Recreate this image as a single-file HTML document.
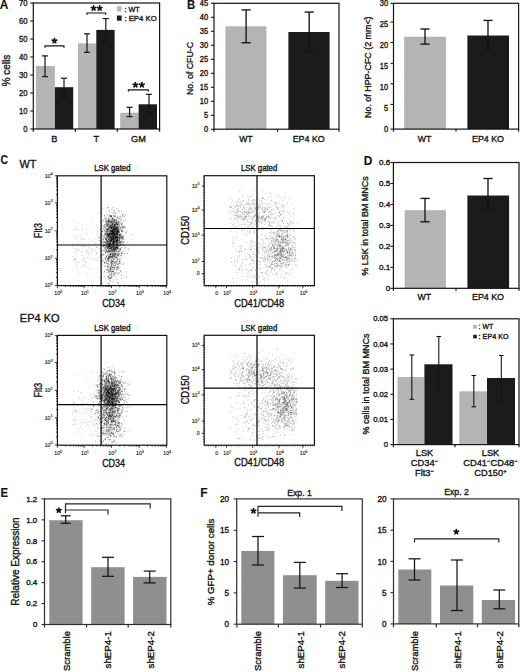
<!DOCTYPE html>
<html><head><meta charset="utf-8"><style>
html,body{margin:0;padding:0;background:#fff;overflow:hidden;}
svg{display:block;font-family:"Liberation Sans",sans-serif;}
</style></head><body>
<svg width="520" height="672" viewBox="0 0 520 672" fill="#151515">
<text transform="translate(-0.2 8.5) scale(0.953 1)" font-size="12.5" font-weight="bold" stroke="#151515" stroke-width="0.15">A</text>
<rect x="35.8" y="66" width="19.1" height="63" fill="#b4b4b4"/>
<rect x="54.9" y="87.2" width="18.3" height="41.8" fill="#1b1b1b"/>
<rect x="78" y="43.4" width="18.3" height="85.6" fill="#b4b4b4"/>
<rect x="96.3" y="29.9" width="18.3" height="99.1" fill="#1b1b1b"/>
<rect x="120.2" y="112.7" width="18.4" height="16.3" fill="#b4b4b4"/>
<rect x="138.6" y="104.3" width="18.4" height="24.7" fill="#1b1b1b"/>
<line x1="45" y1="55.9" x2="45" y2="76.6" stroke="#141414" stroke-width="1.2"/>
<line x1="42" y1="55.9" x2="48" y2="55.9" stroke="#141414" stroke-width="1.2"/>
<line x1="42" y1="76.6" x2="48" y2="76.6" stroke="#141414" stroke-width="1.2"/>
<line x1="64" y1="78.2" x2="64" y2="96" stroke="#141414" stroke-width="1.2"/>
<line x1="61" y1="78.2" x2="67" y2="78.2" stroke="#141414" stroke-width="1.2"/>
<line x1="61" y1="96" x2="67" y2="96" stroke="#141414" stroke-width="1.2"/>
<line x1="87" y1="33.8" x2="87" y2="52.4" stroke="#141414" stroke-width="1.2"/>
<line x1="84" y1="33.8" x2="90" y2="33.8" stroke="#141414" stroke-width="1.2"/>
<line x1="84" y1="52.4" x2="90" y2="52.4" stroke="#141414" stroke-width="1.2"/>
<line x1="105.8" y1="18.6" x2="105.8" y2="41.4" stroke="#141414" stroke-width="1.2"/>
<line x1="102.8" y1="18.6" x2="108.8" y2="18.6" stroke="#141414" stroke-width="1.2"/>
<line x1="102.8" y1="41.4" x2="108.8" y2="41.4" stroke="#141414" stroke-width="1.2"/>
<line x1="129.6" y1="107.3" x2="129.6" y2="116.6" stroke="#141414" stroke-width="1.2"/>
<line x1="126.6" y1="107.3" x2="132.6" y2="107.3" stroke="#141414" stroke-width="1.2"/>
<line x1="126.6" y1="116.6" x2="132.6" y2="116.6" stroke="#141414" stroke-width="1.2"/>
<line x1="149" y1="94.3" x2="149" y2="113.4" stroke="#141414" stroke-width="1.2"/>
<line x1="146" y1="94.3" x2="152" y2="94.3" stroke="#141414" stroke-width="1.2"/>
<line x1="146" y1="113.4" x2="152" y2="113.4" stroke="#141414" stroke-width="1.2"/>
<rect x="33.3" y="3" width="126.3" height="126" fill="none" stroke="#141414" stroke-width="1.2"/>
<line x1="30.3" y1="3" x2="33.3" y2="3" stroke="#141414" stroke-width="1.1"/>
<text transform="translate(27.5 6.15) scale(0.870 1)" font-size="8.9" text-anchor="end" stroke="#151515" stroke-width="0.35">70</text>
<line x1="30.3" y1="21" x2="33.3" y2="21" stroke="#141414" stroke-width="1.1"/>
<text transform="translate(27.5 24.15) scale(0.870 1)" font-size="8.9" text-anchor="end" stroke="#151515" stroke-width="0.35">60</text>
<line x1="30.3" y1="39" x2="33.3" y2="39" stroke="#141414" stroke-width="1.1"/>
<text transform="translate(27.5 42.15) scale(0.870 1)" font-size="8.9" text-anchor="end" stroke="#151515" stroke-width="0.35">50</text>
<line x1="30.3" y1="57" x2="33.3" y2="57" stroke="#141414" stroke-width="1.1"/>
<text transform="translate(27.5 60.15) scale(0.870 1)" font-size="8.9" text-anchor="end" stroke="#151515" stroke-width="0.35">40</text>
<line x1="30.3" y1="75" x2="33.3" y2="75" stroke="#141414" stroke-width="1.1"/>
<text transform="translate(27.5 78.15) scale(0.870 1)" font-size="8.9" text-anchor="end" stroke="#151515" stroke-width="0.35">30</text>
<line x1="30.3" y1="93" x2="33.3" y2="93" stroke="#141414" stroke-width="1.1"/>
<text transform="translate(27.5 96.15) scale(0.870 1)" font-size="8.9" text-anchor="end" stroke="#151515" stroke-width="0.35">20</text>
<line x1="30.3" y1="111" x2="33.3" y2="111" stroke="#141414" stroke-width="1.1"/>
<text transform="translate(27.5 114.15) scale(0.870 1)" font-size="8.9" text-anchor="end" stroke="#151515" stroke-width="0.35">10</text>
<line x1="30.3" y1="129" x2="33.3" y2="129" stroke="#141414" stroke-width="1.1"/>
<text transform="translate(27.5 132.15) scale(0.870 1)" font-size="8.9" text-anchor="end" stroke="#151515" stroke-width="0.35">0</text>
<line x1="33.3" y1="129" x2="33.3" y2="131.8" stroke="#141414" stroke-width="1.2"/>
<line x1="75.4" y1="129" x2="75.4" y2="131.8" stroke="#141414" stroke-width="1.2"/>
<line x1="117.3" y1="129" x2="117.3" y2="131.8" stroke="#141414" stroke-width="1.2"/>
<line x1="159.6" y1="129" x2="159.6" y2="131.8" stroke="#141414" stroke-width="1.2"/>
<text transform="translate(10 70.5) rotate(-90) scale(0.966 1)" font-size="10.3" text-anchor="middle" stroke="#151515" stroke-width="0.35">% cells</text>
<polyline points="45,47.8 45,45.8 64,45.8 64,47.8" fill="none" stroke="#141414" stroke-width="1.2"/>
<path d="M54.40 40.80L54.40 38.50M54.40 40.80L56.59 40.09M54.40 40.80L55.75 42.66M54.40 40.80L53.05 42.66M54.40 40.80L52.21 40.09" stroke="#111" stroke-width="1.7" stroke-linecap="round" fill="none"/>
<polyline points="87,14.8 87,13 105.6,13 105.6,14.8" fill="none" stroke="#141414" stroke-width="1.2"/>
<path d="M93.60 8.20L93.60 5.90M93.60 8.20L95.79 7.49M93.60 8.20L94.95 10.06M93.60 8.20L92.25 10.06M93.60 8.20L91.41 7.49" stroke="#111" stroke-width="1.7" stroke-linecap="round" fill="none"/>
<path d="M99.70 8.20L99.70 5.90M99.70 8.20L101.89 7.49M99.70 8.20L101.05 10.06M99.70 8.20L98.35 10.06M99.70 8.20L97.51 7.49" stroke="#111" stroke-width="1.7" stroke-linecap="round" fill="none"/>
<polyline points="128.4,91.6 128.4,89.8 148.3,89.8 148.3,91.6" fill="none" stroke="#141414" stroke-width="1.2"/>
<path d="M135.40 84.90L135.40 82.60M135.40 84.90L137.59 84.19M135.40 84.90L136.75 86.76M135.40 84.90L134.05 86.76M135.40 84.90L133.21 84.19" stroke="#111" stroke-width="1.7" stroke-linecap="round" fill="none"/>
<path d="M141.90 84.90L141.90 82.60M141.90 84.90L144.09 84.19M141.90 84.90L143.25 86.76M141.90 84.90L140.55 86.76M141.90 84.90L139.71 84.19" stroke="#111" stroke-width="1.7" stroke-linecap="round" fill="none"/>
<rect x="116.9" y="6.3" width="4.7" height="5.1" fill="#b4b4b4"/>
<rect x="116.9" y="15.5" width="4.7" height="5.2" fill="#1b1b1b"/>
<text transform="translate(124.4 11.5) scale(0.936 1)" font-size="7.8" stroke="#151515" stroke-width="0.35">: WT</text>
<text transform="translate(124.4 20.8) scale(0.993 1)" font-size="7.8" stroke="#151515" stroke-width="0.35">: EP4 KO</text>
<text transform="translate(54.4 142.3) scale(0.950 1)" font-size="9.7" text-anchor="middle" stroke="#151515" stroke-width="0.35">B</text>
<text transform="translate(96.3 142.3) scale(0.950 1)" font-size="9.7" text-anchor="middle" stroke="#151515" stroke-width="0.35">T</text>
<text transform="translate(138.4 142.3) scale(0.950 1)" font-size="9.7" text-anchor="middle" stroke="#151515" stroke-width="0.35">GM</text>
<text transform="translate(187 8.8) scale(0.946 1)" font-size="12" font-weight="bold" stroke="#151515" stroke-width="0.15">B</text>
<rect x="225.4" y="26.3" width="41" height="102.9" fill="#b4b4b4"/>
<rect x="288.4" y="32" width="41.2" height="97.2" fill="#1b1b1b"/>
<line x1="246.1" y1="9.9" x2="246.1" y2="42.7" stroke="#141414" stroke-width="1.35"/>
<line x1="241.5" y1="9.9" x2="250.7" y2="9.9" stroke="#141414" stroke-width="1.35"/>
<line x1="241.5" y1="42.7" x2="250.7" y2="42.7" stroke="#141414" stroke-width="1.35"/>
<line x1="309.2" y1="12.1" x2="309.2" y2="51.6" stroke="#141414" stroke-width="1.35"/>
<line x1="304.6" y1="12.1" x2="313.8" y2="12.1" stroke="#141414" stroke-width="1.35"/>
<line x1="304.6" y1="51.6" x2="313.8" y2="51.6" stroke="#141414" stroke-width="1.35"/>
<rect x="214" y="3.3" width="125" height="125.9" fill="none" stroke="#141414" stroke-width="1.2"/>
<line x1="211" y1="3.3" x2="214" y2="3.3" stroke="#141414" stroke-width="1.1"/>
<text transform="translate(208.2 6.25) scale(0.920 1)" font-size="8.16" text-anchor="end" stroke="#151515" stroke-width="0.35">45</text>
<line x1="211" y1="17.3" x2="214" y2="17.3" stroke="#141414" stroke-width="1.1"/>
<text transform="translate(208.2 20.25) scale(0.920 1)" font-size="8.16" text-anchor="end" stroke="#151515" stroke-width="0.35">40</text>
<line x1="211" y1="31.3" x2="214" y2="31.3" stroke="#141414" stroke-width="1.1"/>
<text transform="translate(208.2 34.25) scale(0.920 1)" font-size="8.16" text-anchor="end" stroke="#151515" stroke-width="0.35">35</text>
<line x1="211" y1="45.3" x2="214" y2="45.3" stroke="#141414" stroke-width="1.1"/>
<text transform="translate(208.2 48.25) scale(0.920 1)" font-size="8.16" text-anchor="end" stroke="#151515" stroke-width="0.35">30</text>
<line x1="211" y1="59.3" x2="214" y2="59.3" stroke="#141414" stroke-width="1.1"/>
<text transform="translate(208.2 62.25) scale(0.920 1)" font-size="8.16" text-anchor="end" stroke="#151515" stroke-width="0.35">25</text>
<line x1="211" y1="73.3" x2="214" y2="73.3" stroke="#141414" stroke-width="1.1"/>
<text transform="translate(208.2 76.25) scale(0.920 1)" font-size="8.16" text-anchor="end" stroke="#151515" stroke-width="0.35">20</text>
<line x1="211" y1="87.3" x2="214" y2="87.3" stroke="#141414" stroke-width="1.1"/>
<text transform="translate(208.2 90.25) scale(0.920 1)" font-size="8.16" text-anchor="end" stroke="#151515" stroke-width="0.35">15</text>
<line x1="211" y1="101.3" x2="214" y2="101.3" stroke="#141414" stroke-width="1.1"/>
<text transform="translate(208.2 104.25) scale(0.920 1)" font-size="8.16" text-anchor="end" stroke="#151515" stroke-width="0.35">10</text>
<line x1="211" y1="115.3" x2="214" y2="115.3" stroke="#141414" stroke-width="1.1"/>
<text transform="translate(208.2 118.25) scale(0.920 1)" font-size="8.16" text-anchor="end" stroke="#151515" stroke-width="0.35">5</text>
<line x1="211" y1="129.3" x2="214" y2="129.3" stroke="#141414" stroke-width="1.1"/>
<text transform="translate(208.2 132.25) scale(0.920 1)" font-size="8.16" text-anchor="end" stroke="#151515" stroke-width="0.35">0</text>
<line x1="213.9" y1="129.2" x2="213.9" y2="131.8" stroke="#141414" stroke-width="1.2"/>
<line x1="277.5" y1="129.2" x2="277.5" y2="131.8" stroke="#141414" stroke-width="1.2"/>
<line x1="339" y1="129.2" x2="339" y2="131.8" stroke="#141414" stroke-width="1.2"/>
<text transform="translate(192.6 68.5) rotate(-90) scale(0.893 1)" font-size="9.8" text-anchor="middle" stroke="#151515" stroke-width="0.35">No. of CFU-C</text>
<text transform="translate(245.9 141.8) scale(0.987 1)" font-size="8.8" text-anchor="middle" stroke="#151515" stroke-width="0.35">WT</text>
<text transform="translate(308.7 141.8) scale(1.010 1)" font-size="8.8" text-anchor="middle" stroke="#151515" stroke-width="0.35">EP4 KO</text>
<rect x="404.2" y="36.7" width="41.8" height="92.4" fill="#b4b4b4"/>
<rect x="467.4" y="35.5" width="41.6" height="93.6" fill="#1b1b1b"/>
<line x1="425" y1="29" x2="425" y2="44.1" stroke="#141414" stroke-width="1.35"/>
<line x1="420.4" y1="29" x2="429.6" y2="29" stroke="#141414" stroke-width="1.35"/>
<line x1="420.4" y1="44.1" x2="429.6" y2="44.1" stroke="#141414" stroke-width="1.35"/>
<line x1="488" y1="20.4" x2="488" y2="49.8" stroke="#141414" stroke-width="1.35"/>
<line x1="483.4" y1="20.4" x2="492.6" y2="20.4" stroke="#141414" stroke-width="1.35"/>
<line x1="483.4" y1="49.8" x2="492.6" y2="49.8" stroke="#141414" stroke-width="1.35"/>
<rect x="393.5" y="3.3" width="125.1" height="125.8" fill="none" stroke="#141414" stroke-width="1.2"/>
<line x1="390.5" y1="3.4" x2="393.5" y2="3.4" stroke="#141414" stroke-width="1.1"/>
<text transform="translate(388.2 6.45) scale(0.920 1)" font-size="8.16" text-anchor="end" stroke="#151515" stroke-width="0.35">30</text>
<line x1="390.5" y1="22.1" x2="393.5" y2="22.1" stroke="#141414" stroke-width="1.1"/>
<text transform="translate(388.2 27.45) scale(0.920 1)" font-size="8.16" text-anchor="end" stroke="#151515" stroke-width="0.35">25</text>
<line x1="390.5" y1="42.5" x2="393.5" y2="42.5" stroke="#141414" stroke-width="1.1"/>
<text transform="translate(388.2 47.75) scale(0.920 1)" font-size="8.16" text-anchor="end" stroke="#151515" stroke-width="0.35">20</text>
<line x1="390.5" y1="63.3" x2="393.5" y2="63.3" stroke="#141414" stroke-width="1.1"/>
<text transform="translate(388.2 68.85) scale(0.920 1)" font-size="8.16" text-anchor="end" stroke="#151515" stroke-width="0.35">15</text>
<line x1="390.5" y1="83.8" x2="393.5" y2="83.8" stroke="#141414" stroke-width="1.1"/>
<text transform="translate(388.2 90.25) scale(0.920 1)" font-size="8.16" text-anchor="end" stroke="#151515" stroke-width="0.35">10</text>
<line x1="390.5" y1="104.4" x2="393.5" y2="104.4" stroke="#141414" stroke-width="1.1"/>
<text transform="translate(388.2 110.95) scale(0.920 1)" font-size="8.16" text-anchor="end" stroke="#151515" stroke-width="0.35">5</text>
<line x1="390.5" y1="129.1" x2="393.5" y2="129.1" stroke="#141414" stroke-width="1.1"/>
<text transform="translate(388.2 131.55) scale(0.920 1)" font-size="8.16" text-anchor="end" stroke="#151515" stroke-width="0.35">0</text>
<line x1="393.5" y1="129.1" x2="393.5" y2="131.6" stroke="#141414" stroke-width="1.2"/>
<line x1="456" y1="129.1" x2="456" y2="131.6" stroke="#141414" stroke-width="1.2"/>
<line x1="518.6" y1="129.1" x2="518.6" y2="131.6" stroke="#141414" stroke-width="1.2"/>
<text transform="translate(371.2 67.2) rotate(-90) scale(0.957 1)" font-size="9.3" text-anchor="middle" stroke="#151515" stroke-width="0.35">No. of HPP-CFC (2 mm&lt;)</text>
<text transform="translate(424.5 141.8) scale(0.987 1)" font-size="8.8" text-anchor="middle" stroke="#151515" stroke-width="0.35">WT</text>
<text transform="translate(488 141.8) scale(1.010 1)" font-size="8.8" text-anchor="middle" stroke="#151515" stroke-width="0.35">EP4 KO</text>
<text transform="translate(363.8 164.9) scale(0.992 1)" font-size="12" font-weight="bold" stroke="#151515" stroke-width="0.15">D</text>
<rect x="404.7" y="210.2" width="41.2" height="78.1" fill="#b4b4b4"/>
<rect x="467.4" y="195.5" width="41.7" height="92.8" fill="#1b1b1b"/>
<line x1="425" y1="198.4" x2="425" y2="221.8" stroke="#141414" stroke-width="1.35"/>
<line x1="420.4" y1="198.4" x2="429.6" y2="198.4" stroke="#141414" stroke-width="1.35"/>
<line x1="420.4" y1="221.8" x2="429.6" y2="221.8" stroke="#141414" stroke-width="1.35"/>
<line x1="488" y1="178.5" x2="488" y2="210.9" stroke="#141414" stroke-width="1.35"/>
<line x1="483.4" y1="178.5" x2="492.6" y2="178.5" stroke="#141414" stroke-width="1.35"/>
<line x1="483.4" y1="210.9" x2="492.6" y2="210.9" stroke="#141414" stroke-width="1.35"/>
<rect x="393.4" y="162.5" width="125.6" height="125.8" fill="none" stroke="#141414" stroke-width="1.2"/>
<line x1="390.4" y1="162.5" x2="393.4" y2="162.5" stroke="#141414" stroke-width="1.1"/>
<text transform="translate(390.2 165.25)" font-size="8.06" text-anchor="end" stroke="#151515" stroke-width="0.35">0.6</text>
<line x1="390.4" y1="183.47" x2="393.4" y2="183.47" stroke="#141414" stroke-width="1.1"/>
<text transform="translate(390.2 186.22)" font-size="8.06" text-anchor="end" stroke="#151515" stroke-width="0.35">0.5</text>
<line x1="390.4" y1="204.43" x2="393.4" y2="204.43" stroke="#141414" stroke-width="1.1"/>
<text transform="translate(390.2 207.18)" font-size="8.06" text-anchor="end" stroke="#151515" stroke-width="0.35">0.4</text>
<line x1="390.4" y1="225.4" x2="393.4" y2="225.4" stroke="#141414" stroke-width="1.1"/>
<text transform="translate(390.2 228.15)" font-size="8.06" text-anchor="end" stroke="#151515" stroke-width="0.35">0.3</text>
<line x1="390.4" y1="246.37" x2="393.4" y2="246.37" stroke="#141414" stroke-width="1.1"/>
<text transform="translate(390.2 249.12)" font-size="8.06" text-anchor="end" stroke="#151515" stroke-width="0.35">0.2</text>
<line x1="390.4" y1="267.33" x2="393.4" y2="267.33" stroke="#141414" stroke-width="1.1"/>
<text transform="translate(390.2 270.08)" font-size="8.06" text-anchor="end" stroke="#151515" stroke-width="0.35">0.1</text>
<line x1="390.4" y1="288.3" x2="393.4" y2="288.3" stroke="#141414" stroke-width="1.1"/>
<text transform="translate(390.2 291.05)" font-size="8.06" text-anchor="end" stroke="#151515" stroke-width="0.35">0</text>
<line x1="393.4" y1="288.3" x2="393.4" y2="290.8" stroke="#141414" stroke-width="1.2"/>
<line x1="456" y1="288.3" x2="456" y2="290.8" stroke="#141414" stroke-width="1.2"/>
<line x1="519" y1="288.3" x2="519" y2="290.8" stroke="#141414" stroke-width="1.2"/>
<text transform="translate(368.2 226) rotate(-90) scale(0.963 1)" font-size="9.3" text-anchor="middle" stroke="#151515" stroke-width="0.35">% LSK in total BM MNCs</text>
<text transform="translate(424.3 299.9) scale(0.987 1)" font-size="8.8" text-anchor="middle" stroke="#151515" stroke-width="0.35">WT</text>
<text transform="translate(488 299.9) scale(1.010 1)" font-size="8.8" text-anchor="middle" stroke="#151515" stroke-width="0.35">EP4 KO</text>
<rect x="397.5" y="377" width="26.9" height="67.6" fill="#b4b4b4"/>
<rect x="424.4" y="364.3" width="28.1" height="80.3" fill="#1b1b1b"/>
<rect x="459.3" y="391.3" width="27.7" height="53.3" fill="#b4b4b4"/>
<rect x="487" y="378" width="28" height="66.6" fill="#1b1b1b"/>
<line x1="411.8" y1="355" x2="411.8" y2="399.3" stroke="#141414" stroke-width="1.1"/>
<line x1="409.5" y1="355" x2="414.1" y2="355" stroke="#141414" stroke-width="1.1"/>
<line x1="409.5" y1="399.3" x2="414.1" y2="399.3" stroke="#141414" stroke-width="1.1"/>
<line x1="438.8" y1="336.5" x2="438.8" y2="392" stroke="#141414" stroke-width="1.1"/>
<line x1="436.5" y1="336.5" x2="441.1" y2="336.5" stroke="#141414" stroke-width="1.1"/>
<line x1="436.5" y1="392" x2="441.1" y2="392" stroke="#141414" stroke-width="1.1"/>
<line x1="473.8" y1="375.5" x2="473.8" y2="406.8" stroke="#141414" stroke-width="1.1"/>
<line x1="471.5" y1="375.5" x2="476.1" y2="375.5" stroke="#141414" stroke-width="1.1"/>
<line x1="471.5" y1="406.8" x2="476.1" y2="406.8" stroke="#141414" stroke-width="1.1"/>
<line x1="501.3" y1="355.5" x2="501.3" y2="400" stroke="#141414" stroke-width="1.1"/>
<line x1="499" y1="355.5" x2="503.6" y2="355.5" stroke="#141414" stroke-width="1.1"/>
<line x1="499" y1="400" x2="503.6" y2="400" stroke="#141414" stroke-width="1.1"/>
<rect x="393.4" y="318.8" width="125.6" height="125.8" fill="none" stroke="#141414" stroke-width="1.2"/>
<line x1="390.4" y1="318.8" x2="393.4" y2="318.8" stroke="#141414" stroke-width="1.1"/>
<text transform="translate(388 321.45)" font-size="7.63" text-anchor="end" stroke="#151515" stroke-width="0.35">0.05</text>
<line x1="390.4" y1="343.96" x2="393.4" y2="343.96" stroke="#141414" stroke-width="1.1"/>
<text transform="translate(388 346.61)" font-size="7.63" text-anchor="end" stroke="#151515" stroke-width="0.35">0.04</text>
<line x1="390.4" y1="369.12" x2="393.4" y2="369.12" stroke="#141414" stroke-width="1.1"/>
<text transform="translate(388 371.77)" font-size="7.63" text-anchor="end" stroke="#151515" stroke-width="0.35">0.03</text>
<line x1="390.4" y1="394.28" x2="393.4" y2="394.28" stroke="#141414" stroke-width="1.1"/>
<text transform="translate(388 396.93)" font-size="7.63" text-anchor="end" stroke="#151515" stroke-width="0.35">0.02</text>
<line x1="390.4" y1="419.44" x2="393.4" y2="419.44" stroke="#141414" stroke-width="1.1"/>
<text transform="translate(388 422.09)" font-size="7.63" text-anchor="end" stroke="#151515" stroke-width="0.35">0.01</text>
<line x1="390.4" y1="444.6" x2="393.4" y2="444.6" stroke="#141414" stroke-width="1.1"/>
<text transform="translate(388 447.25)" font-size="7.63" text-anchor="end" stroke="#151515" stroke-width="0.35">0</text>
<line x1="393.4" y1="444.6" x2="393.4" y2="447.2" stroke="#141414" stroke-width="1.2"/>
<line x1="455" y1="444.6" x2="455" y2="447.2" stroke="#141414" stroke-width="1.2"/>
<line x1="519" y1="444.6" x2="519" y2="447.2" stroke="#141414" stroke-width="1.2"/>
<rect x="473.2" y="325" width="3.6" height="3.6" fill="#b4b4b4"/>
<rect x="473.2" y="334.8" width="3.6" height="3.6" fill="#1b1b1b"/>
<text transform="translate(478.6 329.3) scale(0.941 1)" font-size="7.3" stroke="#151515" stroke-width="0.35">: WT</text>
<text transform="translate(478.6 339.1) scale(0.986 1)" font-size="7.3" stroke="#151515" stroke-width="0.35">: EP4 KO</text>
<text transform="translate(368.5 384) rotate(-90) scale(0.970 1)" font-size="9.3" text-anchor="middle" stroke="#151515" stroke-width="0.35">% cells in total BM MNCs</text>
<text transform="translate(424.5 455.6)" font-size="9.3" text-anchor="middle" stroke="#151515" stroke-width="0.35">LSK</text>
<text transform="translate(424.5 466.3)" font-size="9.3" text-anchor="middle" stroke="#151515" stroke-width="0.35">CD34<tspan font-size="6" dy="-3.2">−</tspan></text>
<text transform="translate(424.5 476.3)" font-size="9.3" text-anchor="middle" stroke="#151515" stroke-width="0.35">Flt3<tspan font-size="6" dy="-3.2">−</tspan></text>
<text transform="translate(490.5 455.6)" font-size="9.3" text-anchor="middle" stroke="#151515" stroke-width="0.35">LSK</text>
<text transform="translate(490.5 466.3)" font-size="9.3" text-anchor="middle" stroke="#151515" stroke-width="0.35">CD41<tspan font-size="6" dy="-3.2">−</tspan><tspan dy="3.2">CD48</tspan><tspan font-size="6" dy="-3.2">−</tspan></text>
<text transform="translate(490.5 476.3)" font-size="9.3" text-anchor="middle" stroke="#151515" stroke-width="0.35">CD150<tspan font-size="6" dy="-3.2">+</tspan></text>
<text transform="translate(0.5 497.2) scale(0.949 1)" font-size="12" font-weight="bold" stroke="#151515" stroke-width="0.15">E</text>
<rect x="49.3" y="520.2" width="33.3" height="104.3" fill="#8f8f8f"/>
<rect x="91.2" y="567.2" width="33.4" height="57.3" fill="#8f8f8f"/>
<rect x="133.1" y="576.9" width="33.4" height="47.6" fill="#8f8f8f"/>
<line x1="65.7" y1="515.8" x2="65.7" y2="523.3" stroke="#141414" stroke-width="1.25"/>
<line x1="60.7" y1="515.8" x2="70.7" y2="515.8" stroke="#141414" stroke-width="1.25"/>
<line x1="60.7" y1="523.3" x2="70.7" y2="523.3" stroke="#141414" stroke-width="1.25"/>
<line x1="108" y1="557.3" x2="108" y2="576.3" stroke="#141414" stroke-width="1.25"/>
<line x1="102" y1="557.3" x2="114" y2="557.3" stroke="#141414" stroke-width="1.25"/>
<line x1="102" y1="576.3" x2="114" y2="576.3" stroke="#141414" stroke-width="1.25"/>
<line x1="149.7" y1="571.1" x2="149.7" y2="582.9" stroke="#141414" stroke-width="1.25"/>
<line x1="143.7" y1="571.1" x2="155.7" y2="571.1" stroke="#141414" stroke-width="1.25"/>
<line x1="143.7" y1="582.9" x2="155.7" y2="582.9" stroke="#141414" stroke-width="1.25"/>
<rect x="44.5" y="498.9" width="126.3" height="125.6" fill="none" stroke="#2e2e2e" stroke-width="1.2"/>
<line x1="41.5" y1="498.9" x2="44.5" y2="498.9" stroke="#2e2e2e" stroke-width="1.1"/>
<text transform="translate(37.3 501.65)" font-size="7.95" text-anchor="end" stroke="#151515" stroke-width="0.35">1.2</text>
<line x1="41.5" y1="519.83" x2="44.5" y2="519.83" stroke="#2e2e2e" stroke-width="1.1"/>
<text transform="translate(37.3 522.58)" font-size="7.95" text-anchor="end" stroke="#151515" stroke-width="0.35">1.0</text>
<line x1="41.5" y1="540.77" x2="44.5" y2="540.77" stroke="#2e2e2e" stroke-width="1.1"/>
<text transform="translate(37.3 543.52)" font-size="7.95" text-anchor="end" stroke="#151515" stroke-width="0.35">0.8</text>
<line x1="41.5" y1="561.7" x2="44.5" y2="561.7" stroke="#2e2e2e" stroke-width="1.1"/>
<text transform="translate(37.3 564.45)" font-size="7.95" text-anchor="end" stroke="#151515" stroke-width="0.35">0.6</text>
<line x1="41.5" y1="582.63" x2="44.5" y2="582.63" stroke="#2e2e2e" stroke-width="1.1"/>
<text transform="translate(37.3 585.38)" font-size="7.95" text-anchor="end" stroke="#151515" stroke-width="0.35">0.4</text>
<line x1="41.5" y1="603.57" x2="44.5" y2="603.57" stroke="#2e2e2e" stroke-width="1.1"/>
<text transform="translate(37.3 606.32)" font-size="7.95" text-anchor="end" stroke="#151515" stroke-width="0.35">0.2</text>
<line x1="41.5" y1="624.5" x2="44.5" y2="624.5" stroke="#2e2e2e" stroke-width="1.1"/>
<text transform="translate(37.3 627.25)" font-size="7.95" text-anchor="end" stroke="#151515" stroke-width="0.35">0</text>
<line x1="44.4" y1="624.5" x2="44.4" y2="627.5" stroke="#2e2e2e" stroke-width="1.2"/>
<line x1="86.5" y1="624.5" x2="86.5" y2="627.5" stroke="#2e2e2e" stroke-width="1.2"/>
<line x1="128.2" y1="624.5" x2="128.2" y2="627.5" stroke="#2e2e2e" stroke-width="1.2"/>
<line x1="170.8" y1="624.5" x2="170.8" y2="627.5" stroke="#2e2e2e" stroke-width="1.2"/>
<polyline points="65.5,513.2 65.5,503.9 150.2,503.9 150.2,508.4" fill="none" stroke="#252525" stroke-width="1.2"/>
<polyline points="65.5,510 108,510 108,514.4" fill="none" stroke="#252525" stroke-width="1.2"/>
<path d="M58.80 510.30L58.80 508.00M58.80 510.30L60.99 509.59M58.80 510.30L60.15 512.16M58.80 510.30L57.45 512.16M58.80 510.30L56.61 509.59" stroke="#111" stroke-width="1.7" stroke-linecap="round" fill="none"/>
<text transform="translate(18.8 561.5) rotate(-90)" font-size="10" text-anchor="middle" stroke="#151515" stroke-width="0.35">Relative Expression</text>
<text transform="translate(70.2 631.1) rotate(-90) scale(0.986 1)" font-size="9.6" text-anchor="end" stroke="#151515" stroke-width="0.35">Scramble</text>
<text transform="translate(110.6 631.1) rotate(-90) scale(1.016 1)" font-size="9.6" text-anchor="end" stroke="#151515" stroke-width="0.35">shEP4-1</text>
<text transform="translate(153.9 631.1) rotate(-90) scale(1.016 1)" font-size="9.6" text-anchor="end" stroke="#151515" stroke-width="0.35">shEP4-2</text>
<text transform="translate(200.3 497.4)" font-size="12" font-weight="bold" stroke="#151515" stroke-width="0.15">F</text>
<text transform="translate(299.5 496.2) scale(0.967 1)" font-size="8.9" text-anchor="middle" stroke="#151515" stroke-width="0.35">Exp. 1</text>
<rect x="241.3" y="550.9" width="33.1" height="73.3" fill="#8f8f8f"/>
<rect x="282.9" y="575.2" width="33.8" height="49" fill="#8f8f8f"/>
<rect x="325.2" y="580.8" width="33.3" height="43.4" fill="#8f8f8f"/>
<line x1="258" y1="536.5" x2="258" y2="565" stroke="#141414" stroke-width="1.25"/>
<line x1="252" y1="536.5" x2="264" y2="536.5" stroke="#141414" stroke-width="1.25"/>
<line x1="252" y1="565" x2="264" y2="565" stroke="#141414" stroke-width="1.25"/>
<line x1="299.8" y1="562.4" x2="299.8" y2="588.1" stroke="#141414" stroke-width="1.25"/>
<line x1="293.8" y1="562.4" x2="305.8" y2="562.4" stroke="#141414" stroke-width="1.25"/>
<line x1="293.8" y1="588.1" x2="305.8" y2="588.1" stroke="#141414" stroke-width="1.25"/>
<line x1="342.1" y1="573.7" x2="342.1" y2="587.5" stroke="#141414" stroke-width="1.25"/>
<line x1="336.1" y1="573.7" x2="348.1" y2="573.7" stroke="#141414" stroke-width="1.25"/>
<line x1="336.1" y1="587.5" x2="348.1" y2="587.5" stroke="#141414" stroke-width="1.25"/>
<rect x="236.7" y="498.9" width="125.6" height="125.3" fill="none" stroke="#2e2e2e" stroke-width="1.2"/>
<line x1="233.7" y1="498.9" x2="236.7" y2="498.9" stroke="#2e2e2e" stroke-width="1.1"/>
<text transform="translate(229.1 502.05)" font-size="8.16" text-anchor="end" stroke="#151515" stroke-width="0.35">20</text>
<line x1="233.7" y1="530.23" x2="236.7" y2="530.23" stroke="#2e2e2e" stroke-width="1.1"/>
<text transform="translate(229.1 533.38)" font-size="8.16" text-anchor="end" stroke="#151515" stroke-width="0.35">15</text>
<line x1="233.7" y1="561.55" x2="236.7" y2="561.55" stroke="#2e2e2e" stroke-width="1.1"/>
<text transform="translate(229.1 564.7)" font-size="8.16" text-anchor="end" stroke="#151515" stroke-width="0.35">10</text>
<line x1="233.7" y1="592.88" x2="236.7" y2="592.88" stroke="#2e2e2e" stroke-width="1.1"/>
<text transform="translate(229.1 596.02)" font-size="8.16" text-anchor="end" stroke="#151515" stroke-width="0.35">5</text>
<line x1="233.7" y1="624.2" x2="236.7" y2="624.2" stroke="#2e2e2e" stroke-width="1.1"/>
<text transform="translate(229.1 627.35)" font-size="8.16" text-anchor="end" stroke="#151515" stroke-width="0.35">0</text>
<line x1="236.9" y1="624.2" x2="236.9" y2="627.5" stroke="#2e2e2e" stroke-width="1.2"/>
<line x1="278.4" y1="624.2" x2="278.4" y2="627.5" stroke="#2e2e2e" stroke-width="1.2"/>
<line x1="320.5" y1="624.2" x2="320.5" y2="627.5" stroke="#2e2e2e" stroke-width="1.2"/>
<line x1="362.3" y1="624.2" x2="362.3" y2="627.5" stroke="#2e2e2e" stroke-width="1.2"/>
<polyline points="258,516.8 258,506.4 341.9,506.4 341.9,510.9" fill="none" stroke="#252525" stroke-width="1.2"/>
<polyline points="258,512.8 299.7,512.8 299.7,517" fill="none" stroke="#252525" stroke-width="1.2"/>
<path d="M253.50 510.90L253.50 508.60M253.50 510.90L255.69 510.19M253.50 510.90L254.85 512.76M253.50 510.90L252.15 512.76M253.50 510.90L251.31 510.19" stroke="#111" stroke-width="1.7" stroke-linecap="round" fill="none"/>
<text transform="translate(214.3 562) rotate(-90) scale(1.012 1)" font-size="9.6" text-anchor="middle" stroke="#151515" stroke-width="0.35">% GFP+ donor cells</text>
<text transform="translate(261.3 631.1) rotate(-90) scale(0.986 1)" font-size="9.6" text-anchor="end" stroke="#151515" stroke-width="0.35">Scramble</text>
<text transform="translate(303.5 631.1) rotate(-90) scale(1.016 1)" font-size="9.6" text-anchor="end" stroke="#151515" stroke-width="0.35">shEP4-1</text>
<text transform="translate(345.4 631.1) rotate(-90) scale(1.016 1)" font-size="9.6" text-anchor="end" stroke="#151515" stroke-width="0.35">shEP4-2</text>
<text transform="translate(456.5 494.6) scale(0.967 1)" font-size="8.9" text-anchor="middle" stroke="#151515" stroke-width="0.35">Exp. 2</text>
<rect x="398.3" y="569.5" width="33" height="54.4" fill="#8f8f8f"/>
<rect x="440" y="585.5" width="33.3" height="38.4" fill="#8f8f8f"/>
<rect x="481.8" y="600" width="33.2" height="23.9" fill="#8f8f8f"/>
<line x1="414.5" y1="558.8" x2="414.5" y2="580" stroke="#141414" stroke-width="1.25"/>
<line x1="408.5" y1="558.8" x2="420.5" y2="558.8" stroke="#141414" stroke-width="1.25"/>
<line x1="408.5" y1="580" x2="420.5" y2="580" stroke="#141414" stroke-width="1.25"/>
<line x1="457" y1="560" x2="457" y2="610.5" stroke="#141414" stroke-width="1.25"/>
<line x1="451" y1="560" x2="463" y2="560" stroke="#141414" stroke-width="1.25"/>
<line x1="451" y1="610.5" x2="463" y2="610.5" stroke="#141414" stroke-width="1.25"/>
<line x1="499.3" y1="590" x2="499.3" y2="608.8" stroke="#141414" stroke-width="1.25"/>
<line x1="493.3" y1="590" x2="505.3" y2="590" stroke="#141414" stroke-width="1.25"/>
<line x1="493.3" y1="608.8" x2="505.3" y2="608.8" stroke="#141414" stroke-width="1.25"/>
<rect x="393.5" y="498.9" width="125.3" height="125" fill="none" stroke="#2e2e2e" stroke-width="1.2"/>
<line x1="390.5" y1="498.9" x2="393.5" y2="498.9" stroke="#2e2e2e" stroke-width="1.1"/>
<text transform="translate(386.5 502.05)" font-size="8.16" text-anchor="end" stroke="#151515" stroke-width="0.35">20</text>
<line x1="390.5" y1="530.15" x2="393.5" y2="530.15" stroke="#2e2e2e" stroke-width="1.1"/>
<text transform="translate(386.5 533.3)" font-size="8.16" text-anchor="end" stroke="#151515" stroke-width="0.35">15</text>
<line x1="390.5" y1="561.4" x2="393.5" y2="561.4" stroke="#2e2e2e" stroke-width="1.1"/>
<text transform="translate(386.5 564.55)" font-size="8.16" text-anchor="end" stroke="#151515" stroke-width="0.35">10</text>
<line x1="390.5" y1="592.65" x2="393.5" y2="592.65" stroke="#2e2e2e" stroke-width="1.1"/>
<text transform="translate(386.5 595.8)" font-size="8.16" text-anchor="end" stroke="#151515" stroke-width="0.35">5</text>
<line x1="390.5" y1="623.9" x2="393.5" y2="623.9" stroke="#2e2e2e" stroke-width="1.1"/>
<text transform="translate(386.5 627.05)" font-size="8.16" text-anchor="end" stroke="#151515" stroke-width="0.35">0</text>
<line x1="393.5" y1="623.9" x2="393.5" y2="627.2" stroke="#2e2e2e" stroke-width="1.2"/>
<line x1="436.3" y1="623.9" x2="436.3" y2="627.2" stroke="#2e2e2e" stroke-width="1.2"/>
<line x1="477.5" y1="623.9" x2="477.5" y2="627.2" stroke="#2e2e2e" stroke-width="1.2"/>
<line x1="518.8" y1="623.9" x2="518.8" y2="627.2" stroke="#2e2e2e" stroke-width="1.2"/>
<polyline points="414.5,542.6 414.5,538.8 498.8,538.8 498.8,542.6" fill="none" stroke="#252525" stroke-width="1.2"/>
<path d="M456.30 531.80L456.30 529.50M456.30 531.80L458.49 531.09M456.30 531.80L457.65 533.66M456.30 531.80L454.95 533.66M456.30 531.80L454.11 531.09" stroke="#111" stroke-width="1.7" stroke-linecap="round" fill="none"/>
<text transform="translate(418 631.1) rotate(-90) scale(0.986 1)" font-size="9.6" text-anchor="end" stroke="#151515" stroke-width="0.35">Scramble</text>
<text transform="translate(461 631.1) rotate(-90) scale(1.016 1)" font-size="9.6" text-anchor="end" stroke="#151515" stroke-width="0.35">shEP4-1</text>
<text transform="translate(503.3 631.1) rotate(-90) scale(1.016 1)" font-size="9.6" text-anchor="end" stroke="#151515" stroke-width="0.35">shEP4-2</text>
<text transform="translate(0.5 164.1) scale(0.824 1)" font-size="12.6" font-weight="bold" stroke="#151515" stroke-width="0.15">C</text>
<text transform="translate(19.6 167.6) scale(0.962 1)" font-size="11.3" stroke="#151515" stroke-width="0.35">WT</text>
<text transform="translate(19.8 321.9) scale(1.049 1)" font-size="10.5" stroke="#151515" stroke-width="0.35">EP4 KO</text>
<path d="M114.7 238.9h0.85M116.9 247.7h0.85M114.6 256.7h0.85M106.7 263.5h0.85M117.3 248.5h0.85M115.1 223.4h0.85M110.4 231.0h0.85M115.8 237.5h0.85M114.7 255.7h0.85M114.4 241.8h0.85M113.1 247.0h0.85M115.6 233.3h0.85M109.5 240.9h0.85M112.2 242.2h0.85M110.7 230.4h0.85M115.9 242.8h0.85M113.2 245.7h0.85M111.6 233.4h0.85M109.2 245.2h0.85M111.8 251.5h0.85M113.0 235.7h0.85M111.7 235.0h0.85M119.2 231.9h0.85M117.8 228.8h0.85M100.0 236.6h0.85M103.9 230.9h0.85M112.2 231.9h0.85M111.0 227.3h0.85M114.0 219.6h0.85M114.0 225.6h0.85M123.2 238.3h0.85M107.7 223.2h0.85M111.2 228.5h0.85M122.8 251.4h0.85M116.1 246.3h0.85M116.2 228.1h0.85M110.5 241.0h0.85M105.1 228.5h0.85M113.8 251.3h0.85M113.5 229.1h0.85M107.1 235.8h0.85M109.7 248.8h0.85M112.7 226.7h0.85M108.5 248.0h0.85M112.5 226.8h0.85M113.5 237.4h0.85M113.2 232.0h0.85M110.6 234.1h0.85M115.8 236.6h0.85M117.3 234.3h0.85M114.5 224.8h0.85M109.1 243.7h0.85M116.5 242.2h0.85M110.6 247.9h0.85M117.2 248.8h0.85M107.9 221.6h0.85M117.4 247.9h0.85M112.9 248.0h0.85M107.0 229.7h0.85M111.5 245.4h0.85M113.3 249.7h0.85M114.3 229.6h0.85M108.3 221.2h0.85M107.7 231.4h0.85M114.0 262.9h0.85M110.8 237.4h0.85M114.1 222.9h0.85M116.6 232.5h0.85M105.1 225.1h0.85M114.2 231.0h0.85M118.9 236.0h0.85M111.6 209.4h0.85M109.1 238.6h0.85M116.6 249.1h0.85M114.2 233.0h0.85M117.3 231.2h0.85M111.3 245.9h0.85M105.9 222.3h0.85M112.5 222.5h0.85M110.9 221.1h0.85M116.7 233.4h0.85M113.9 238.9h0.85M105.2 234.1h0.85M107.3 240.5h0.85M117.2 243.3h0.85M116.3 240.0h0.85M109.9 226.9h0.85M113.0 232.3h0.85M115.1 247.5h0.85M115.2 224.5h0.85M117.2 232.5h0.85M114.2 230.8h0.85M112.5 233.2h0.85M111.8 224.2h0.85M118.1 221.5h0.85M102.2 260.6h0.85M112.3 244.5h0.85M113.2 227.9h0.85M106.2 234.4h0.85M114.6 241.8h0.85M109.9 231.6h0.85M117.1 241.2h0.85M112.4 228.8h0.85M116.2 231.4h0.85M118.9 234.2h0.85M114.8 230.4h0.85M108.8 210.5h0.85M105.7 235.2h0.85M121.4 237.6h0.85M112.5 239.8h0.85M109.7 225.1h0.85M113.7 238.4h0.85M112.1 237.2h0.85M117.1 217.3h0.85M113.2 213.0h0.85M113.1 239.8h0.85M109.6 225.5h0.85M115.3 245.0h0.85M108.0 256.4h0.85M116.2 229.2h0.85M120.3 228.1h0.85M105.7 234.9h0.85M101.2 241.7h0.85M116.0 223.6h0.85M125.2 247.5h0.85M108.2 244.9h0.85M107.0 241.6h0.85M115.8 229.6h0.85M109.0 244.2h0.85M110.6 243.6h0.85M111.3 223.0h0.85M115.6 255.9h0.85M111.1 232.0h0.85M114.3 238.7h0.85M112.2 229.8h0.85M108.9 238.8h0.85M111.5 246.6h0.85M108.4 226.9h0.85M113.0 218.4h0.85M107.6 230.5h0.85M107.8 221.9h0.85M120.0 227.4h0.85M112.7 233.7h0.85M112.7 234.4h0.85M115.5 247.9h0.85M111.0 224.9h0.85M111.9 238.5h0.85M115.0 229.9h0.85M114.4 248.7h0.85M107.4 260.3h0.85M117.0 238.0h0.85M110.2 251.7h0.85M107.9 229.7h0.85M108.7 219.0h0.85M111.1 222.3h0.85M120.8 219.2h0.85M107.4 225.5h0.85M113.8 232.6h0.85M102.7 246.5h0.85M113.0 242.0h0.85M117.3 239.6h0.85M111.9 230.8h0.85M110.0 227.8h0.85M114.1 235.3h0.85M116.4 236.4h0.85M116.2 237.6h0.85M122.5 238.7h0.85M114.0 233.8h0.85M110.2 215.8h0.85M112.4 223.8h0.85M112.7 226.7h0.85M113.5 252.0h0.85M112.9 230.7h0.85M113.8 241.8h0.85M105.0 249.6h0.85M117.0 238.3h0.85M110.2 231.1h0.85M107.4 232.1h0.85M116.1 224.8h0.85M119.3 238.1h0.85M115.4 246.3h0.85M113.8 240.7h0.85M108.5 242.7h0.85M126.8 242.2h0.85M117.2 255.0h0.85M107.5 228.7h0.85M109.3 236.6h0.85M113.4 242.1h0.85M105.5 247.5h0.85M113.8 210.7h0.85M110.8 229.8h0.85M118.9 232.9h0.85M117.6 224.7h0.85M100.0 243.5h0.85M113.2 237.2h0.85M105.2 231.0h0.85M118.3 218.7h0.85M113.8 221.8h0.85M115.6 225.1h0.85M107.9 239.5h0.85M121.8 222.8h0.85M122.7 214.3h0.85M107.9 220.5h0.85M114.8 229.1h0.85M109.8 251.7h0.85M112.9 260.0h0.85M106.9 230.2h0.85M122.0 244.4h0.85M108.3 249.0h0.85M111.6 247.8h0.85M115.4 233.8h0.85M109.9 222.0h0.85M111.9 230.1h0.85M110.3 216.4h0.85M112.4 237.4h0.85M107.4 242.8h0.85M110.9 216.1h0.85M112.0 234.5h0.85M111.4 237.9h0.85M113.3 247.5h0.85M111.6 248.8h0.85M116.6 243.0h0.85M111.4 228.1h0.85M112.3 231.3h0.85M109.8 247.0h0.85M110.5 228.9h0.85M106.9 234.6h0.85M115.5 250.6h0.85M107.5 236.3h0.85M109.4 221.3h0.85M114.7 232.0h0.85M114.9 241.4h0.85M111.1 233.1h0.85M103.3 246.6h0.85M115.0 247.8h0.85M114.2 228.5h0.85M106.2 230.0h0.85M116.7 234.0h0.85M109.6 223.0h0.85M107.6 238.8h0.85M113.5 233.2h0.85M112.1 242.9h0.85M114.0 229.0h0.85M105.3 226.2h0.85M121.7 253.4h0.85M110.1 226.2h0.85M105.6 229.1h0.85M116.0 227.7h0.85M111.3 232.0h0.85M114.6 225.8h0.85M111.4 234.6h0.85M112.7 228.0h0.85M114.2 230.8h0.85M109.4 238.6h0.85M116.3 242.0h0.85M110.7 239.7h0.85M108.8 227.6h0.85M113.4 239.0h0.85M115.1 233.8h0.85M111.9 233.9h0.85M108.9 217.8h0.85M116.0 241.7h0.85M104.6 233.6h0.85M108.1 252.1h0.85M113.2 241.4h0.85M106.5 223.8h0.85M113.1 221.3h0.85M112.7 246.5h0.85M117.3 226.3h0.85M108.6 241.8h0.85M110.0 232.0h0.85M114.6 256.0h0.85M101.2 235.8h0.85M127.9 250.2h0.85M109.6 248.3h0.85M109.5 230.4h0.85M117.1 231.7h0.85M112.8 249.9h0.85M104.5 235.1h0.85M116.0 226.4h0.85M117.1 247.1h0.85M110.8 260.8h0.85M111.6 234.8h0.85M115.3 249.2h0.85M108.6 233.6h0.85M115.1 248.8h0.85M114.0 232.9h0.85M109.8 248.6h0.85M106.3 240.8h0.85M111.9 233.5h0.85M108.8 237.8h0.85M117.8 230.0h0.85M113.7 224.2h0.85M116.8 224.9h0.85M113.6 234.9h0.85M114.3 224.9h0.85M109.2 239.9h0.85M116.2 240.9h0.85M121.6 240.3h0.85M111.5 230.6h0.85M110.2 236.2h0.85M112.2 235.4h0.85M110.7 248.9h0.85M109.6 227.6h0.85M113.7 231.8h0.85M111.6 233.3h0.85M119.9 234.2h0.85M113.0 228.2h0.85M114.6 229.4h0.85M117.6 245.9h0.85M111.6 229.3h0.85M119.9 244.9h0.85M110.0 256.1h0.85M109.1 248.5h0.85M111.2 217.6h0.85M112.4 243.4h0.85M106.3 240.5h0.85M112.8 241.2h0.85M105.0 219.4h0.85M119.7 243.3h0.85M112.6 224.8h0.85M109.9 248.6h0.85M108.6 246.4h0.85M111.2 261.2h0.85M111.9 231.8h0.85M108.0 220.4h0.85M108.6 246.1h0.85M112.1 244.4h0.85M110.5 231.8h0.85M117.5 249.2h0.85M118.5 242.5h0.85M113.1 222.7h0.85M115.3 232.1h0.85M106.6 231.2h0.85M116.1 234.5h0.85M112.9 237.5h0.85M115.3 228.7h0.85M120.7 233.6h0.85M102.1 241.5h0.85M114.3 234.9h0.85M107.7 232.9h0.85M115.8 232.6h0.85M106.7 234.6h0.85M110.6 216.4h0.85M114.0 237.2h0.85M115.9 225.3h0.85M113.4 236.7h0.85M109.2 220.9h0.85M110.3 244.8h0.85M117.2 238.0h0.85M113.0 222.1h0.85M104.9 238.0h0.85M117.0 228.0h0.85M115.0 253.6h0.85M117.2 240.5h0.85M111.4 227.6h0.85M117.0 237.9h0.85M107.9 235.3h0.85M115.7 247.6h0.85M110.6 239.2h0.85M116.2 240.8h0.85M117.8 224.5h0.85M109.5 243.6h0.85M112.8 256.6h0.85M113.2 242.0h0.85M118.7 235.3h0.85M116.4 237.3h0.85M107.1 226.1h0.85M115.2 237.5h0.85M116.6 224.7h0.85M123.2 236.1h0.85M104.9 231.8h0.85M110.4 227.4h0.85M119.4 241.5h0.85M106.5 220.8h0.85M107.2 235.3h0.85M115.5 222.4h0.85M117.9 254.0h0.85M109.8 255.4h0.85M115.6 244.2h0.85M113.6 254.7h0.85M120.3 241.6h0.85M113.0 241.1h0.85M117.8 231.4h0.85M108.7 226.7h0.85M112.1 237.0h0.85M112.5 230.3h0.85M118.5 231.3h0.85M115.8 243.0h0.85M109.4 234.4h0.85M116.3 220.1h0.85M116.7 233.5h0.85M112.5 228.0h0.85M111.8 232.7h0.85M112.1 224.7h0.85M104.9 247.7h0.85M113.9 254.7h0.85M114.1 224.5h0.85M108.8 242.1h0.85M116.6 241.6h0.85M106.4 224.9h0.85M110.4 236.7h0.85M110.7 249.8h0.85M122.5 244.1h0.85M105.3 251.8h0.85M115.7 223.9h0.85M117.5 228.2h0.85M114.8 238.5h0.85M118.7 239.1h0.85M108.2 235.8h0.85M102.1 231.7h0.85M116.7 231.5h0.85M107.3 229.5h0.85M111.4 240.1h0.85M107.3 207.9h0.85M118.1 251.5h0.85M117.2 230.2h0.85M109.5 221.2h0.85M117.3 241.0h0.85M113.6 221.4h0.85M112.3 239.4h0.85M113.3 231.5h0.85M112.0 241.4h0.85M116.0 243.4h0.85M114.5 248.4h0.85M111.3 230.5h0.85M117.8 232.5h0.85M110.1 235.3h0.85M114.4 221.3h0.85M115.0 241.3h0.85M120.1 236.7h0.85M110.6 222.0h0.85M121.4 247.5h0.85M113.8 249.0h0.85M112.1 222.2h0.85M109.8 241.1h0.85M115.8 247.9h0.85M113.2 243.8h0.85M107.7 225.6h0.85M107.6 221.4h0.85M110.3 234.2h0.85M109.8 230.4h0.85M118.2 235.3h0.85M119.6 234.3h0.85M117.2 240.6h0.85M114.7 229.7h0.85M110.9 233.7h0.85M113.3 265.0h0.85M117.2 234.0h0.85M123.2 242.7h0.85M117.4 238.2h0.85M111.7 237.5h0.85M113.2 226.2h0.85M110.7 240.5h0.85M109.2 234.8h0.85M112.1 243.4h0.85M113.9 255.8h0.85M121.8 237.1h0.85M113.2 242.9h0.85M119.5 225.0h0.85M121.5 236.4h0.85M113.4 250.8h0.85M120.7 234.6h0.85M116.4 228.9h0.85M111.0 237.3h0.85M114.3 233.4h0.85M113.1 232.8h0.85M111.9 231.5h0.85M112.0 255.1h0.85M113.7 226.5h0.85M115.1 231.1h0.85M108.8 229.5h0.85M113.0 247.6h0.85M105.7 232.4h0.85M114.3 248.3h0.85M116.0 236.9h0.85M113.8 235.0h0.85M114.4 220.6h0.85M115.8 247.3h0.85M109.8 240.6h0.85M111.9 239.3h0.85M115.5 234.0h0.85M117.8 231.0h0.85M114.9 222.5h0.85M125.3 244.7h0.85M112.6 237.9h0.85M117.8 231.6h0.85M119.1 228.9h0.85M112.4 236.4h0.85M109.1 234.3h0.85M107.3 251.6h0.85M113.8 243.0h0.85M118.3 229.3h0.85M114.3 224.2h0.85M113.8 232.9h0.85M111.2 226.1h0.85M115.7 236.0h0.85M102.7 239.3h0.85M114.1 241.6h0.85M113.1 239.4h0.85M106.4 233.3h0.85M123.4 241.2h0.85M106.3 226.4h0.85M107.8 234.5h0.85M107.2 243.4h0.85M118.3 238.1h0.85M108.7 222.6h0.85M116.2 223.7h0.85M115.8 219.1h0.85M114.2 253.3h0.85M106.7 219.8h0.85M110.1 233.9h0.85M121.0 253.7h0.85M106.8 246.1h0.85M109.0 248.5h0.85M112.2 230.3h0.85M116.9 242.7h0.85M114.2 265.8h0.85M116.6 235.0h0.85M107.9 239.5h0.85M117.5 232.2h0.85M115.7 235.2h0.85M105.3 239.1h0.85M120.4 249.2h0.85M124.0 226.3h0.85M109.3 221.1h0.85M113.3 235.6h0.85M119.7 237.4h0.85M105.9 249.5h0.85M103.4 242.5h0.85M106.8 229.1h0.85M110.3 241.0h0.85M110.2 246.5h0.85M115.9 238.2h0.85M114.3 232.0h0.85M107.0 242.1h0.85M115.7 231.8h0.85M122.0 216.7h0.85M118.7 248.7h0.85M117.8 222.5h0.85M113.1 232.0h0.85M117.7 232.2h0.85M108.4 232.0h0.85M116.6 232.5h0.85M112.6 220.9h0.85M118.4 240.6h0.85M115.2 235.6h0.85M107.8 235.7h0.85M113.6 246.0h0.85M118.8 246.3h0.85M107.6 248.7h0.85M110.3 253.8h0.85M109.3 239.8h0.85M105.8 219.9h0.85M117.6 237.4h0.85M119.3 235.4h0.85M116.8 236.0h0.85M114.2 229.3h0.85M112.8 226.4h0.85M114.1 243.2h0.85M109.5 245.0h0.85M117.3 224.1h0.85M118.0 240.7h0.85M117.5 233.6h0.85M110.5 231.4h0.85M113.4 242.1h0.85M112.2 234.8h0.85M121.6 229.7h0.85M113.9 235.8h0.85M104.0 215.3h0.85M114.9 229.3h0.85M122.0 230.8h0.85M116.3 221.3h0.85M117.2 237.0h0.85M113.2 237.9h0.85M103.5 229.2h0.85M104.3 233.5h0.85M107.0 241.9h0.85M112.4 245.8h0.85M114.5 227.6h0.85M116.3 238.5h0.85M111.4 245.5h0.85M117.6 234.8h0.85M111.7 227.4h0.85M109.6 227.4h0.85M117.1 231.9h0.85M108.6 224.8h0.85M99.9 255.2h0.85M107.9 229.4h0.85M113.5 238.8h0.85M98.2 236.9h0.85M111.3 241.4h0.85M111.4 231.2h0.85M106.2 222.0h0.85M105.9 251.4h0.85M110.8 234.2h0.85M110.4 236.2h0.85M119.0 237.0h0.85M114.8 247.6h0.85M105.4 242.7h0.85M108.9 246.7h0.85M116.4 243.2h0.85M122.1 236.5h0.85M114.9 237.6h0.85M114.5 227.6h0.85M121.9 215.6h0.85M112.9 232.6h0.85M111.5 224.3h0.85M106.2 260.9h0.85M110.5 250.6h0.85M123.5 246.7h0.85M106.2 229.5h0.85M113.1 255.6h0.85M106.2 218.0h0.85M113.6 222.9h0.85M117.3 227.2h0.85M111.8 225.4h0.85M116.5 236.3h0.85M116.5 237.0h0.85M115.1 254.1h0.85M121.2 245.0h0.85M116.7 247.2h0.85M111.5 239.2h0.85M109.7 233.5h0.85M108.9 228.2h0.85M115.3 219.9h0.85M111.4 226.3h0.85M126.1 231.2h0.85M121.8 242.6h0.85M112.0 218.2h0.85M111.4 221.4h0.85M121.1 237.2h0.85M104.0 224.5h0.85M110.8 238.4h0.85M117.6 230.9h0.85M108.6 227.5h0.85M110.7 221.7h0.85M111.3 234.1h0.85M116.2 227.7h0.85M113.7 228.9h0.85M114.9 228.6h0.85M115.9 236.9h0.85M113.1 236.5h0.85M118.3 217.9h0.85M109.5 233.4h0.85M106.1 239.0h0.85M104.5 245.4h0.85M105.2 242.8h0.85M110.4 237.1h0.85M117.9 223.6h0.85M113.8 227.3h0.85M110.1 244.1h0.85M107.9 228.0h0.85M110.5 245.3h0.85M111.1 247.7h0.85M110.3 224.4h0.85M106.1 239.4h0.85M110.7 233.9h0.85M117.9 255.3h0.85M102.6 243.4h0.85M111.8 229.9h0.85M102.8 239.1h0.85M113.9 225.8h0.85M109.4 233.5h0.85M103.0 237.0h0.85M113.5 236.5h0.85M121.7 238.1h0.85M113.5 225.9h0.85M118.6 216.5h0.85M112.7 231.4h0.85M102.6 226.1h0.85M115.4 228.0h0.85M111.0 256.4h0.85M106.0 246.6h0.85M116.8 233.3h0.85M114.4 220.7h0.85M110.5 222.0h0.85M117.2 238.6h0.85M108.8 245.7h0.85M116.1 232.1h0.85M108.5 236.4h0.85M115.6 237.5h0.85M107.7 245.7h0.85M120.1 216.2h0.85M114.2 236.6h0.85M119.9 239.1h0.85M109.1 244.5h0.85M110.7 239.0h0.85M117.0 224.0h0.85M99.8 229.2h0.85M107.9 219.8h0.85M118.0 236.9h0.85M115.2 236.9h0.85M117.7 240.1h0.85M111.5 225.3h0.85M115.7 223.6h0.85M109.5 250.3h0.85M106.4 236.8h0.85M104.9 252.5h0.85M110.4 239.4h0.85M110.4 220.4h0.85M110.0 243.1h0.85M96.0 247.4h0.85M103.4 230.5h0.85M110.4 215.8h0.85M114.4 241.7h0.85M110.2 233.6h0.85M108.8 237.8h0.85M101.9 208.1h0.85M122.7 239.6h0.85M107.7 207.5h0.85M121.1 226.3h0.85M120.5 243.9h0.85M114.3 216.8h0.85M110.3 216.4h0.85M113.6 230.5h0.85M107.5 251.5h0.85M114.3 251.2h0.85M113.0 228.9h0.85M115.6 245.0h0.85M117.6 240.8h0.85M121.3 237.6h0.85M111.1 238.5h0.85M118.0 227.7h0.85M109.2 243.0h0.85M108.7 245.6h0.85M110.0 262.0h0.85M108.3 244.2h0.85M117.7 210.5h0.85M117.4 222.9h0.85M119.1 238.3h0.85M112.9 235.7h0.85M114.3 216.4h0.85M110.2 233.6h0.85M107.5 231.4h0.85M115.1 234.5h0.85M114.3 233.7h0.85M107.7 244.2h0.85M115.8 249.6h0.85M104.6 241.8h0.85M112.1 223.8h0.85M110.0 226.3h0.85M110.5 228.3h0.85M107.8 234.4h0.85M117.6 230.7h0.85M115.7 231.5h0.85M118.7 225.7h0.85M113.6 244.4h0.85M106.8 243.5h0.85M111.2 244.5h0.85M107.3 234.2h0.85M115.1 239.5h0.85M118.8 225.8h0.85M114.5 224.8h0.85M110.1 229.5h0.85M111.2 240.8h0.85M113.9 233.5h0.85M106.0 223.5h0.85M113.6 235.9h0.85M113.9 239.2h0.85M110.3 236.6h0.85M110.9 228.3h0.85M113.7 235.6h0.85M109.0 230.8h0.85M109.0 231.7h0.85M116.6 234.1h0.85M114.0 242.5h0.85M121.0 253.2h0.85M108.2 250.6h0.85M104.4 241.3h0.85M117.4 231.0h0.85M117.5 231.9h0.85M109.3 232.3h0.85M105.8 246.5h0.85M112.7 207.3h0.85M104.5 237.6h0.85M111.2 215.1h0.85M102.4 235.0h0.85M111.7 248.2h0.85M102.7 225.9h0.85M111.7 212.2h0.85M120.1 248.0h0.85M111.6 250.1h0.85M116.5 240.0h0.85M109.8 247.6h0.85M108.5 227.0h0.85M105.6 246.7h0.85M117.8 252.0h0.85M112.5 241.4h0.85M120.6 237.8h0.85M107.1 247.8h0.85M111.7 246.3h0.85M113.2 227.5h0.85M119.6 248.6h0.85M121.5 242.4h0.85M109.7 236.6h0.85M107.3 248.0h0.85M104.4 244.3h0.85M119.2 242.5h0.85M112.3 229.9h0.85M109.7 243.3h0.85M112.5 223.9h0.85M100.5 233.7h0.85M104.5 218.1h0.85M117.2 218.0h0.85M114.7 239.4h0.85M113.5 234.2h0.85M107.9 235.8h0.85M115.6 240.9h0.85M121.3 238.5h0.85M106.9 226.1h0.85M112.8 235.7h0.85M110.7 234.3h0.85M114.5 229.8h0.85M112.8 233.8h0.85M112.0 231.3h0.85M108.5 228.5h0.85M112.7 231.7h0.85M109.8 237.3h0.85M112.0 255.6h0.85M112.4 226.8h0.85M115.9 240.2h0.85M109.9 220.4h0.85M111.2 250.9h0.85M117.9 231.7h0.85M111.7 236.4h0.85M111.5 247.8h0.85M116.9 244.9h0.85M114.0 220.1h0.85M113.2 240.6h0.85M113.8 232.7h0.85M106.8 241.2h0.85M115.0 236.5h0.85M119.1 242.4h0.85M115.5 237.9h0.85M105.3 233.6h0.85M114.1 246.8h0.85M108.4 219.6h0.85M111.7 230.7h0.85M113.4 225.4h0.85M107.1 233.6h0.85M119.2 230.7h0.85M112.5 233.5h0.85M116.6 230.1h0.85M115.8 230.3h0.85M119.3 218.6h0.85M118.5 234.6h0.85M105.7 238.1h0.85M113.0 229.0h0.85M102.6 228.4h0.85M110.7 228.6h0.85M116.3 251.8h0.85M117.2 236.9h0.85M119.0 238.9h0.85M111.0 232.0h0.85M114.4 230.0h0.85M113.3 226.2h0.85M118.9 250.4h0.85M120.5 218.0h0.85M111.1 238.0h0.85M131.0 234.8h0.85M112.8 232.4h0.85M111.1 219.3h0.85M115.7 222.6h0.85M116.5 244.8h0.85M115.5 228.1h0.85M109.7 243.8h0.85M119.9 241.7h0.85M113.1 240.8h0.85M120.3 242.6h0.85M119.6 222.9h0.85M106.8 230.3h0.85M108.2 241.8h0.85M108.1 222.4h0.85M114.1 251.6h0.85M113.2 229.4h0.85M114.2 234.4h0.85M109.0 224.7h0.85M115.0 238.7h0.85M119.6 227.7h0.85M106.5 232.6h0.85M112.0 223.6h0.85M114.1 246.9h0.85M112.3 218.7h0.85M112.0 239.5h0.85M121.4 237.4h0.85M119.1 239.4h0.85M117.0 224.8h0.85M109.3 245.3h0.85M123.7 244.6h0.85M114.7 236.6h0.85M110.2 238.1h0.85M111.3 233.4h0.85M110.6 241.4h0.85M123.1 226.8h0.85M113.9 240.5h0.85M113.2 239.1h0.85M102.6 220.9h0.85M116.5 208.8h0.85M107.9 233.8h0.85M107.5 233.4h0.85M115.9 247.2h0.85M108.8 235.6h0.85M116.9 230.0h0.85M118.3 221.4h0.85M104.3 234.1h0.85M112.3 229.2h0.85M105.4 224.0h0.85M112.6 233.8h0.85M117.3 245.6h0.85M106.4 235.9h0.85M121.6 224.5h0.85M111.4 238.3h0.85M107.3 224.0h0.85M112.3 219.2h0.85M116.7 239.9h0.85M106.3 229.5h0.85M112.9 246.1h0.85M106.3 238.1h0.85M118.7 226.9h0.85M113.7 237.2h0.85M110.9 248.0h0.85M117.9 233.1h0.85M106.7 224.4h0.85M111.0 228.4h0.85M121.8 226.9h0.85M112.3 223.2h0.85M119.4 222.1h0.85M113.8 239.2h0.85M109.5 246.1h0.85M111.7 231.4h0.85M113.3 242.9h0.85M110.9 244.1h0.85M108.9 251.8h0.85M109.1 233.1h0.85M105.8 231.5h0.85M113.4 239.2h0.85M114.8 236.0h0.85M116.5 238.0h0.85M104.2 248.0h0.85M116.8 230.7h0.85M112.8 237.2h0.85M106.0 225.2h0.85M113.4 233.4h0.85M116.8 228.3h0.85M115.4 227.4h0.85M116.4 232.8h0.85M117.4 230.5h0.85M117.2 238.7h0.85M112.7 243.0h0.85M102.9 220.1h0.85M109.3 245.0h0.85M114.6 212.7h0.85M110.6 237.5h0.85" stroke="#000" stroke-opacity="0.5" stroke-width="0.85" fill="none"/>
<path d="M116.2 242.1h0.85M116.7 228.5h0.85M113.1 232.7h0.85M121.9 227.2h0.85M108.2 243.9h0.85M110.6 225.3h0.85M109.2 215.6h0.85M115.7 236.9h0.85M109.9 248.0h0.85M117.0 246.9h0.85M107.3 241.7h0.85M113.1 237.5h0.85M108.9 227.3h0.85M111.8 247.2h0.85M111.1 241.2h0.85M107.5 226.6h0.85M116.1 222.2h0.85M106.9 228.7h0.85M108.2 245.8h0.85M117.2 247.5h0.85M117.6 251.2h0.85M116.1 227.2h0.85M114.5 231.4h0.85M123.8 248.8h0.85M107.1 237.2h0.85M109.3 242.6h0.85M108.1 221.8h0.85M117.2 231.3h0.85M114.3 234.8h0.85M118.3 231.5h0.85M117.6 230.9h0.85M111.8 218.7h0.85M109.0 251.3h0.85M108.2 236.5h0.85M123.5 220.5h0.85M117.6 245.8h0.85M115.8 235.7h0.85M111.3 242.2h0.85M112.0 233.2h0.85M111.3 227.3h0.85M111.4 227.5h0.85M101.4 238.6h0.85M112.6 242.9h0.85M111.1 240.0h0.85M114.3 241.6h0.85M113.9 247.2h0.85M117.0 238.1h0.85M112.9 245.2h0.85M116.8 246.3h0.85M100.6 238.2h0.85M107.6 234.5h0.85M121.2 230.9h0.85M107.1 223.3h0.85M111.6 219.7h0.85M116.3 248.5h0.85M108.7 235.2h0.85M116.4 229.9h0.85M106.1 251.1h0.85M103.7 245.1h0.85M106.6 236.0h0.85M105.0 245.5h0.85M112.8 233.5h0.85M111.4 239.0h0.85M114.5 253.7h0.85M108.0 246.1h0.85M125.1 232.8h0.85M112.5 242.4h0.85M112.7 247.3h0.85M115.1 234.4h0.85M111.8 231.4h0.85M109.9 254.3h0.85M113.3 232.7h0.85M117.3 222.5h0.85M116.1 237.1h0.85M117.5 258.6h0.85M110.2 242.1h0.85M109.2 245.4h0.85M122.6 214.2h0.85M111.8 230.5h0.85M115.2 248.1h0.85M116.5 232.1h0.85M119.8 249.3h0.85M106.5 241.0h0.85M110.6 240.2h0.85M110.9 253.1h0.85M111.5 231.2h0.85M101.4 231.6h0.85M112.5 237.4h0.85M99.1 238.5h0.85M114.4 219.4h0.85M115.5 248.6h0.85M115.8 238.6h0.85M107.2 234.7h0.85M117.5 242.6h0.85M108.8 232.4h0.85M107.1 248.4h0.85M108.2 237.0h0.85M108.9 243.6h0.85M113.8 227.5h0.85M116.9 233.6h0.85M102.9 240.1h0.85M110.4 226.9h0.85M117.3 229.7h0.85M113.9 235.8h0.85M115.4 247.4h0.85M105.8 243.9h0.85M117.6 245.3h0.85M105.5 239.3h0.85M113.9 245.3h0.85M119.5 251.7h0.85M122.0 238.0h0.85M115.5 240.6h0.85M117.2 242.1h0.85M110.1 216.2h0.85M110.7 235.3h0.85M118.6 240.4h0.85M113.0 243.8h0.85M112.4 233.0h0.85M106.2 246.0h0.85M113.7 229.8h0.85M116.1 234.4h0.85M109.2 253.0h0.85M110.6 222.7h0.85M120.6 235.4h0.85M113.9 234.6h0.85M111.6 235.2h0.85M107.5 230.7h0.85M110.0 242.6h0.85M111.8 225.3h0.85M119.6 222.8h0.85M110.1 240.8h0.85M121.6 224.1h0.85M108.5 239.7h0.85M111.3 236.1h0.85M117.0 229.1h0.85M111.8 232.4h0.85M109.0 234.9h0.85M112.4 240.3h0.85M115.2 229.5h0.85M104.8 233.7h0.85M111.8 221.5h0.85M112.5 233.0h0.85M111.1 216.6h0.85M116.5 235.3h0.85M110.3 231.1h0.85M111.3 256.6h0.85M113.2 248.5h0.85M116.5 234.1h0.85M111.9 245.1h0.85M120.3 238.4h0.85M108.6 224.1h0.85M119.2 211.3h0.85M108.9 246.6h0.85M112.2 239.4h0.85M114.7 215.9h0.85M122.9 241.8h0.85M117.3 244.5h0.85M111.1 228.6h0.85M119.2 243.3h0.85M112.0 218.2h0.85M109.2 233.2h0.85M115.2 235.7h0.85M113.5 243.2h0.85M117.6 239.3h0.85M110.4 237.6h0.85M114.8 240.9h0.85M116.0 228.8h0.85M114.3 250.1h0.85M112.9 231.9h0.85M109.7 243.2h0.85M117.3 235.3h0.85M113.7 232.8h0.85M115.4 241.1h0.85M111.3 239.7h0.85M113.1 248.7h0.85M108.0 246.0h0.85M113.4 229.6h0.85M116.7 240.3h0.85M113.4 236.3h0.85M117.1 227.3h0.85M114.5 224.3h0.85M119.5 237.8h0.85M112.1 229.9h0.85M105.1 221.4h0.85M115.1 234.3h0.85M112.2 237.5h0.85M108.3 236.2h0.85M116.1 223.2h0.85M114.3 229.4h0.85M115.1 248.9h0.85M111.4 227.5h0.85M113.9 232.0h0.85M114.2 258.3h0.85M121.5 238.7h0.85M109.7 230.2h0.85M112.9 215.8h0.85M114.7 238.3h0.85M104.7 221.3h0.85M105.3 234.9h0.85M123.4 226.5h0.85M104.5 218.4h0.85M115.8 251.7h0.85M108.9 234.1h0.85M109.3 244.3h0.85M103.5 242.5h0.85M108.7 227.8h0.85M116.8 236.0h0.85M106.3 231.5h0.85M115.9 244.7h0.85M114.5 239.4h0.85M122.7 231.5h0.85M110.7 251.6h0.85M119.1 240.2h0.85M117.3 239.7h0.85M111.6 227.2h0.85M105.0 239.1h0.85M120.2 220.4h0.85M106.5 239.7h0.85M110.7 225.7h0.85M117.2 236.9h0.85M118.4 232.3h0.85M108.9 237.3h0.85M112.8 238.6h0.85M111.8 234.4h0.85M118.7 234.5h0.85M125.0 220.1h0.85M104.2 216.0h0.85M117.4 247.6h0.85M99.3 240.7h0.85M113.1 220.2h0.85M107.7 254.1h0.85M122.6 227.9h0.85M113.8 240.1h0.85M109.5 239.3h0.85M110.6 236.1h0.85M110.2 241.1h0.85M113.9 221.3h0.85M112.2 234.6h0.85M116.1 232.5h0.85M120.4 235.9h0.85M116.4 232.3h0.85M107.1 228.6h0.85M105.2 227.7h0.85M109.4 243.8h0.85M118.1 226.5h0.85M111.4 238.6h0.85M109.8 238.5h0.85M113.7 234.0h0.85M106.2 239.2h0.85M107.5 240.4h0.85M115.4 229.7h0.85M111.5 238.4h0.85M110.8 254.1h0.85M114.5 224.3h0.85M110.2 232.0h0.85M109.7 227.3h0.85M110.8 254.9h0.85M115.9 221.0h0.85M113.3 235.1h0.85M107.3 244.3h0.85M111.5 226.3h0.85M116.1 233.6h0.85M122.0 227.9h0.85M107.5 221.6h0.85M114.6 234.3h0.85M111.8 239.9h0.85M117.0 231.0h0.85M115.2 236.6h0.85M120.1 241.8h0.85M115.5 246.9h0.85M110.4 222.7h0.85M110.4 241.1h0.85M114.9 228.8h0.85M114.9 216.2h0.85M124.5 227.2h0.85M121.0 241.4h0.85M107.4 238.1h0.85M114.7 224.0h0.85M106.6 251.0h0.85M105.1 239.0h0.85M116.6 234.3h0.85M115.6 229.6h0.85M108.0 239.2h0.85M120.9 231.1h0.85M108.3 246.3h0.85M107.4 238.1h0.85M116.1 241.1h0.85M114.1 231.9h0.85M112.2 220.3h0.85M112.7 240.3h0.85M114.1 224.9h0.85M112.3 233.9h0.85M112.2 234.9h0.85M103.9 227.2h0.85M106.6 243.9h0.85M115.9 220.8h0.85M109.6 249.9h0.85M115.6 229.1h0.85M118.9 244.6h0.85M111.3 247.9h0.85M114.4 226.4h0.85M123.0 227.7h0.85M116.3 244.4h0.85M121.8 236.9h0.85M120.4 235.8h0.85M116.6 216.8h0.85M112.5 218.6h0.85M109.0 240.3h0.85M107.7 249.3h0.85M115.3 227.9h0.85M115.2 226.4h0.85M112.2 237.1h0.85M117.1 239.6h0.85M110.1 240.6h0.85M118.3 230.6h0.85M113.2 215.7h0.85M112.8 249.5h0.85M113.0 230.1h0.85M112.5 247.5h0.85M124.9 215.2h0.85M105.3 238.7h0.85M113.9 230.0h0.85M119.0 224.2h0.85M116.4 244.6h0.85M111.6 247.8h0.85M121.4 229.2h0.85M107.9 241.4h0.85M106.7 224.3h0.85M115.7 228.9h0.85M106.0 232.6h0.85M101.6 231.5h0.85M117.2 241.3h0.85M116.7 223.0h0.85M116.5 244.6h0.85M110.7 244.6h0.85M113.9 232.8h0.85M108.4 223.2h0.85M121.3 211.4h0.85M116.8 234.4h0.85M116.6 227.9h0.85M103.6 236.0h0.85M116.9 224.5h0.85M120.2 235.0h0.85M118.8 234.4h0.85M116.8 235.1h0.85M113.0 237.8h0.85M111.4 237.9h0.85M115.9 244.6h0.85M114.8 227.2h0.85M114.1 242.1h0.85M111.5 236.6h0.85M121.1 230.9h0.85M107.4 225.1h0.85M112.9 249.5h0.85M110.2 237.4h0.85M118.0 229.9h0.85M119.9 235.7h0.85M119.0 235.1h0.85M116.6 229.8h0.85M106.3 221.4h0.85M123.0 236.5h0.85M115.5 233.4h0.85M112.5 232.2h0.85M113.1 244.8h0.85M111.4 222.0h0.85M115.0 225.6h0.85M114.5 236.6h0.85M111.3 243.3h0.85M100.7 241.1h0.85M112.8 242.2h0.85M115.3 213.3h0.85M115.5 239.9h0.85M112.3 239.2h0.85M115.2 241.8h0.85M117.9 228.2h0.85M110.7 240.1h0.85M120.0 245.0h0.85M103.6 250.9h0.85M106.9 237.6h0.85M108.7 221.9h0.85M101.3 235.6h0.85M108.2 241.4h0.85M119.0 240.1h0.85M119.0 254.0h0.85M113.5 233.1h0.85M121.3 225.0h0.85M114.1 228.8h0.85M110.6 241.6h0.85M114.2 227.2h0.85M112.3 224.8h0.85M116.5 226.8h0.85M105.8 247.0h0.85M117.8 237.4h0.85M110.8 231.8h0.85M117.1 243.5h0.85M105.6 241.9h0.85M111.0 225.5h0.85M113.4 243.3h0.85M117.3 237.5h0.85M107.2 214.7h0.85M121.0 223.4h0.85M115.3 237.7h0.85M110.5 239.9h0.85M118.8 232.3h0.85M113.5 225.3h0.85M118.6 237.6h0.85M124.2 217.0h0.85M116.7 240.6h0.85M110.5 233.6h0.85M111.0 234.9h0.85M115.8 228.7h0.85M114.4 243.3h0.85M109.0 212.1h0.85M109.8 226.6h0.85M116.2 240.9h0.85M124.3 228.2h0.85M100.4 249.6h0.85M116.5 239.4h0.85M112.0 227.7h0.85M116.7 246.2h0.85M117.2 234.3h0.85M113.3 241.0h0.85M108.1 229.2h0.85M106.3 229.4h0.85M104.0 242.3h0.85M118.9 236.3h0.85M112.0 227.9h0.85M110.4 226.7h0.85M111.7 241.8h0.85M106.6 252.8h0.85M114.5 227.1h0.85M119.3 242.1h0.85M105.5 221.7h0.85M119.5 242.1h0.85M109.3 251.1h0.85M103.8 236.1h0.85M107.1 240.8h0.85M108.4 238.0h0.85M113.0 245.4h0.85M108.0 224.8h0.85M105.8 241.8h0.85M111.7 231.2h0.85M122.2 232.1h0.85M109.6 235.4h0.85M115.2 233.5h0.85M113.4 227.9h0.85M125.8 233.0h0.85M103.9 226.2h0.85M118.3 250.1h0.85M106.8 242.4h0.85M110.2 231.4h0.85M112.5 251.2h0.85M128.3 248.2h0.85M109.3 240.3h0.85M103.9 230.2h0.85M119.2 238.1h0.85M109.0 241.2h0.85M111.8 249.2h0.85M112.9 233.7h0.85M113.5 229.9h0.85M112.2 258.2h0.85M114.3 249.2h0.85M114.9 238.6h0.85M117.1 226.4h0.85M110.9 240.3h0.85M109.4 246.6h0.85M107.9 243.0h0.85M115.8 243.7h0.85M112.8 236.0h0.85M115.7 246.8h0.85M115.6 229.6h0.85M121.1 231.2h0.85M114.0 230.6h0.85M116.6 229.1h0.85M107.2 254.8h0.85M107.8 218.8h0.85M111.5 237.8h0.85M107.2 225.7h0.85M116.3 223.2h0.85M106.6 236.5h0.85M113.3 220.0h0.85M101.2 234.6h0.85M107.7 258.2h0.85M111.4 234.3h0.85M111.8 240.0h0.85M104.4 227.0h0.85M113.5 240.2h0.85M117.7 220.7h0.85M116.1 237.3h0.85M109.8 234.1h0.85M110.2 256.9h0.85M107.3 234.5h0.85M116.0 231.7h0.85M119.9 229.7h0.85M110.5 223.4h0.85M104.9 242.9h0.85M114.0 249.6h0.85M116.4 231.5h0.85M99.9 242.3h0.85M113.7 231.7h0.85M123.4 239.2h0.85M116.9 239.7h0.85M115.6 220.9h0.85M114.9 227.5h0.85M118.1 244.5h0.85M108.5 216.2h0.85M108.9 235.2h0.85M115.0 231.7h0.85M109.7 225.9h0.85M114.2 235.6h0.85M103.8 238.2h0.85M116.6 240.5h0.85M113.2 251.8h0.85M113.8 230.4h0.85M120.8 245.5h0.85M107.8 233.9h0.85M108.6 229.3h0.85M107.7 234.5h0.85M111.0 266.7h0.85M108.1 250.7h0.85M113.2 231.6h0.85M109.9 237.3h0.85M106.0 246.3h0.85M105.6 240.9h0.85M118.8 235.9h0.85M112.7 233.2h0.85M111.9 224.3h0.85M113.1 242.6h0.85M112.6 246.1h0.85M116.6 257.3h0.85M115.7 229.6h0.85M110.2 241.6h0.85M109.0 234.7h0.85M107.8 247.6h0.85M107.0 234.1h0.85M119.7 228.6h0.85M108.6 218.2h0.85M103.3 242.2h0.85M109.0 236.6h0.85M109.2 246.3h0.85M114.6 229.5h0.85M108.7 261.0h0.85M115.6 228.0h0.85M110.9 256.8h0.85M114.0 259.4h0.85M115.0 276.7h0.85M107.7 267.0h0.85M119.2 260.9h0.85M113.5 252.1h0.85M116.9 282.5h0.85M120.1 270.5h0.85M109.0 244.5h0.85M112.9 279.9h0.85M117.3 259.8h0.85M117.5 251.6h0.85M102.5 262.4h0.85M118.9 262.3h0.85M109.9 257.5h0.85M114.4 245.0h0.85M105.6 257.1h0.85M107.8 246.8h0.85M113.8 261.9h0.85M103.4 246.0h0.85M115.9 263.4h0.85M109.4 256.4h0.85M113.3 271.5h0.85M112.7 252.3h0.85M109.3 246.0h0.85M118.3 245.4h0.85M123.2 263.8h0.85M103.8 245.7h0.85M112.6 254.0h0.85M110.9 277.8h0.85M116.4 268.0h0.85M112.3 274.8h0.85M122.3 264.2h0.85M115.3 266.1h0.85M114.9 261.3h0.85M110.4 248.5h0.85M107.7 263.0h0.85M111.6 249.9h0.85M113.0 267.5h0.85M114.3 230.6h0.85M113.0 237.7h0.85M110.7 258.8h0.85M112.2 261.4h0.85M109.8 280.6h0.85M107.2 251.2h0.85M107.8 267.1h0.85M114.4 240.3h0.85M111.0 231.4h0.85M111.3 276.6h0.85M114.6 255.9h0.85M111.3 239.8h0.85M127.1 253.5h0.85M112.6 269.4h0.85M109.5 258.0h0.85M103.3 250.3h0.85M113.0 261.5h0.85M116.9 259.4h0.85M111.7 269.5h0.85M118.0 267.0h0.85M109.2 254.2h0.85M111.5 250.9h0.85M111.1 259.9h0.85M108.4 257.6h0.85M104.9 262.3h0.85M107.4 248.0h0.85M102.9 260.7h0.85M115.6 250.3h0.85M111.2 265.5h0.85M111.5 262.3h0.85M109.2 256.6h0.85M116.6 242.0h0.85M107.9 271.7h0.85M120.1 250.0h0.85M117.2 254.1h0.85M108.6 258.4h0.85M111.0 263.9h0.85M115.0 253.4h0.85M118.0 253.6h0.85M108.2 243.7h0.85M109.6 270.9h0.85M124.0 254.0h0.85M116.4 254.2h0.85M116.3 236.5h0.85M121.3 252.9h0.85M114.1 269.1h0.85M109.8 271.1h0.85M103.7 248.0h0.85M116.1 260.1h0.85M106.6 266.4h0.85M115.2 243.8h0.85M102.5 255.3h0.85M109.7 267.3h0.85M111.9 271.6h0.85M106.0 243.6h0.85M109.4 247.4h0.85M108.0 272.3h0.85M112.6 255.1h0.85M106.0 263.5h0.85M110.7 246.7h0.85M118.6 272.4h0.85M118.7 263.8h0.85M121.1 275.1h0.85M114.0 249.1h0.85M110.0 253.5h0.85M113.6 246.1h0.85M115.4 245.9h0.85M113.3 244.7h0.85M119.0 261.1h0.85M108.8 249.0h0.85M111.0 258.7h0.85M104.7 251.2h0.85M110.0 262.7h0.85M118.0 267.9h0.85M112.3 267.6h0.85M115.6 268.3h0.85M114.1 257.2h0.85M116.6 266.5h0.85M108.0 255.9h0.85M114.6 249.8h0.85M115.3 245.1h0.85M117.6 258.3h0.85M118.7 261.8h0.85M109.6 277.0h0.85M105.1 253.7h0.85M108.9 275.2h0.85M118.4 241.9h0.85M107.2 258.1h0.85M105.7 255.5h0.85M105.8 249.3h0.85M115.5 248.0h0.85M108.3 283.9h0.85M109.0 273.1h0.85M117.5 253.3h0.85M116.5 254.4h0.85M116.2 232.0h0.85M108.3 257.4h0.85M103.8 276.6h0.85M113.7 238.2h0.85M120.4 271.4h0.85M110.3 266.4h0.85M110.7 277.0h0.85M96.4 253.7h0.85M120.3 262.7h0.85M111.0 274.7h0.85M103.6 265.2h0.85M111.7 267.7h0.85M109.1 256.4h0.85M115.0 257.9h0.85M122.3 253.5h0.85M108.1 261.3h0.85M112.7 260.4h0.85M110.2 257.2h0.85M108.8 236.4h0.85M114.2 244.4h0.85M119.4 259.2h0.85M114.1 272.9h0.85M110.0 250.2h0.85M114.5 254.2h0.85M113.1 259.5h0.85M115.9 270.7h0.85M109.4 278.4h0.85M112.7 263.1h0.85M119.9 260.1h0.85M112.1 251.2h0.85M116.7 264.3h0.85M112.0 256.8h0.85M112.3 261.7h0.85M108.4 250.2h0.85M125.7 272.0h0.85M117.8 255.5h0.85M117.7 243.0h0.85M117.6 259.6h0.85M107.1 247.8h0.85M108.4 265.9h0.85M111.1 274.7h0.85M103.9 266.1h0.85M107.7 258.4h0.85M116.0 250.9h0.85M101.8 254.7h0.85M107.7 283.6h0.85M111.5 271.9h0.85M111.5 249.0h0.85M111.8 249.8h0.85M108.3 264.4h0.85M116.4 261.4h0.85M100.6 261.6h0.85M114.0 267.2h0.85M104.7 248.5h0.85M108.5 251.6h0.85M111.6 271.6h0.85M119.7 264.1h0.85M107.6 257.8h0.85M105.0 259.6h0.85M116.7 267.7h0.85M111.6 264.0h0.85M112.0 253.3h0.85M114.7 247.9h0.85M116.8 269.4h0.85M112.8 247.3h0.85M101.8 283.2h0.85M111.0 248.0h0.85M112.1 253.9h0.85M106.4 272.7h0.85M107.1 276.7h0.85M115.1 261.5h0.85M113.2 231.4h0.85M107.6 259.4h0.85M114.7 237.7h0.85M112.6 255.2h0.85M105.8 270.1h0.85M110.7 269.5h0.85M105.7 262.1h0.85M107.8 263.5h0.85M113.4 267.6h0.85M106.1 256.4h0.85M106.0 256.7h0.85M113.8 274.1h0.85M107.1 266.1h0.85M110.7 274.1h0.85M110.8 265.3h0.85M111.2 265.1h0.85M113.8 269.9h0.85M109.9 268.7h0.85M108.3 279.7h0.85M109.8 267.4h0.85M117.6 255.7h0.85M116.5 256.5h0.85M111.7 250.4h0.85M117.9 263.4h0.85M115.4 253.1h0.85M106.8 246.5h0.85M119.3 267.9h0.85M125.5 277.1h0.85M113.7 243.3h0.85M104.2 271.5h0.85M119.2 263.2h0.85M114.9 249.6h0.85M111.5 253.2h0.85M102.2 258.7h0.85M110.6 263.4h0.85M110.5 278.2h0.85M110.0 254.2h0.85M116.6 272.5h0.85M110.0 269.7h0.85M114.1 253.4h0.85M102.8 254.5h0.85M107.2 266.2h0.85M112.0 243.5h0.85M107.7 260.6h0.85M112.2 246.6h0.85M111.8 260.9h0.85M112.9 265.5h0.85M110.4 268.5h0.85M115.1 265.2h0.85M105.5 258.8h0.85M110.1 255.0h0.85M119.4 251.5h0.85M110.0 254.2h0.85M119.4 256.2h0.85M113.7 255.2h0.85M110.9 262.8h0.85M112.5 253.4h0.85M119.7 243.4h0.85M110.5 268.2h0.85M106.7 252.5h0.85M114.4 242.5h0.85M115.5 250.7h0.85M116.1 257.0h0.85M104.7 258.4h0.85M113.9 263.1h0.85M112.3 281.9h0.85M110.8 246.3h0.85M109.7 278.5h0.85M114.3 262.6h0.85M111.7 257.3h0.85M111.8 236.1h0.85M121.6 257.6h0.85M112.3 268.0h0.85M106.4 249.2h0.85M107.6 244.0h0.85M108.3 246.4h0.85M104.2 262.6h0.85M117.2 261.1h0.85M120.9 278.3h0.85M109.0 255.4h0.85M116.4 269.6h0.85M108.4 247.3h0.85M108.7 258.2h0.85M103.6 272.8h0.85M111.7 257.5h0.85M117.9 266.4h0.85M118.1 246.7h0.85M114.5 250.3h0.85M110.7 254.7h0.85M117.8 248.2h0.85M120.3 255.5h0.85M108.3 276.8h0.85M113.3 258.1h0.85M111.7 263.5h0.85M108.9 278.0h0.85M106.3 261.0h0.85M108.0 259.1h0.85M112.5 255.4h0.85M113.2 273.1h0.85M112.7 270.8h0.85M118.2 283.4h0.85M108.7 283.6h0.85M105.9 244.4h0.85M106.3 269.4h0.85M109.4 264.5h0.85M104.1 262.9h0.85M116.4 248.4h0.85M118.7 273.7h0.85M112.9 250.0h0.85M115.1 263.0h0.85M105.3 257.4h0.85M105.2 266.2h0.85M112.8 256.4h0.85M113.0 256.5h0.85M111.1 272.6h0.85M110.6 260.7h0.85M109.0 271.2h0.85M118.9 253.8h0.85M107.9 277.5h0.85M111.4 267.0h0.85M117.0 274.7h0.85M107.1 269.7h0.85M112.7 243.8h0.85M111.5 232.8h0.85M115.0 272.9h0.85M100.3 255.8h0.85M110.6 256.7h0.85M108.2 251.9h0.85M117.2 255.0h0.85M111.7 264.4h0.85M109.3 270.8h0.85M116.3 257.8h0.85M115.1 237.0h0.85M116.9 267.6h0.85M117.2 264.3h0.85M115.7 254.2h0.85M109.3 246.7h0.85M113.4 246.3h0.85M113.4 274.8h0.85M113.7 254.2h0.85M113.6 274.3h0.85M112.4 258.3h0.85M110.0 270.7h0.85M111.7 250.8h0.85M107.3 247.1h0.85M107.7 258.8h0.85M115.5 241.8h0.85M110.5 246.2h0.85M112.4 266.1h0.85M109.4 278.2h0.85M104.2 263.0h0.85M110.1 242.8h0.85M119.8 249.7h0.85M111.5 262.9h0.85M108.7 259.4h0.85M109.7 281.8h0.85M109.1 257.7h0.85M103.8 250.5h0.85M114.0 250.5h0.85M112.7 276.8h0.85M112.2 249.5h0.85M115.3 254.8h0.85M109.8 278.7h0.85M112.1 256.5h0.85M107.8 276.1h0.85M107.9 268.9h0.85M108.4 256.4h0.85M116.6 268.2h0.85M115.4 273.6h0.85M107.2 270.3h0.85M110.5 251.8h0.85M112.6 271.6h0.85M108.1 235.2h0.85M115.2 257.6h0.85M108.2 261.5h0.85M110.4 271.4h0.85M110.4 276.2h0.85M103.1 246.0h0.85M103.6 254.7h0.85M107.8 259.5h0.85M117.7 255.6h0.85M114.8 265.0h0.85M114.1 268.0h0.85M109.0 268.4h0.85M109.7 257.1h0.85M113.3 248.0h0.85M104.7 258.7h0.85M108.6 278.2h0.85M108.3 270.1h0.85M118.3 269.8h0.85M109.4 275.1h0.85M108.0 259.1h0.85M115.9 262.4h0.85M109.8 273.8h0.85M116.4 279.3h0.85M107.3 247.2h0.85M121.0 255.6h0.85M111.6 261.5h0.85M112.6 271.5h0.85M110.8 247.8h0.85M111.7 272.0h0.85M112.1 254.0h0.85M110.4 269.9h0.85M117.9 264.4h0.85M101.1 278.0h0.85M106.1 250.2h0.85" stroke="#000" stroke-opacity="0.5" stroke-width="0.85" fill="none"/>
<path d="M92.0 241.5h0.85M90.5 259.4h0.85M73.2 244.3h0.85M78.2 223.1h0.85M75.5 257.6h0.85M88.3 253.1h0.85M93.6 268.7h0.85M86.0 251.4h0.85M95.4 250.1h0.85M74.2 248.4h0.85M76.3 238.8h0.85M73.8 253.8h0.85M83.8 242.7h0.85M77.8 235.4h0.85M98.8 248.5h0.85M76.5 251.3h0.85M95.3 255.0h0.85M74.0 259.3h0.85M78.9 280.6h0.85M81.9 246.1h0.85M98.4 268.8h0.85M99.9 250.0h0.85M91.0 251.7h0.85M83.2 261.3h0.85M97.2 238.0h0.85M87.9 248.8h0.85M74.5 259.6h0.85M82.3 229.7h0.85M75.9 236.7h0.85M95.4 243.6h0.85M78.5 249.5h0.85M82.0 260.7h0.85M90.7 231.9h0.85M88.2 269.4h0.85M94.4 259.7h0.85M93.8 258.4h0.85M98.9 222.3h0.85M87.4 254.4h0.85M83.0 238.9h0.85M73.6 260.1h0.85M75.9 248.5h0.85M77.9 243.8h0.85M75.0 236.9h0.85M72.1 246.5h0.85M84.5 259.2h0.85M75.4 226.9h0.85M81.3 239.3h0.85M80.9 246.2h0.85M84.0 247.0h0.85M87.6 243.2h0.85M81.4 252.5h0.85M78.7 250.9h0.85M91.2 220.4h0.85M75.2 264.1h0.85M82.0 229.9h0.85M76.5 266.1h0.85M72.7 260.6h0.85M95.9 225.1h0.85M93.8 251.3h0.85M96.9 268.9h0.85M90.7 269.3h0.85M96.1 252.4h0.85M84.5 239.0h0.85M86.1 266.8h0.85M86.1 228.8h0.85M74.1 228.9h0.85M96.7 260.7h0.85M96.7 232.9h0.85M100.6 257.6h0.85M96.8 234.9h0.85M99.0 241.0h0.85M100.3 266.2h0.85M83.5 248.8h0.85M74.1 258.9h0.85M88.2 247.3h0.85M94.5 243.5h0.85M99.8 240.2h0.85M79.8 237.0h0.85M81.8 255.5h0.85M99.8 256.2h0.85M95.4 273.3h0.85M77.0 254.0h0.85M100.1 246.3h0.85M72.9 257.0h0.85M72.2 270.2h0.85M77.4 229.8h0.85M77.6 273.3h0.85M80.5 238.6h0.85M89.5 238.7h0.85M84.3 265.3h0.85M78.1 242.4h0.85M85.1 262.0h0.85M76.3 269.0h0.85M97.4 259.6h0.85M81.6 265.4h0.85M88.7 255.1h0.85M98.6 257.3h0.85M86.5 234.0h0.85M85.6 235.6h0.85M89.9 252.7h0.85M97.2 231.2h0.85M74.9 259.4h0.85M91.8 248.8h0.85M81.8 266.6h0.85M76.4 262.5h0.85M98.0 244.3h0.85M98.8 212.3h0.85M76.0 229.7h0.85M85.9 250.0h0.85M100.9 278.7h0.85M92.5 250.2h0.85M83.8 258.2h0.85M77.0 249.7h0.85M100.6 212.7h0.85M89.7 258.5h0.85M83.3 246.5h0.85M79.3 229.0h0.85M99.3 259.7h0.85M90.9 249.3h0.85M90.5 218.9h0.85M94.4 238.8h0.85M86.6 250.7h0.85M75.7 244.6h0.85M82.8 259.1h0.85M85.9 262.5h0.85M87.7 256.7h0.85M74.9 250.9h0.85M81.9 240.3h0.85M85.9 252.6h0.85M78.8 262.5h0.85M73.5 251.7h0.85M74.4 220.6h0.85M86.8 273.6h0.85M72.5 243.1h0.85M75.8 262.4h0.85M80.6 243.1h0.85M83.1 265.2h0.85M84.7 245.5h0.85" stroke="#000" stroke-opacity="0.25" stroke-width="0.85" fill="none"/>
<rect x="57.4" y="175.8" width="109.4" height="109.8" fill="none" stroke="#141414" stroke-width="1.2"/>
<line x1="101.1" y1="175.8" x2="101.1" y2="285.6" stroke="#000" stroke-width="1.2"/>
<line x1="57.4" y1="245" x2="166.8" y2="245" stroke="#000" stroke-width="1.2"/>
<line x1="54.8" y1="285.4" x2="57.4" y2="285.4" stroke="#141414" stroke-width="0.8"/>
<line x1="56" y1="277.21" x2="57.4" y2="277.21" stroke="#141414" stroke-width="0.8"/>
<line x1="56" y1="272.42" x2="57.4" y2="272.42" stroke="#141414" stroke-width="0.8"/>
<line x1="56" y1="269.02" x2="57.4" y2="269.02" stroke="#141414" stroke-width="0.8"/>
<line x1="56" y1="266.39" x2="57.4" y2="266.39" stroke="#141414" stroke-width="0.8"/>
<line x1="56" y1="264.23" x2="57.4" y2="264.23" stroke="#141414" stroke-width="0.8"/>
<line x1="56" y1="262.41" x2="57.4" y2="262.41" stroke="#141414" stroke-width="0.8"/>
<line x1="56" y1="260.84" x2="57.4" y2="260.84" stroke="#141414" stroke-width="0.8"/>
<line x1="56" y1="259.44" x2="57.4" y2="259.44" stroke="#141414" stroke-width="0.8"/>
<line x1="54.8" y1="258.2" x2="57.4" y2="258.2" stroke="#141414" stroke-width="0.8"/>
<line x1="56" y1="249.95" x2="57.4" y2="249.95" stroke="#141414" stroke-width="0.8"/>
<line x1="56" y1="245.13" x2="57.4" y2="245.13" stroke="#141414" stroke-width="0.8"/>
<line x1="56" y1="241.7" x2="57.4" y2="241.7" stroke="#141414" stroke-width="0.8"/>
<line x1="56" y1="239.05" x2="57.4" y2="239.05" stroke="#141414" stroke-width="0.8"/>
<line x1="56" y1="236.88" x2="57.4" y2="236.88" stroke="#141414" stroke-width="0.8"/>
<line x1="56" y1="235.04" x2="57.4" y2="235.04" stroke="#141414" stroke-width="0.8"/>
<line x1="56" y1="233.46" x2="57.4" y2="233.46" stroke="#141414" stroke-width="0.8"/>
<line x1="56" y1="232.05" x2="57.4" y2="232.05" stroke="#141414" stroke-width="0.8"/>
<line x1="54.8" y1="230.8" x2="57.4" y2="230.8" stroke="#141414" stroke-width="0.8"/>
<line x1="56" y1="222.37" x2="57.4" y2="222.37" stroke="#141414" stroke-width="0.8"/>
<line x1="56" y1="217.44" x2="57.4" y2="217.44" stroke="#141414" stroke-width="0.8"/>
<line x1="56" y1="213.94" x2="57.4" y2="213.94" stroke="#141414" stroke-width="0.8"/>
<line x1="56" y1="211.23" x2="57.4" y2="211.23" stroke="#141414" stroke-width="0.8"/>
<line x1="56" y1="209.01" x2="57.4" y2="209.01" stroke="#141414" stroke-width="0.8"/>
<line x1="56" y1="207.14" x2="57.4" y2="207.14" stroke="#141414" stroke-width="0.8"/>
<line x1="56" y1="205.51" x2="57.4" y2="205.51" stroke="#141414" stroke-width="0.8"/>
<line x1="56" y1="204.08" x2="57.4" y2="204.08" stroke="#141414" stroke-width="0.8"/>
<line x1="54.8" y1="202.8" x2="57.4" y2="202.8" stroke="#141414" stroke-width="0.8"/>
<line x1="56" y1="194.67" x2="57.4" y2="194.67" stroke="#141414" stroke-width="0.8"/>
<line x1="56" y1="189.92" x2="57.4" y2="189.92" stroke="#141414" stroke-width="0.8"/>
<line x1="56" y1="186.54" x2="57.4" y2="186.54" stroke="#141414" stroke-width="0.8"/>
<line x1="56" y1="183.93" x2="57.4" y2="183.93" stroke="#141414" stroke-width="0.8"/>
<line x1="56" y1="181.79" x2="57.4" y2="181.79" stroke="#141414" stroke-width="0.8"/>
<line x1="56" y1="179.98" x2="57.4" y2="179.98" stroke="#141414" stroke-width="0.8"/>
<line x1="56" y1="178.42" x2="57.4" y2="178.42" stroke="#141414" stroke-width="0.8"/>
<line x1="56" y1="177.04" x2="57.4" y2="177.04" stroke="#141414" stroke-width="0.8"/>
<line x1="54.8" y1="175.8" x2="57.4" y2="175.8" stroke="#141414" stroke-width="0.8"/>
<line x1="57.4" y1="285.6" x2="57.4" y2="288.2" stroke="#141414" stroke-width="0.8"/>
<line x1="65.47" y1="285.6" x2="65.47" y2="287" stroke="#141414" stroke-width="0.8"/>
<line x1="70.19" y1="285.6" x2="70.19" y2="287" stroke="#141414" stroke-width="0.8"/>
<line x1="73.54" y1="285.6" x2="73.54" y2="287" stroke="#141414" stroke-width="0.8"/>
<line x1="76.13" y1="285.6" x2="76.13" y2="287" stroke="#141414" stroke-width="0.8"/>
<line x1="78.25" y1="285.6" x2="78.25" y2="287" stroke="#141414" stroke-width="0.8"/>
<line x1="80.05" y1="285.6" x2="80.05" y2="287" stroke="#141414" stroke-width="0.8"/>
<line x1="81.6" y1="285.6" x2="81.6" y2="287" stroke="#141414" stroke-width="0.8"/>
<line x1="82.97" y1="285.6" x2="82.97" y2="287" stroke="#141414" stroke-width="0.8"/>
<line x1="84.2" y1="285.6" x2="84.2" y2="288.2" stroke="#141414" stroke-width="0.8"/>
<line x1="92.42" y1="285.6" x2="92.42" y2="287" stroke="#141414" stroke-width="0.8"/>
<line x1="97.23" y1="285.6" x2="97.23" y2="287" stroke="#141414" stroke-width="0.8"/>
<line x1="100.64" y1="285.6" x2="100.64" y2="287" stroke="#141414" stroke-width="0.8"/>
<line x1="103.28" y1="285.6" x2="103.28" y2="287" stroke="#141414" stroke-width="0.8"/>
<line x1="105.44" y1="285.6" x2="105.44" y2="287" stroke="#141414" stroke-width="0.8"/>
<line x1="107.27" y1="285.6" x2="107.27" y2="287" stroke="#141414" stroke-width="0.8"/>
<line x1="108.85" y1="285.6" x2="108.85" y2="287" stroke="#141414" stroke-width="0.8"/>
<line x1="110.25" y1="285.6" x2="110.25" y2="287" stroke="#141414" stroke-width="0.8"/>
<line x1="111.5" y1="285.6" x2="111.5" y2="288.2" stroke="#141414" stroke-width="0.8"/>
<line x1="119.84" y1="285.6" x2="119.84" y2="287" stroke="#141414" stroke-width="0.8"/>
<line x1="124.72" y1="285.6" x2="124.72" y2="287" stroke="#141414" stroke-width="0.8"/>
<line x1="128.18" y1="285.6" x2="128.18" y2="287" stroke="#141414" stroke-width="0.8"/>
<line x1="130.86" y1="285.6" x2="130.86" y2="287" stroke="#141414" stroke-width="0.8"/>
<line x1="133.05" y1="285.6" x2="133.05" y2="287" stroke="#141414" stroke-width="0.8"/>
<line x1="134.91" y1="285.6" x2="134.91" y2="287" stroke="#141414" stroke-width="0.8"/>
<line x1="136.52" y1="285.6" x2="136.52" y2="287" stroke="#141414" stroke-width="0.8"/>
<line x1="137.93" y1="285.6" x2="137.93" y2="287" stroke="#141414" stroke-width="0.8"/>
<line x1="139.2" y1="285.6" x2="139.2" y2="288.2" stroke="#141414" stroke-width="0.8"/>
<line x1="147.39" y1="285.6" x2="147.39" y2="287" stroke="#141414" stroke-width="0.8"/>
<line x1="152.18" y1="285.6" x2="152.18" y2="287" stroke="#141414" stroke-width="0.8"/>
<line x1="155.58" y1="285.6" x2="155.58" y2="287" stroke="#141414" stroke-width="0.8"/>
<line x1="158.21" y1="285.6" x2="158.21" y2="287" stroke="#141414" stroke-width="0.8"/>
<line x1="160.37" y1="285.6" x2="160.37" y2="287" stroke="#141414" stroke-width="0.8"/>
<line x1="162.19" y1="285.6" x2="162.19" y2="287" stroke="#141414" stroke-width="0.8"/>
<line x1="163.76" y1="285.6" x2="163.76" y2="287" stroke="#141414" stroke-width="0.8"/>
<line x1="165.16" y1="285.6" x2="165.16" y2="287" stroke="#141414" stroke-width="0.8"/>
<line x1="166.4" y1="285.6" x2="166.4" y2="288.2" stroke="#141414" stroke-width="0.8"/>
<text transform="translate(52.6 287.1)" font-size="5.2" text-anchor="end" stroke="#151515" stroke-width="0.12">10<tspan font-size="3.8" dy="-2.3">0</tspan></text>
<text transform="translate(52.6 259.9)" font-size="5.2" text-anchor="end" stroke="#151515" stroke-width="0.12">10<tspan font-size="3.8" dy="-2.3">1</tspan></text>
<text transform="translate(52.6 232.5)" font-size="5.2" text-anchor="end" stroke="#151515" stroke-width="0.12">10<tspan font-size="3.8" dy="-2.3">2</tspan></text>
<text transform="translate(52.6 204.5)" font-size="5.2" text-anchor="end" stroke="#151515" stroke-width="0.12">10<tspan font-size="3.8" dy="-2.3">3</tspan></text>
<text transform="translate(52.6 177.5)" font-size="5.2" text-anchor="end" stroke="#151515" stroke-width="0.12">10<tspan font-size="3.8" dy="-2.3">4</tspan></text>
<text transform="translate(58.2 295.2)" font-size="5.2" text-anchor="middle" stroke="#151515" stroke-width="0.12">10<tspan font-size="3.8" dy="-2.3">0</tspan></text>
<text transform="translate(85 295.2)" font-size="5.2" text-anchor="middle" stroke="#151515" stroke-width="0.12">10<tspan font-size="3.8" dy="-2.3">1</tspan></text>
<text transform="translate(112.3 295.2)" font-size="5.2" text-anchor="middle" stroke="#151515" stroke-width="0.12">10<tspan font-size="3.8" dy="-2.3">2</tspan></text>
<text transform="translate(140 295.2)" font-size="5.2" text-anchor="middle" stroke="#151515" stroke-width="0.12">10<tspan font-size="3.8" dy="-2.3">3</tspan></text>
<text transform="translate(167.2 295.2)" font-size="5.2" text-anchor="middle" stroke="#151515" stroke-width="0.12">10<tspan font-size="3.8" dy="-2.3">4</tspan></text>
<text transform="translate(112.3 170.9) scale(0.950 1)" font-size="8.2" text-anchor="middle" stroke="#151515" stroke-width="0.35">LSK gated</text>
<text transform="translate(41.5 230.5) rotate(-90) scale(0.862 1)" font-size="10.3" text-anchor="middle" stroke="#151515" stroke-width="0.35">Flt3</text>
<text transform="translate(113.6 306.9) scale(0.878 1)" font-size="10.2" text-anchor="middle" stroke="#151515" stroke-width="0.35">CD34</text>
<path d="M111.6 401.5h0.85M107.4 396.2h0.85M108.0 380.8h0.85M95.9 396.0h0.85M121.3 376.6h0.85M117.4 385.0h0.85M108.5 409.8h0.85M115.1 392.9h0.85M112.2 408.6h0.85M107.2 391.0h0.85M116.4 393.0h0.85M108.6 381.6h0.85M108.5 402.5h0.85M105.7 390.9h0.85M113.2 399.3h0.85M109.9 397.4h0.85M113.8 398.4h0.85M106.9 396.3h0.85M111.3 392.7h0.85M105.1 393.1h0.85M115.5 386.1h0.85M111.6 371.6h0.85M112.5 398.1h0.85M113.0 414.2h0.85M104.4 404.1h0.85M115.2 416.9h0.85M122.8 398.2h0.85M100.7 383.6h0.85M100.1 383.3h0.85M101.5 400.9h0.85M115.5 396.8h0.85M111.3 391.7h0.85M117.0 400.9h0.85M114.8 384.6h0.85M111.8 398.8h0.85M112.2 390.6h0.85M109.5 395.1h0.85M115.7 405.5h0.85M103.7 392.1h0.85M108.0 407.5h0.85M112.0 407.0h0.85M121.3 385.9h0.85M105.9 417.1h0.85M104.0 381.1h0.85M107.1 392.6h0.85M116.3 401.1h0.85M109.1 370.6h0.85M118.4 404.1h0.85M99.3 405.2h0.85M117.3 392.5h0.85M116.7 396.4h0.85M102.0 395.9h0.85M111.4 391.6h0.85M117.8 404.6h0.85M111.0 389.9h0.85M116.5 393.3h0.85M124.7 397.4h0.85M112.1 402.3h0.85M108.8 404.9h0.85M105.9 378.7h0.85M114.4 373.1h0.85M109.3 392.3h0.85M109.4 393.2h0.85M109.9 382.7h0.85M114.4 396.8h0.85M104.1 400.1h0.85M101.3 397.6h0.85M95.9 410.4h0.85M117.7 383.2h0.85M110.9 393.9h0.85M119.6 413.2h0.85M110.4 400.6h0.85M106.0 382.4h0.85M113.4 395.7h0.85M110.0 405.6h0.85M103.0 414.8h0.85M105.2 400.4h0.85M121.1 405.5h0.85M112.6 382.4h0.85M113.0 391.1h0.85M108.8 405.8h0.85M106.4 383.9h0.85M115.8 393.0h0.85M109.9 374.7h0.85M105.9 408.6h0.85M109.7 392.3h0.85M105.1 399.4h0.85M111.6 378.4h0.85M117.3 380.3h0.85M105.5 412.0h0.85M119.1 390.1h0.85M106.5 388.1h0.85M111.4 398.8h0.85M105.5 399.2h0.85M109.2 373.7h0.85M110.8 383.7h0.85M107.9 394.1h0.85M106.3 393.7h0.85M106.4 397.2h0.85M105.6 389.2h0.85M101.1 390.8h0.85M108.9 395.8h0.85M112.9 386.6h0.85M116.0 385.1h0.85M114.4 388.0h0.85M125.2 393.7h0.85M112.4 392.1h0.85M107.8 388.7h0.85M121.7 391.0h0.85M104.2 393.1h0.85M116.3 396.8h0.85M104.8 397.2h0.85M112.6 380.5h0.85M98.7 403.4h0.85M115.9 377.3h0.85M109.6 399.1h0.85M104.7 386.4h0.85M120.6 399.4h0.85M115.1 404.3h0.85M110.8 374.5h0.85M106.0 399.6h0.85M110.2 396.3h0.85M109.5 388.8h0.85M114.8 397.4h0.85M115.3 388.5h0.85M106.5 394.7h0.85M107.2 382.9h0.85M107.3 401.4h0.85M102.4 399.4h0.85M107.0 401.0h0.85M109.9 386.9h0.85M114.6 412.0h0.85M118.4 413.4h0.85M105.6 392.6h0.85M113.8 389.2h0.85M107.8 389.3h0.85M123.0 400.4h0.85M110.2 403.8h0.85M113.5 385.9h0.85M104.9 373.0h0.85M105.6 398.0h0.85M111.7 393.0h0.85M108.2 395.2h0.85M112.6 398.7h0.85M101.1 382.2h0.85M114.5 394.1h0.85M105.1 390.4h0.85M120.8 397.2h0.85M108.8 405.7h0.85M117.1 393.4h0.85M102.1 384.7h0.85M113.1 405.9h0.85M105.2 400.5h0.85M107.6 391.3h0.85M110.6 375.1h0.85M108.6 384.5h0.85M112.1 394.7h0.85M115.0 398.8h0.85M114.4 387.9h0.85M110.0 397.6h0.85M102.3 386.8h0.85M105.7 388.9h0.85M109.3 398.6h0.85M97.8 390.5h0.85M115.0 394.6h0.85M109.1 402.0h0.85M109.0 404.5h0.85M116.2 387.2h0.85M114.5 390.6h0.85M111.8 379.8h0.85M104.5 380.0h0.85M112.4 396.1h0.85M112.6 387.9h0.85M105.2 374.4h0.85M116.8 398.4h0.85M113.5 384.6h0.85M98.7 389.9h0.85M111.2 397.3h0.85M102.9 397.1h0.85M117.3 392.5h0.85M115.3 373.0h0.85M103.9 398.7h0.85M105.2 387.1h0.85M111.1 378.8h0.85M109.1 370.9h0.85M119.7 406.3h0.85M114.9 394.5h0.85M108.8 394.2h0.85M114.0 399.2h0.85M98.3 392.3h0.85M112.4 378.2h0.85M115.7 399.9h0.85M109.4 403.1h0.85M106.2 398.3h0.85M113.9 408.5h0.85M122.3 412.2h0.85M111.7 385.1h0.85M103.8 388.6h0.85M119.2 402.0h0.85M99.2 394.9h0.85M113.5 395.2h0.85M107.0 402.5h0.85M116.1 400.5h0.85M105.4 388.7h0.85M118.4 394.4h0.85M112.3 386.0h0.85M100.1 391.2h0.85M98.7 382.0h0.85M108.6 373.5h0.85M118.3 388.2h0.85M111.3 387.2h0.85M110.9 402.1h0.85M109.1 408.9h0.85M114.9 393.4h0.85M112.8 397.9h0.85M112.2 386.8h0.85M104.6 383.9h0.85M117.6 390.4h0.85M118.7 390.4h0.85M102.7 396.2h0.85M124.3 394.4h0.85M114.8 409.8h0.85M107.6 391.1h0.85M99.1 376.7h0.85M114.4 394.5h0.85M113.8 386.7h0.85M106.9 395.3h0.85M99.8 404.5h0.85M117.2 386.9h0.85M107.0 392.5h0.85M107.7 398.5h0.85M127.6 383.8h0.85M123.3 395.5h0.85M116.2 398.8h0.85M107.8 401.4h0.85M114.4 404.3h0.85M96.8 398.9h0.85M111.1 397.3h0.85M105.9 379.4h0.85M101.0 383.7h0.85M113.7 407.6h0.85M111.0 394.5h0.85M111.5 370.9h0.85M115.6 389.2h0.85M105.4 397.0h0.85M103.1 374.9h0.85M99.8 399.1h0.85M108.5 382.0h0.85M115.1 403.8h0.85M109.6 393.7h0.85M114.3 424.4h0.85M103.4 380.1h0.85M107.7 396.3h0.85M105.9 378.7h0.85M103.0 405.0h0.85M121.7 394.7h0.85M115.6 402.7h0.85M105.9 394.5h0.85M105.9 381.8h0.85M110.2 387.0h0.85M101.8 381.2h0.85M113.1 383.1h0.85M102.7 395.0h0.85M108.3 404.2h0.85M104.4 402.1h0.85M107.6 398.7h0.85M102.5 387.9h0.85M101.1 398.6h0.85M104.7 385.0h0.85M106.4 395.6h0.85M108.7 401.9h0.85M110.9 391.7h0.85M119.7 388.9h0.85M115.4 389.2h0.85M109.0 399.7h0.85M114.9 390.5h0.85M106.4 379.4h0.85M119.2 389.4h0.85M113.8 382.9h0.85M102.4 408.5h0.85M115.0 393.7h0.85M115.4 378.9h0.85M94.4 396.2h0.85M106.0 400.7h0.85M107.7 397.3h0.85M98.9 390.0h0.85M104.1 395.0h0.85M104.8 396.3h0.85M113.5 403.5h0.85M112.3 397.2h0.85M126.3 416.2h0.85M108.1 391.4h0.85M117.4 408.8h0.85M111.0 393.7h0.85M112.1 376.6h0.85M103.5 381.9h0.85M99.0 375.4h0.85M105.9 376.4h0.85M115.1 405.5h0.85M120.0 387.0h0.85M114.1 399.6h0.85M113.5 384.7h0.85M105.5 393.4h0.85M119.7 383.1h0.85M118.6 402.2h0.85M107.3 391.0h0.85M110.2 389.1h0.85M104.5 391.9h0.85M119.3 415.2h0.85M112.9 398.0h0.85M109.9 401.9h0.85M112.9 381.2h0.85M113.1 387.1h0.85M108.0 396.5h0.85M103.1 375.1h0.85M102.8 406.9h0.85M100.1 396.3h0.85M113.3 393.4h0.85M123.8 391.6h0.85M100.3 391.2h0.85M111.3 388.5h0.85M113.0 407.4h0.85M104.6 400.4h0.85M111.7 405.9h0.85M103.9 390.5h0.85M117.7 384.8h0.85M106.9 407.1h0.85M111.1 381.4h0.85M114.6 387.5h0.85M107.9 400.6h0.85M99.8 404.4h0.85M107.3 380.5h0.85M115.1 390.8h0.85M110.0 393.8h0.85M111.9 392.2h0.85M104.0 385.0h0.85M111.4 400.3h0.85M114.9 388.3h0.85M110.7 391.2h0.85M121.9 371.2h0.85M109.3 392.5h0.85M104.3 374.2h0.85M100.8 400.6h0.85M117.4 398.5h0.85M110.1 388.5h0.85M116.6 395.2h0.85M113.2 394.6h0.85M120.3 392.1h0.85M118.1 397.1h0.85M108.2 392.3h0.85M112.1 388.8h0.85M117.0 385.6h0.85M103.1 410.2h0.85M119.2 395.5h0.85M117.8 393.3h0.85M116.4 400.7h0.85M109.3 389.7h0.85M112.3 389.7h0.85M103.8 400.2h0.85M110.8 403.8h0.85M107.0 400.2h0.85M111.0 378.8h0.85M107.5 394.1h0.85M112.2 393.3h0.85M117.6 398.1h0.85M102.6 384.7h0.85M116.1 383.1h0.85M98.5 392.4h0.85M97.5 384.7h0.85M109.8 383.0h0.85M110.5 392.8h0.85M113.2 402.7h0.85M100.6 394.9h0.85M110.1 404.6h0.85M111.3 383.6h0.85M118.0 400.5h0.85M109.9 393.4h0.85M113.7 384.8h0.85M104.6 389.4h0.85M109.4 385.0h0.85M107.8 391.4h0.85M114.7 386.1h0.85M104.6 406.0h0.85M105.5 390.0h0.85M114.0 379.4h0.85M121.2 391.6h0.85M112.8 397.3h0.85M112.3 390.4h0.85M108.4 402.0h0.85M117.0 384.5h0.85M113.7 385.1h0.85M120.9 409.6h0.85M112.5 393.5h0.85M104.8 398.9h0.85M107.1 398.4h0.85M104.6 399.2h0.85M103.0 393.9h0.85M118.1 391.6h0.85M115.3 404.2h0.85M103.1 388.7h0.85M121.2 394.7h0.85M112.0 400.3h0.85M104.8 389.6h0.85M112.8 378.4h0.85M110.1 398.0h0.85M105.9 404.2h0.85M98.8 396.0h0.85M110.7 377.0h0.85M112.3 399.8h0.85M95.0 412.9h0.85M113.8 378.3h0.85M107.7 391.1h0.85M111.2 394.3h0.85M108.8 401.2h0.85M105.5 401.6h0.85M108.3 394.5h0.85M118.6 398.9h0.85M101.8 396.9h0.85M111.9 394.8h0.85M111.6 393.0h0.85M106.3 392.1h0.85M107.9 400.5h0.85M102.1 397.6h0.85M105.4 389.4h0.85M110.6 404.3h0.85M112.5 386.5h0.85M105.1 391.3h0.85M128.8 394.9h0.85M107.1 375.0h0.85M111.3 389.9h0.85M109.1 402.0h0.85M108.1 401.6h0.85M118.3 381.9h0.85M107.6 385.5h0.85M118.5 383.1h0.85M117.4 391.3h0.85M104.2 393.0h0.85M116.7 378.0h0.85M106.6 396.7h0.85M126.9 394.3h0.85M108.2 392.9h0.85M104.9 387.0h0.85M99.0 391.8h0.85M102.7 376.2h0.85M107.0 395.9h0.85M104.5 395.7h0.85M103.1 392.6h0.85M106.3 382.1h0.85M109.3 406.0h0.85M119.2 404.6h0.85M100.3 375.3h0.85M107.2 397.6h0.85M104.8 395.1h0.85M102.9 398.7h0.85M105.1 399.9h0.85M114.8 400.6h0.85M109.3 395.2h0.85M107.3 387.3h0.85M114.2 388.6h0.85M112.2 398.6h0.85M109.2 405.0h0.85M112.8 388.9h0.85M105.5 390.9h0.85M114.3 400.4h0.85M113.3 372.7h0.85M108.0 398.0h0.85M103.2 391.4h0.85M119.6 372.3h0.85M111.1 401.1h0.85M128.8 384.7h0.85M106.6 401.3h0.85M115.6 407.0h0.85M107.9 381.5h0.85M112.0 382.0h0.85M115.5 393.5h0.85M105.7 376.6h0.85M109.9 400.8h0.85M111.5 395.5h0.85M111.2 403.2h0.85M114.1 375.8h0.85M116.7 395.7h0.85M115.5 398.2h0.85M112.1 376.2h0.85M108.4 402.4h0.85M103.7 380.3h0.85M106.1 395.5h0.85M107.3 380.9h0.85M114.6 401.4h0.85M108.3 410.4h0.85M103.0 394.4h0.85M114.3 394.1h0.85M105.7 406.5h0.85M105.9 389.5h0.85M109.1 394.3h0.85M113.3 401.9h0.85M96.0 398.0h0.85M103.8 409.3h0.85M111.6 405.6h0.85M108.3 412.8h0.85M105.3 393.9h0.85M107.3 405.1h0.85M118.8 386.2h0.85M107.8 403.1h0.85M114.8 411.4h0.85M115.3 417.3h0.85M107.8 382.2h0.85M113.2 392.7h0.85M107.8 401.4h0.85M106.8 385.9h0.85M103.7 399.8h0.85M115.7 399.8h0.85M108.1 389.8h0.85M107.2 389.3h0.85M103.7 385.5h0.85M121.4 397.5h0.85M115.0 406.9h0.85M109.7 397.4h0.85M106.3 421.6h0.85M101.3 380.1h0.85M112.3 388.9h0.85M112.2 401.1h0.85M102.0 383.4h0.85M117.5 397.9h0.85M115.2 402.5h0.85M104.7 396.3h0.85M107.2 392.3h0.85M107.9 403.7h0.85M111.5 398.6h0.85M109.6 401.6h0.85M100.7 399.9h0.85M119.3 388.0h0.85M112.4 383.8h0.85M118.1 390.8h0.85M118.0 396.3h0.85M109.3 392.7h0.85M112.6 403.8h0.85M114.9 397.0h0.85M115.1 404.0h0.85M109.5 395.7h0.85M106.8 387.4h0.85M110.7 402.8h0.85M105.7 399.4h0.85M107.2 386.2h0.85M98.3 390.4h0.85M111.0 421.8h0.85M107.2 405.5h0.85M110.2 394.9h0.85M112.4 393.7h0.85M121.8 391.4h0.85M111.7 389.3h0.85M102.0 417.5h0.85M111.3 389.9h0.85M106.9 391.2h0.85M112.9 402.1h0.85M106.4 398.0h0.85M106.2 392.4h0.85M107.4 391.3h0.85M106.7 381.0h0.85M99.6 404.8h0.85M106.5 383.7h0.85M110.4 370.2h0.85M117.7 404.4h0.85M108.7 401.4h0.85M108.3 397.4h0.85M114.0 388.9h0.85M113.7 405.7h0.85M120.1 383.3h0.85M114.0 372.3h0.85M110.4 395.5h0.85M118.5 401.9h0.85M119.7 400.1h0.85M107.6 414.5h0.85M111.4 402.1h0.85M100.4 391.6h0.85M108.3 392.0h0.85M105.2 402.7h0.85M109.2 393.3h0.85M107.6 392.5h0.85M109.5 376.4h0.85M109.9 390.8h0.85M113.5 381.0h0.85M111.9 396.2h0.85M107.1 395.2h0.85M102.8 400.9h0.85M117.9 411.6h0.85M119.0 392.0h0.85M107.8 408.2h0.85M113.9 382.6h0.85M101.3 395.4h0.85M101.1 403.3h0.85M108.9 413.3h0.85M119.3 382.9h0.85M104.2 391.3h0.85M105.5 395.2h0.85M120.1 392.8h0.85M99.1 384.3h0.85M114.4 377.5h0.85M113.4 381.6h0.85M109.3 393.0h0.85M111.6 380.4h0.85M126.2 411.5h0.85M103.7 406.0h0.85M108.6 374.8h0.85M109.1 388.9h0.85M106.4 407.0h0.85M102.4 408.2h0.85M120.1 404.9h0.85M111.8 379.5h0.85M100.0 390.1h0.85M106.3 406.5h0.85M112.9 394.8h0.85M112.9 389.2h0.85M101.9 398.8h0.85M110.0 403.6h0.85M112.1 395.2h0.85M112.9 396.2h0.85M112.9 404.5h0.85M99.6 388.1h0.85M121.6 384.6h0.85M111.8 401.4h0.85M121.3 381.8h0.85M127.7 398.7h0.85M109.5 386.5h0.85M103.1 402.1h0.85M115.7 381.9h0.85M109.4 405.1h0.85M107.8 396.6h0.85M104.3 390.7h0.85M120.6 385.1h0.85M107.8 392.2h0.85M102.1 384.5h0.85M107.8 381.8h0.85M103.6 404.5h0.85M111.4 399.7h0.85M108.0 406.0h0.85M104.2 380.2h0.85M114.1 374.2h0.85M106.6 377.9h0.85M114.8 400.2h0.85M118.1 401.7h0.85M108.3 375.2h0.85M106.6 403.9h0.85M111.7 389.3h0.85M115.8 381.7h0.85M110.5 392.9h0.85M111.3 399.3h0.85M110.3 391.5h0.85M112.4 391.9h0.85M114.3 385.2h0.85M106.3 379.4h0.85M107.6 389.9h0.85M110.8 377.4h0.85M106.5 399.6h0.85M111.3 385.1h0.85M113.7 406.7h0.85M110.4 377.7h0.85M106.9 407.7h0.85M105.8 384.8h0.85M121.0 384.7h0.85M115.8 396.5h0.85M103.8 402.6h0.85M105.5 393.2h0.85M121.7 390.0h0.85M119.6 413.5h0.85M111.3 398.7h0.85M117.4 381.5h0.85M101.6 390.9h0.85M110.5 410.5h0.85M114.9 396.9h0.85M99.3 401.8h0.85M105.8 413.9h0.85M115.2 387.6h0.85M117.3 397.3h0.85M106.9 386.9h0.85M112.2 393.5h0.85M120.1 399.0h0.85M108.2 380.2h0.85M102.5 395.0h0.85M110.1 395.0h0.85M108.1 404.1h0.85M118.3 387.6h0.85M111.5 380.8h0.85M105.7 397.5h0.85M124.9 382.3h0.85M107.5 395.4h0.85M113.3 399.3h0.85M114.6 384.8h0.85M115.2 392.3h0.85M111.5 383.1h0.85M110.1 378.9h0.85M102.0 372.6h0.85M109.2 393.7h0.85M109.3 382.8h0.85M109.4 392.0h0.85M111.3 393.0h0.85M106.8 404.1h0.85M118.4 390.0h0.85M119.9 389.4h0.85M97.3 398.5h0.85M110.6 409.6h0.85M106.2 392.7h0.85M94.9 396.9h0.85M113.0 391.5h0.85M106.8 386.4h0.85M108.2 378.0h0.85M106.6 392.7h0.85M117.0 390.8h0.85M117.9 391.0h0.85M112.2 413.4h0.85M114.7 390.1h0.85M109.8 396.8h0.85M111.3 390.0h0.85M106.0 405.3h0.85M110.7 390.6h0.85M106.2 412.1h0.85M112.7 390.9h0.85M115.5 401.3h0.85M112.4 403.7h0.85M117.6 391.1h0.85M126.6 402.1h0.85M97.9 394.2h0.85M110.6 385.9h0.85M107.1 386.8h0.85M107.8 396.9h0.85M102.4 411.4h0.85M110.8 388.6h0.85M109.0 399.0h0.85M106.7 385.4h0.85M109.0 396.1h0.85M106.9 380.4h0.85M96.4 385.6h0.85M117.0 393.4h0.85M108.7 386.0h0.85M104.8 390.8h0.85M112.3 403.6h0.85M106.5 392.3h0.85M97.5 386.3h0.85M115.8 381.2h0.85M100.4 388.2h0.85M109.2 405.1h0.85M111.2 392.7h0.85M118.6 392.1h0.85M117.6 400.8h0.85M111.5 401.9h0.85M105.9 403.6h0.85M108.0 389.9h0.85M117.0 384.4h0.85M121.2 376.8h0.85M113.8 386.7h0.85M106.6 389.8h0.85M116.7 400.8h0.85M108.2 396.7h0.85M108.1 387.9h0.85M108.8 402.4h0.85M114.0 380.9h0.85M112.2 383.0h0.85M116.5 381.7h0.85M118.3 382.6h0.85M113.6 391.0h0.85M96.5 385.0h0.85M100.3 385.9h0.85M111.5 406.9h0.85M110.1 378.8h0.85M123.5 383.2h0.85M110.3 391.1h0.85M109.6 397.9h0.85M116.2 398.4h0.85M116.9 390.8h0.85M109.1 389.8h0.85M113.3 390.8h0.85M103.7 400.9h0.85M104.8 384.3h0.85M117.9 370.0h0.85M102.1 395.3h0.85M116.0 381.8h0.85M114.6 392.9h0.85M115.1 407.4h0.85M116.0 394.5h0.85M113.9 411.9h0.85M97.7 377.6h0.85M104.5 395.9h0.85M106.9 397.4h0.85M116.0 401.8h0.85M103.7 386.2h0.85M106.3 395.1h0.85M108.3 394.7h0.85M118.4 394.4h0.85M101.9 379.8h0.85M102.4 376.3h0.85M114.3 398.9h0.85M97.7 397.0h0.85M112.5 393.9h0.85M107.8 399.9h0.85M101.0 404.4h0.85M108.0 382.0h0.85M104.5 401.4h0.85M111.5 408.5h0.85M112.7 403.9h0.85M119.4 399.6h0.85M110.4 400.7h0.85M111.1 379.3h0.85M107.0 388.8h0.85M110.4 404.0h0.85M116.8 408.6h0.85M98.9 398.4h0.85M114.5 389.2h0.85M107.3 392.4h0.85M110.9 402.4h0.85M112.5 414.1h0.85M115.6 401.8h0.85M111.9 388.7h0.85M108.1 400.2h0.85M112.4 398.3h0.85M110.6 418.0h0.85M109.3 399.9h0.85M111.7 394.4h0.85M115.7 393.3h0.85M111.3 381.7h0.85M111.4 383.5h0.85M102.8 389.2h0.85M109.7 385.9h0.85M99.4 395.9h0.85M114.8 395.0h0.85M104.9 403.5h0.85M118.3 409.2h0.85M128.5 395.6h0.85M108.1 392.1h0.85M118.5 375.5h0.85M112.9 397.9h0.85M107.2 400.7h0.85M105.5 386.4h0.85M113.9 390.1h0.85M118.9 387.1h0.85M112.6 404.7h0.85M101.4 400.3h0.85M104.2 406.2h0.85M109.1 382.0h0.85M118.6 420.7h0.85M112.2 385.5h0.85M112.5 383.8h0.85M117.8 395.9h0.85M109.3 388.5h0.85M110.0 412.2h0.85M109.4 389.9h0.85M99.8 387.1h0.85M113.3 403.7h0.85M113.0 406.2h0.85M116.4 385.6h0.85M103.4 389.2h0.85M105.6 390.3h0.85M116.1 392.3h0.85M112.4 411.0h0.85M118.8 406.5h0.85M105.3 404.6h0.85M111.7 406.6h0.85M106.4 394.1h0.85M112.4 402.6h0.85M107.6 393.1h0.85M113.7 386.3h0.85M117.0 410.5h0.85M114.6 376.3h0.85M99.7 393.8h0.85M116.1 388.0h0.85M113.2 377.1h0.85M104.2 390.0h0.85M105.2 394.4h0.85M110.5 398.3h0.85M113.9 385.5h0.85M107.8 401.2h0.85M100.8 396.8h0.85M112.2 401.8h0.85M111.5 374.4h0.85M125.1 389.1h0.85M102.8 387.5h0.85M125.6 399.4h0.85M121.0 386.2h0.85M112.3 388.5h0.85M120.5 382.2h0.85M111.1 381.6h0.85M116.4 384.2h0.85M106.1 403.2h0.85M111.0 382.9h0.85M104.4 369.2h0.85M101.0 396.4h0.85M108.9 389.0h0.85M106.5 399.0h0.85M113.9 398.8h0.85M118.1 390.3h0.85M109.5 389.3h0.85M110.9 387.9h0.85M111.6 393.4h0.85M100.4 385.7h0.85M112.1 395.4h0.85M110.6 407.3h0.85M110.2 386.8h0.85M103.9 387.2h0.85M98.6 387.1h0.85M109.0 399.6h0.85M112.4 400.0h0.85M118.5 407.8h0.85M117.3 400.6h0.85M119.2 394.8h0.85M112.7 398.0h0.85M117.4 380.4h0.85M109.3 399.1h0.85M114.3 395.3h0.85M116.1 414.3h0.85M126.6 407.3h0.85M112.0 385.3h0.85M102.9 387.9h0.85M118.8 402.3h0.85M105.8 372.9h0.85M110.1 384.4h0.85M108.7 397.3h0.85M105.1 400.0h0.85M118.5 395.4h0.85M114.1 405.2h0.85M106.8 390.9h0.85M110.9 394.5h0.85M107.9 391.6h0.85M114.2 382.7h0.85M108.2 394.0h0.85M105.9 388.1h0.85M106.6 394.4h0.85M107.9 367.5h0.85M112.2 394.7h0.85M105.0 388.2h0.85M110.0 387.5h0.85M113.2 394.0h0.85M124.5 388.9h0.85M115.6 402.9h0.85M92.6 406.1h0.85M107.4 402.4h0.85M108.1 403.2h0.85M112.4 397.2h0.85M119.9 393.9h0.85M115.0 380.8h0.85M96.7 389.9h0.85M112.3 405.7h0.85M111.1 401.3h0.85M113.0 388.7h0.85M118.7 394.7h0.85M104.0 404.2h0.85M117.1 392.0h0.85M100.6 409.8h0.85M110.8 386.1h0.85M112.8 401.5h0.85M124.2 400.6h0.85M106.3 395.4h0.85M100.3 396.6h0.85M114.6 399.0h0.85M106.5 371.0h0.85M119.9 398.3h0.85M106.3 405.1h0.85M105.2 397.6h0.85M118.0 405.0h0.85M111.0 381.9h0.85M116.5 393.0h0.85M101.9 397.0h0.85M120.4 391.0h0.85M107.0 405.5h0.85M115.4 398.5h0.85M104.5 388.6h0.85M101.2 401.8h0.85M109.0 401.8h0.85M111.5 389.3h0.85M120.0 399.9h0.85M112.6 397.4h0.85M114.8 397.2h0.85M114.5 381.2h0.85M129.2 406.4h0.85M105.6 400.1h0.85M118.0 393.4h0.85M109.6 397.1h0.85M112.1 397.0h0.85M107.2 390.6h0.85M117.5 387.8h0.85M103.0 394.6h0.85M102.6 387.7h0.85M109.3 388.8h0.85M103.6 382.0h0.85M114.7 390.9h0.85M116.0 403.7h0.85M106.0 395.8h0.85M115.2 394.1h0.85M106.5 390.5h0.85M110.2 389.4h0.85M110.5 378.7h0.85M121.8 410.1h0.85M110.5 386.4h0.85M105.0 378.6h0.85M105.0 397.6h0.85M117.7 396.1h0.85M100.5 388.4h0.85M107.7 378.9h0.85M108.2 379.8h0.85M95.8 409.3h0.85M107.7 392.4h0.85M116.5 387.1h0.85M111.9 412.2h0.85M105.1 388.2h0.85M114.6 384.4h0.85M113.6 399.0h0.85M122.6 397.3h0.85M106.0 409.2h0.85M108.2 378.0h0.85M110.7 396.5h0.85M109.7 376.6h0.85M111.0 398.2h0.85M109.9 387.1h0.85M106.3 389.0h0.85M100.9 386.2h0.85M107.1 402.0h0.85M102.1 409.8h0.85M104.2 392.7h0.85M107.2 391.0h0.85M113.5 388.6h0.85M115.6 398.8h0.85M104.2 383.3h0.85M112.3 429.0h0.85M115.3 391.3h0.85M110.2 410.7h0.85" stroke="#000" stroke-opacity="0.5" stroke-width="0.85" fill="none"/>
<path d="M100.6 395.1h0.85M97.5 379.9h0.85M115.2 377.9h0.85M115.9 389.3h0.85M112.0 386.4h0.85M104.1 391.1h0.85M119.1 382.0h0.85M117.7 417.0h0.85M110.1 414.8h0.85M109.0 375.4h0.85M98.6 398.3h0.85M114.9 405.5h0.85M100.7 390.1h0.85M114.4 391.2h0.85M114.7 404.4h0.85M110.9 398.9h0.85M119.8 381.3h0.85M108.4 405.7h0.85M113.9 388.5h0.85M115.1 412.0h0.85M111.8 383.8h0.85M107.8 370.4h0.85M117.7 394.4h0.85M112.9 405.6h0.85M109.2 398.6h0.85M109.4 394.9h0.85M111.1 384.1h0.85M124.0 402.5h0.85M111.0 374.7h0.85M108.9 401.3h0.85M104.0 381.1h0.85M103.0 387.2h0.85M99.0 380.0h0.85M111.8 384.0h0.85M110.5 408.1h0.85M104.2 381.3h0.85M101.4 395.1h0.85M108.4 385.1h0.85M107.2 403.5h0.85M102.3 379.4h0.85M112.1 393.1h0.85M111.2 402.2h0.85M110.0 415.9h0.85M115.0 381.1h0.85M106.4 384.2h0.85M118.5 392.5h0.85M104.2 407.9h0.85M113.4 382.7h0.85M114.1 401.3h0.85M108.8 386.6h0.85M112.4 382.5h0.85M102.6 376.9h0.85M101.3 394.3h0.85M109.1 402.8h0.85M105.9 391.9h0.85M113.9 371.4h0.85M110.5 387.2h0.85M114.0 402.7h0.85M112.2 401.7h0.85M111.5 395.6h0.85M110.9 407.8h0.85M108.1 380.0h0.85M107.5 380.4h0.85M122.5 417.0h0.85M99.7 399.6h0.85M109.2 390.8h0.85M116.3 387.9h0.85M112.8 366.7h0.85M118.8 401.3h0.85M113.6 371.8h0.85M102.7 372.9h0.85M108.3 392.3h0.85M101.9 408.1h0.85M116.2 388.8h0.85M119.0 396.6h0.85M107.6 388.4h0.85M113.5 396.8h0.85M107.8 375.9h0.85M101.6 414.2h0.85M107.6 383.0h0.85M100.8 398.5h0.85M106.8 372.0h0.85M111.5 410.9h0.85M114.6 397.3h0.85M118.0 413.2h0.85M108.2 386.2h0.85M111.7 403.4h0.85M112.8 391.1h0.85M113.6 392.4h0.85M93.1 406.1h0.85M105.6 383.7h0.85M115.0 400.5h0.85M103.5 412.8h0.85M111.7 410.8h0.85M115.2 403.8h0.85M98.8 396.4h0.85M109.1 383.2h0.85M111.6 407.7h0.85M110.3 386.1h0.85M101.0 405.3h0.85M112.3 389.7h0.85M106.8 393.2h0.85M115.1 393.1h0.85M112.7 399.3h0.85M106.9 388.7h0.85M111.2 395.0h0.85M106.0 387.8h0.85M105.9 398.5h0.85M100.6 396.0h0.85M108.7 397.5h0.85M114.9 384.5h0.85M110.8 396.5h0.85M109.9 393.6h0.85M106.3 399.1h0.85M106.9 393.7h0.85M114.5 383.3h0.85M101.0 400.5h0.85M122.4 386.3h0.85M109.6 396.0h0.85M123.0 372.0h0.85M117.0 398.2h0.85M107.4 399.8h0.85M114.3 383.7h0.85M111.5 399.0h0.85M112.7 389.3h0.85M114.7 407.2h0.85M106.6 399.9h0.85M106.2 380.4h0.85M107.4 391.0h0.85M101.7 375.1h0.85M108.3 389.8h0.85M111.2 398.6h0.85M111.3 401.5h0.85M111.0 392.0h0.85M107.4 390.7h0.85M114.5 394.8h0.85M97.5 387.0h0.85M107.4 396.5h0.85M107.8 404.5h0.85M115.1 395.1h0.85M113.7 401.9h0.85M114.5 385.3h0.85M109.8 388.2h0.85M115.4 396.7h0.85M103.7 413.8h0.85M110.1 403.6h0.85M97.0 410.7h0.85M119.9 393.8h0.85M119.2 406.0h0.85M106.0 376.3h0.85M104.5 398.7h0.85M97.0 372.2h0.85M100.4 405.9h0.85M110.3 398.4h0.85M108.7 405.3h0.85M100.7 397.6h0.85M106.6 388.5h0.85M105.6 386.0h0.85M112.4 395.5h0.85M113.9 408.8h0.85M108.3 400.0h0.85M110.3 388.1h0.85M109.6 387.9h0.85M97.1 386.5h0.85M110.7 391.5h0.85M109.2 392.7h0.85M114.1 388.7h0.85M98.6 393.7h0.85M114.2 377.7h0.85M105.8 409.5h0.85M111.2 396.2h0.85M116.9 409.1h0.85M100.8 396.6h0.85M101.8 391.7h0.85M115.6 394.6h0.85M102.8 395.9h0.85M103.9 387.0h0.85M113.3 389.9h0.85M108.4 413.1h0.85M114.3 403.2h0.85M111.5 388.5h0.85M109.5 399.1h0.85M115.6 385.3h0.85M122.8 408.0h0.85M109.1 383.6h0.85M118.5 402.9h0.85M116.5 394.1h0.85M110.3 394.2h0.85M112.4 385.6h0.85M104.0 391.2h0.85M106.0 386.1h0.85M111.3 385.1h0.85M109.4 398.5h0.85M117.5 419.2h0.85M101.9 390.4h0.85M107.9 403.9h0.85M105.9 393.7h0.85M108.8 386.6h0.85M116.7 407.4h0.85M102.4 400.3h0.85M114.8 405.4h0.85M106.2 395.0h0.85M107.7 395.3h0.85M115.7 385.6h0.85M108.0 391.2h0.85M113.7 410.8h0.85M110.4 370.9h0.85M108.7 397.8h0.85M107.5 408.7h0.85M99.3 402.0h0.85M105.2 402.8h0.85M110.7 391.2h0.85M110.9 405.3h0.85M100.8 405.6h0.85M115.8 393.6h0.85M113.2 410.8h0.85M101.9 389.1h0.85M103.5 369.0h0.85M112.8 393.8h0.85M99.2 392.8h0.85M105.3 385.4h0.85M109.5 389.3h0.85M109.0 388.5h0.85M109.4 375.5h0.85M112.1 406.4h0.85M105.0 394.0h0.85M106.9 421.0h0.85M122.1 393.8h0.85M101.4 397.9h0.85M107.1 378.7h0.85M110.5 404.2h0.85M105.9 383.0h0.85M117.2 399.4h0.85M110.3 403.2h0.85M114.4 401.6h0.85M94.1 385.5h0.85M117.0 385.8h0.85M116.8 401.5h0.85M105.3 405.8h0.85M117.7 408.5h0.85M111.5 393.6h0.85M115.5 392.8h0.85M120.8 411.9h0.85M110.5 387.9h0.85M103.8 401.5h0.85M109.8 390.7h0.85M102.3 379.6h0.85M105.1 382.6h0.85M105.3 398.4h0.85M105.7 396.1h0.85M116.9 398.8h0.85M115.0 390.3h0.85M104.6 388.8h0.85M116.8 396.7h0.85M99.9 392.0h0.85M106.0 377.7h0.85M109.2 389.5h0.85M117.1 410.9h0.85M114.4 386.1h0.85M112.7 399.3h0.85M117.9 393.0h0.85M114.3 401.1h0.85M118.3 385.0h0.85M105.3 380.9h0.85M99.9 398.3h0.85M107.6 386.7h0.85M115.1 393.4h0.85M111.6 390.6h0.85M115.4 403.4h0.85M114.4 396.3h0.85M113.2 395.1h0.85M115.0 383.9h0.85M105.8 378.0h0.85M116.7 385.3h0.85M104.1 402.1h0.85M109.4 400.6h0.85M101.6 399.5h0.85M113.1 389.7h0.85M100.8 383.4h0.85M118.6 405.2h0.85M102.0 395.5h0.85M111.7 399.0h0.85M109.3 384.2h0.85M104.8 386.8h0.85M117.6 400.1h0.85M107.5 401.0h0.85M118.9 383.7h0.85M104.0 396.5h0.85M105.3 381.9h0.85M98.1 405.8h0.85M113.4 400.3h0.85M115.6 416.4h0.85M111.5 408.7h0.85M109.2 387.0h0.85M104.6 395.6h0.85M124.2 388.9h0.85M114.6 395.0h0.85M99.0 401.4h0.85M108.3 393.6h0.85M94.5 394.2h0.85M119.6 380.2h0.85M122.0 399.4h0.85M118.9 393.5h0.85M109.8 399.9h0.85M106.6 404.0h0.85M101.7 393.9h0.85M113.3 400.6h0.85M105.7 387.6h0.85M107.9 403.0h0.85M106.3 393.4h0.85M108.3 387.7h0.85M115.5 391.3h0.85M120.3 379.4h0.85M111.1 387.1h0.85M110.3 389.3h0.85M103.5 393.8h0.85M102.8 392.7h0.85M103.8 387.2h0.85M115.5 391.7h0.85M111.7 372.3h0.85M116.0 394.5h0.85M112.7 399.1h0.85M107.8 401.4h0.85M102.7 404.3h0.85M108.0 391.5h0.85M101.6 392.7h0.85M122.2 388.8h0.85M111.8 388.7h0.85M108.0 394.7h0.85M122.2 406.9h0.85M107.9 376.7h0.85M113.6 388.6h0.85M109.2 396.2h0.85M112.4 383.5h0.85M108.0 397.6h0.85M113.2 379.8h0.85M118.8 390.0h0.85M102.6 377.0h0.85M96.8 396.1h0.85M118.4 385.6h0.85M111.2 399.8h0.85M115.5 390.5h0.85M108.5 383.8h0.85M119.6 389.2h0.85M121.2 394.6h0.85M103.1 393.2h0.85M114.3 390.8h0.85M106.5 389.8h0.85M100.5 393.4h0.85M108.4 401.7h0.85M113.6 387.6h0.85M101.9 397.6h0.85M102.4 380.1h0.85M117.6 402.4h0.85M110.3 396.9h0.85M112.6 389.8h0.85M103.2 390.0h0.85M106.1 376.5h0.85M110.8 394.2h0.85M111.2 390.8h0.85M110.9 379.4h0.85M119.7 388.9h0.85M111.0 399.0h0.85M100.7 395.0h0.85M104.7 396.0h0.85M109.6 387.8h0.85M117.7 401.7h0.85M105.8 393.1h0.85M107.5 401.7h0.85M109.7 415.3h0.85M105.6 373.5h0.85M104.9 388.4h0.85M108.4 393.4h0.85M115.8 386.1h0.85M112.7 403.6h0.85M108.0 389.9h0.85M112.2 409.9h0.85M102.0 400.9h0.85M115.8 397.6h0.85M114.2 393.2h0.85M111.6 401.8h0.85M99.9 398.3h0.85M122.1 408.0h0.85M92.0 397.7h0.85M103.7 403.7h0.85M104.2 397.6h0.85M114.0 396.9h0.85M100.6 378.2h0.85M111.2 393.7h0.85M108.8 397.5h0.85M108.0 382.1h0.85M114.9 379.9h0.85M118.4 390.6h0.85M112.1 396.5h0.85M108.1 376.8h0.85M95.9 396.7h0.85M118.7 403.1h0.85M107.9 391.1h0.85M98.5 396.0h0.85M110.7 398.2h0.85M118.6 387.1h0.85M108.9 399.8h0.85M102.7 398.1h0.85M123.5 381.4h0.85M113.5 398.7h0.85M111.9 402.3h0.85M116.0 382.9h0.85M96.6 402.2h0.85M109.4 391.0h0.85M108.8 380.3h0.85M123.6 383.3h0.85M106.4 384.8h0.85M106.5 399.0h0.85M101.4 388.8h0.85M104.9 389.7h0.85M108.6 381.1h0.85M111.5 393.8h0.85M108.7 381.3h0.85M122.1 386.9h0.85M112.9 399.7h0.85M113.8 400.2h0.85M118.2 388.3h0.85M113.8 393.1h0.85M106.7 398.9h0.85M100.5 393.5h0.85M112.1 405.5h0.85M104.9 406.9h0.85M117.9 392.7h0.85M105.3 381.4h0.85M96.4 392.1h0.85M110.2 407.0h0.85M116.4 404.8h0.85M108.7 405.4h0.85M111.0 404.7h0.85M110.9 388.5h0.85M120.4 396.4h0.85M111.8 404.4h0.85M109.7 396.3h0.85M106.2 402.4h0.85M99.9 383.7h0.85M118.5 381.6h0.85M116.9 413.7h0.85M104.1 401.3h0.85M113.6 399.8h0.85M111.9 408.3h0.85M107.6 415.8h0.85M108.0 422.4h0.85M114.5 369.8h0.85M102.6 397.6h0.85M106.7 404.0h0.85M109.4 374.7h0.85M109.8 376.0h0.85M108.6 392.0h0.85M111.2 412.6h0.85M113.1 403.2h0.85M104.4 415.3h0.85M110.4 396.6h0.85M106.7 404.5h0.85M119.1 409.0h0.85M101.3 398.4h0.85M108.5 393.6h0.85M114.2 395.0h0.85M107.9 397.0h0.85M106.6 375.1h0.85M111.8 385.5h0.85M102.8 400.8h0.85M109.4 397.7h0.85M109.3 373.7h0.85M101.0 398.9h0.85M111.6 401.2h0.85M107.1 395.6h0.85M111.8 400.5h0.85M114.1 411.9h0.85M104.8 433.4h0.85M112.4 433.4h0.85M105.0 418.9h0.85M111.5 422.9h0.85M106.6 426.9h0.85M112.1 423.0h0.85M98.1 416.4h0.85M120.2 428.2h0.85M99.8 422.2h0.85M97.4 412.6h0.85M110.9 421.4h0.85M103.0 425.4h0.85M112.9 434.1h0.85M100.8 427.4h0.85M118.1 427.1h0.85M116.9 415.3h0.85M102.9 432.2h0.85M121.1 413.7h0.85M106.6 413.3h0.85M109.3 416.0h0.85M105.3 412.3h0.85M110.9 422.1h0.85M111.6 428.3h0.85M108.5 421.7h0.85M111.1 416.8h0.85M110.0 423.6h0.85M112.1 415.5h0.85M101.4 431.6h0.85M106.7 436.9h0.85M102.3 418.4h0.85M108.9 417.8h0.85M108.9 431.9h0.85M105.1 418.9h0.85M120.2 435.9h0.85M103.5 427.1h0.85M112.4 411.9h0.85M106.6 421.4h0.85M118.1 425.4h0.85M116.5 417.0h0.85M111.8 442.2h0.85M113.3 395.8h0.85M104.2 415.5h0.85M103.1 415.2h0.85M113.9 412.6h0.85M109.4 413.4h0.85M100.0 421.2h0.85M108.2 426.2h0.85M101.4 421.6h0.85M100.6 427.8h0.85M108.9 419.0h0.85M109.6 409.6h0.85M107.3 413.3h0.85M106.2 434.0h0.85M102.9 414.4h0.85M108.0 416.0h0.85M108.4 424.8h0.85M106.4 426.9h0.85M123.3 420.0h0.85M107.5 429.4h0.85M109.9 436.1h0.85M104.6 438.3h0.85M108.2 422.9h0.85M109.5 406.2h0.85M112.6 409.3h0.85M91.2 409.4h0.85M115.5 424.0h0.85M112.5 433.9h0.85M110.7 425.8h0.85M103.1 430.5h0.85M102.5 407.8h0.85M113.4 435.0h0.85M113.2 420.6h0.85M109.2 414.2h0.85M113.6 416.6h0.85M103.7 417.5h0.85M102.8 441.9h0.85M116.8 425.4h0.85M116.0 436.1h0.85M114.0 406.7h0.85M115.9 437.5h0.85M109.1 426.0h0.85M95.6 431.3h0.85M107.8 411.1h0.85M116.0 427.4h0.85M107.9 422.6h0.85M113.6 418.9h0.85M113.1 421.5h0.85M104.0 423.3h0.85M112.5 425.0h0.85M109.9 412.4h0.85M100.8 429.6h0.85M115.8 407.6h0.85M103.0 410.3h0.85M112.2 402.7h0.85M112.4 391.1h0.85M104.9 439.8h0.85M103.9 439.8h0.85M112.1 415.4h0.85M110.8 416.0h0.85M116.7 410.6h0.85M110.5 421.0h0.85M112.5 420.2h0.85M110.5 408.5h0.85M115.1 419.8h0.85M103.5 405.3h0.85M98.2 417.9h0.85M112.4 433.0h0.85M108.2 428.1h0.85M105.7 423.0h0.85M119.4 417.5h0.85M101.0 441.9h0.85M107.7 418.1h0.85M114.9 396.9h0.85M108.3 417.0h0.85M106.9 395.5h0.85M111.3 420.0h0.85M107.2 418.1h0.85M99.3 436.5h0.85M101.6 435.6h0.85M113.5 417.2h0.85M113.4 418.4h0.85M102.4 428.6h0.85M111.0 409.2h0.85M113.2 412.0h0.85M113.4 436.5h0.85M118.0 409.6h0.85M115.3 423.0h0.85M108.0 416.6h0.85M113.5 441.9h0.85M102.7 406.5h0.85M99.8 411.5h0.85M114.3 436.1h0.85M116.2 428.9h0.85M113.1 421.5h0.85M111.3 420.2h0.85M100.1 432.9h0.85M101.1 441.6h0.85M105.8 408.5h0.85M119.3 417.0h0.85M107.8 431.7h0.85M110.5 418.1h0.85M104.8 431.8h0.85M117.4 411.1h0.85M98.3 436.7h0.85M119.3 429.7h0.85M109.6 424.5h0.85M93.9 425.6h0.85M110.0 439.3h0.85M113.0 409.0h0.85M113.0 425.2h0.85M112.3 412.5h0.85M107.8 412.3h0.85M107.9 437.3h0.85M110.2 426.7h0.85M106.0 424.2h0.85M119.8 429.6h0.85M102.5 416.1h0.85M110.4 435.2h0.85M107.9 417.1h0.85M100.9 428.7h0.85M118.0 422.8h0.85M111.2 431.9h0.85M105.5 411.9h0.85M104.4 430.3h0.85M108.0 430.7h0.85M118.9 423.1h0.85M110.9 416.3h0.85M104.1 410.1h0.85M110.4 416.9h0.85M105.4 425.3h0.85M112.7 416.3h0.85M112.2 403.3h0.85M114.1 428.3h0.85M111.6 426.9h0.85M110.3 417.0h0.85M102.0 407.1h0.85M111.1 414.5h0.85M116.3 415.6h0.85M101.2 413.9h0.85M115.2 422.8h0.85M106.1 399.2h0.85M106.0 421.1h0.85M106.1 416.9h0.85M113.9 429.9h0.85M110.0 410.8h0.85M110.9 419.1h0.85M103.8 416.7h0.85M119.1 398.4h0.85M117.6 417.2h0.85M117.2 425.6h0.85M114.1 421.5h0.85M102.4 418.6h0.85M110.2 419.7h0.85M105.4 399.1h0.85M119.1 424.6h0.85M111.5 414.6h0.85M112.4 417.9h0.85M111.2 432.9h0.85M111.5 421.0h0.85M116.1 442.3h0.85M122.6 434.5h0.85M114.5 427.8h0.85M117.4 425.4h0.85M114.0 410.3h0.85M103.1 440.3h0.85M107.7 419.9h0.85M106.4 422.4h0.85M113.5 405.1h0.85M92.6 434.9h0.85M97.1 424.8h0.85M107.1 424.8h0.85M112.4 418.3h0.85M108.0 420.1h0.85M109.5 418.3h0.85M114.4 416.7h0.85M118.6 416.5h0.85M120.1 415.4h0.85M113.7 441.3h0.85M108.1 399.6h0.85M105.1 420.4h0.85M114.0 413.9h0.85M119.7 413.9h0.85M113.7 428.7h0.85M99.2 384.4h0.85M116.8 429.4h0.85M121.9 399.2h0.85M115.0 422.4h0.85M109.1 415.4h0.85M105.7 412.8h0.85M104.1 419.6h0.85M119.4 408.3h0.85M109.1 440.1h0.85M109.3 401.3h0.85M109.7 402.3h0.85M110.0 418.3h0.85M112.9 420.2h0.85M108.4 434.7h0.85M112.8 418.4h0.85M107.6 407.1h0.85M106.3 413.8h0.85M100.4 411.4h0.85M111.5 416.0h0.85M118.4 425.6h0.85M114.4 416.6h0.85M117.3 412.8h0.85M108.6 427.1h0.85M106.3 409.6h0.85M106.2 419.4h0.85M104.2 423.8h0.85M115.5 412.9h0.85M118.1 431.9h0.85M106.6 417.7h0.85M113.3 439.9h0.85M102.5 417.5h0.85M112.6 414.6h0.85M115.3 407.3h0.85M105.8 421.2h0.85M118.0 427.3h0.85M108.1 403.4h0.85M112.2 399.4h0.85M120.4 405.8h0.85M101.5 419.8h0.85M113.4 419.7h0.85M109.1 409.5h0.85M119.4 415.0h0.85M110.4 419.2h0.85M109.6 424.4h0.85M113.5 406.6h0.85M121.0 399.8h0.85M107.1 414.7h0.85M105.0 439.1h0.85M105.9 414.2h0.85M116.1 415.4h0.85M99.9 421.5h0.85M103.6 401.2h0.85M106.6 427.5h0.85M104.9 410.7h0.85M109.2 399.7h0.85M106.0 417.5h0.85M98.3 417.7h0.85M123.6 431.1h0.85M116.3 425.9h0.85M109.1 415.1h0.85M106.8 429.9h0.85M106.0 429.3h0.85M99.2 440.2h0.85M103.4 412.2h0.85M111.2 421.9h0.85M111.7 412.2h0.85M118.5 422.9h0.85M110.0 435.7h0.85M106.4 431.2h0.85M115.5 417.4h0.85M113.6 394.6h0.85M102.5 413.2h0.85M105.8 417.5h0.85M115.3 425.1h0.85M105.5 434.2h0.85M110.6 433.0h0.85M104.1 424.4h0.85M116.2 431.1h0.85M122.3 411.1h0.85M97.8 412.1h0.85M103.8 435.2h0.85M114.2 424.2h0.85M111.8 430.9h0.85M109.6 430.1h0.85M102.3 427.9h0.85M99.5 418.6h0.85M107.6 429.5h0.85M115.9 420.6h0.85M116.0 430.1h0.85M124.4 431.6h0.85M99.8 419.2h0.85M111.4 441.7h0.85M111.8 421.7h0.85M121.8 436.5h0.85M106.2 408.7h0.85M118.5 430.4h0.85M100.8 407.5h0.85M116.7 410.5h0.85M104.7 404.2h0.85M104.0 417.6h0.85M112.3 421.3h0.85M107.4 415.3h0.85M109.3 431.1h0.85M105.1 409.7h0.85M114.8 421.2h0.85M108.3 418.5h0.85M105.7 424.2h0.85M105.6 420.8h0.85M98.4 405.3h0.85M101.8 441.4h0.85M111.7 433.9h0.85M111.1 427.8h0.85M108.9 433.8h0.85M117.7 425.3h0.85M109.8 413.4h0.85M109.8 408.5h0.85M113.0 428.0h0.85M111.9 411.6h0.85M116.9 416.9h0.85M106.6 408.4h0.85M110.4 428.1h0.85M109.9 416.8h0.85M107.8 423.4h0.85M109.4 416.7h0.85M115.5 408.3h0.85M119.0 426.7h0.85M110.2 419.9h0.85M110.1 411.9h0.85M111.6 429.6h0.85M116.9 434.3h0.85M113.8 440.5h0.85M120.0 429.8h0.85M121.4 424.1h0.85M117.1 431.6h0.85M106.8 412.5h0.85M108.1 420.5h0.85M107.9 422.1h0.85M107.5 402.6h0.85M116.2 427.1h0.85M106.4 431.4h0.85M113.4 418.8h0.85M107.8 433.9h0.85M105.1 410.6h0.85M117.6 431.9h0.85M101.8 432.6h0.85M118.4 415.5h0.85M102.0 421.6h0.85M113.3 415.8h0.85M111.9 408.5h0.85M111.9 405.6h0.85M109.8 408.6h0.85M106.3 424.4h0.85M108.7 403.0h0.85M118.5 418.9h0.85M123.8 428.1h0.85M117.2 422.8h0.85M114.1 415.3h0.85M111.8 395.3h0.85M109.6 429.2h0.85M118.7 431.0h0.85M108.5 418.7h0.85M108.8 411.3h0.85M106.7 420.0h0.85M113.7 411.6h0.85M129.7 430.6h0.85M108.6 419.1h0.85M100.2 428.3h0.85M106.0 410.4h0.85M115.4 404.4h0.85M108.0 393.9h0.85M107.3 423.4h0.85M114.3 405.0h0.85M109.6 433.4h0.85M104.9 420.4h0.85M112.7 420.4h0.85M104.1 400.1h0.85M109.3 428.1h0.85M121.2 426.9h0.85M96.6 435.7h0.85M119.6 416.4h0.85M98.9 423.2h0.85M111.4 424.7h0.85M97.3 428.2h0.85M108.2 430.3h0.85M105.5 423.5h0.85M106.1 425.8h0.85M104.8 428.8h0.85M118.9 436.4h0.85M115.8 431.5h0.85M100.6 424.6h0.85M99.3 419.2h0.85M108.9 416.3h0.85M101.4 429.5h0.85M121.5 411.3h0.85M118.3 410.0h0.85M113.5 420.8h0.85M99.4 415.5h0.85M105.6 418.3h0.85M115.7 425.0h0.85M104.2 419.8h0.85M114.2 424.3h0.85M110.1 424.7h0.85M115.5 420.7h0.85M109.5 412.5h0.85M109.4 427.8h0.85M101.9 421.8h0.85M109.0 415.3h0.85M104.5 411.2h0.85M114.0 421.7h0.85M101.2 441.9h0.85M114.9 421.6h0.85M115.8 430.1h0.85M113.6 416.7h0.85M100.6 413.0h0.85M102.1 433.4h0.85M110.8 425.0h0.85M110.3 409.5h0.85M107.3 434.0h0.85M108.3 420.1h0.85M103.2 433.2h0.85M103.5 434.3h0.85M103.1 420.3h0.85M106.1 412.5h0.85M108.8 435.6h0.85M104.0 424.3h0.85M115.9 404.8h0.85M110.7 416.9h0.85M103.5 427.6h0.85M125.6 401.7h0.85M94.2 413.4h0.85M113.2 411.9h0.85M111.5 416.1h0.85M106.0 443.7h0.85M103.3 423.4h0.85M109.0 439.6h0.85M115.9 424.1h0.85M114.9 422.1h0.85M112.4 420.2h0.85M110.8 422.1h0.85M109.8 437.0h0.85M115.1 432.7h0.85M110.3 429.7h0.85M111.0 432.4h0.85M117.8 409.3h0.85M106.4 414.3h0.85M111.6 406.1h0.85M109.2 414.1h0.85M104.5 433.0h0.85M118.2 411.1h0.85M103.9 411.3h0.85M107.4 414.9h0.85M104.5 407.0h0.85M112.2 421.9h0.85M113.1 428.1h0.85M119.4 435.0h0.85M119.5 423.3h0.85M119.3 427.6h0.85M112.8 432.8h0.85M115.7 415.4h0.85M108.2 415.3h0.85M103.8 425.4h0.85M117.0 422.6h0.85M104.9 419.3h0.85M113.7 421.1h0.85M118.7 415.4h0.85M109.7 410.2h0.85M118.2 423.5h0.85M110.3 415.7h0.85M109.5 412.5h0.85M114.0 429.2h0.85M121.0 423.0h0.85M102.6 433.7h0.85M111.6 414.9h0.85M105.7 433.7h0.85M111.7 442.4h0.85M113.1 416.6h0.85M101.5 415.6h0.85M103.6 412.7h0.85M115.4 413.3h0.85M112.5 418.8h0.85M106.2 424.1h0.85M110.3 415.8h0.85M115.5 426.4h0.85M115.3 410.1h0.85M97.5 417.7h0.85M106.7 430.9h0.85M119.9 434.5h0.85M107.6 439.2h0.85M107.3 437.5h0.85M110.7 433.3h0.85M111.9 403.7h0.85M111.3 413.7h0.85M112.1 415.2h0.85M105.2 420.3h0.85M112.3 425.1h0.85M114.6 436.4h0.85M110.4 415.6h0.85M108.9 392.7h0.85M105.7 406.5h0.85M110.9 424.5h0.85M102.6 427.5h0.85M107.0 409.3h0.85M108.6 430.7h0.85M96.0 423.4h0.85M110.9 435.7h0.85M100.4 393.4h0.85M104.2 422.4h0.85M104.2 419.3h0.85M107.0 421.8h0.85M107.9 416.7h0.85M112.5 413.0h0.85M102.7 417.2h0.85M106.6 407.0h0.85M111.4 395.9h0.85M105.6 427.4h0.85M104.7 415.0h0.85M110.4 410.2h0.85M113.0 434.4h0.85M112.1 418.1h0.85M101.3 419.1h0.85M109.8 427.5h0.85M108.7 416.9h0.85M119.1 422.7h0.85M108.8 411.9h0.85M107.4 432.4h0.85M117.2 421.5h0.85" stroke="#000" stroke-opacity="0.5" stroke-width="0.85" fill="none"/>
<path d="M82.1 423.4h0.85M82.1 405.1h0.85M80.9 400.4h0.85M80.0 427.4h0.85M84.1 374.0h0.85M95.2 419.4h0.85M98.4 414.1h0.85M90.5 394.4h0.85M73.3 402.5h0.85M76.0 432.8h0.85M92.1 371.8h0.85M81.5 403.4h0.85M95.7 390.1h0.85M87.4 408.8h0.85M86.2 411.7h0.85M74.7 411.6h0.85M90.5 417.0h0.85M94.0 420.2h0.85M88.9 415.4h0.85M80.7 392.1h0.85M79.0 398.6h0.85M84.8 422.9h0.85M75.6 404.1h0.85M73.8 420.2h0.85M72.1 424.4h0.85M93.3 370.1h0.85M81.9 437.5h0.85M72.2 419.9h0.85M72.7 419.2h0.85M76.3 424.0h0.85M91.5 421.5h0.85M87.8 424.9h0.85M91.0 401.3h0.85M75.1 409.9h0.85M88.4 404.5h0.85M98.6 407.6h0.85M99.4 413.8h0.85M78.7 412.5h0.85M93.2 406.8h0.85M72.7 402.2h0.85M98.0 398.6h0.85M74.1 407.0h0.85M99.0 398.0h0.85M88.3 399.7h0.85M82.5 419.9h0.85M89.3 422.1h0.85M81.9 403.5h0.85M81.5 400.1h0.85M92.9 381.3h0.85M81.1 405.3h0.85M98.0 411.7h0.85M72.7 404.9h0.85M80.3 404.4h0.85M80.4 422.5h0.85M74.0 418.6h0.85M86.7 402.6h0.85M80.9 433.8h0.85M97.4 428.1h0.85M95.4 440.8h0.85M75.8 412.0h0.85M98.2 403.5h0.85M83.9 409.4h0.85M90.5 409.7h0.85M95.4 398.4h0.85M92.4 422.9h0.85M93.0 401.2h0.85M87.4 380.9h0.85M97.1 419.1h0.85M97.9 409.1h0.85M75.0 416.7h0.85M74.1 402.9h0.85M100.9 382.0h0.85M96.7 434.3h0.85M80.3 419.6h0.85M81.1 409.7h0.85M72.4 414.9h0.85M79.2 430.2h0.85M96.9 416.4h0.85M85.2 408.6h0.85M74.9 411.0h0.85M80.0 392.6h0.85M95.3 415.0h0.85M100.6 409.7h0.85M93.2 419.2h0.85M93.1 402.2h0.85M83.7 403.0h0.85M87.8 386.4h0.85M93.6 406.1h0.85M99.8 407.2h0.85M92.3 404.3h0.85M88.8 426.4h0.85M94.9 422.0h0.85M90.6 411.7h0.85M79.2 397.7h0.85M97.4 413.3h0.85M93.3 406.7h0.85M90.7 408.0h0.85M75.1 420.7h0.85M84.2 398.0h0.85M91.5 417.5h0.85M73.1 391.6h0.85M98.3 410.6h0.85M81.5 413.0h0.85M75.8 413.7h0.85M92.3 424.3h0.85M97.0 410.8h0.85M88.9 408.5h0.85M89.5 422.2h0.85M91.9 408.9h0.85M96.8 420.5h0.85M98.0 403.6h0.85M97.8 413.2h0.85M90.0 405.7h0.85M90.8 411.3h0.85M72.6 404.8h0.85M76.3 409.9h0.85M73.9 374.6h0.85M74.8 427.2h0.85M94.3 395.5h0.85M72.2 412.8h0.85M89.9 397.1h0.85M100.5 438.1h0.85M87.2 424.4h0.85M90.2 435.4h0.85M72.7 403.7h0.85M82.8 412.4h0.85M73.7 424.5h0.85M77.4 405.4h0.85M94.8 441.7h0.85M87.0 422.6h0.85M83.5 420.1h0.85M92.4 409.9h0.85M82.3 429.2h0.85M94.8 410.8h0.85M78.1 391.7h0.85M75.2 410.7h0.85M100.3 396.4h0.85M72.3 411.0h0.85M91.1 417.0h0.85" stroke="#000" stroke-opacity="0.25" stroke-width="0.85" fill="none"/>
<rect x="57.4" y="335.4" width="109.4" height="109.8" fill="none" stroke="#141414" stroke-width="1.2"/>
<line x1="101.1" y1="335.4" x2="101.1" y2="445.2" stroke="#000" stroke-width="1.2"/>
<line x1="57.4" y1="404.6" x2="166.8" y2="404.6" stroke="#000" stroke-width="1.2"/>
<line x1="54.8" y1="445" x2="57.4" y2="445" stroke="#141414" stroke-width="0.8"/>
<line x1="56" y1="436.81" x2="57.4" y2="436.81" stroke="#141414" stroke-width="0.8"/>
<line x1="56" y1="432.02" x2="57.4" y2="432.02" stroke="#141414" stroke-width="0.8"/>
<line x1="56" y1="428.62" x2="57.4" y2="428.62" stroke="#141414" stroke-width="0.8"/>
<line x1="56" y1="425.99" x2="57.4" y2="425.99" stroke="#141414" stroke-width="0.8"/>
<line x1="56" y1="423.83" x2="57.4" y2="423.83" stroke="#141414" stroke-width="0.8"/>
<line x1="56" y1="422.01" x2="57.4" y2="422.01" stroke="#141414" stroke-width="0.8"/>
<line x1="56" y1="420.44" x2="57.4" y2="420.44" stroke="#141414" stroke-width="0.8"/>
<line x1="56" y1="419.04" x2="57.4" y2="419.04" stroke="#141414" stroke-width="0.8"/>
<line x1="54.8" y1="417.8" x2="57.4" y2="417.8" stroke="#141414" stroke-width="0.8"/>
<line x1="56" y1="409.55" x2="57.4" y2="409.55" stroke="#141414" stroke-width="0.8"/>
<line x1="56" y1="404.73" x2="57.4" y2="404.73" stroke="#141414" stroke-width="0.8"/>
<line x1="56" y1="401.3" x2="57.4" y2="401.3" stroke="#141414" stroke-width="0.8"/>
<line x1="56" y1="398.65" x2="57.4" y2="398.65" stroke="#141414" stroke-width="0.8"/>
<line x1="56" y1="396.48" x2="57.4" y2="396.48" stroke="#141414" stroke-width="0.8"/>
<line x1="56" y1="394.64" x2="57.4" y2="394.64" stroke="#141414" stroke-width="0.8"/>
<line x1="56" y1="393.06" x2="57.4" y2="393.06" stroke="#141414" stroke-width="0.8"/>
<line x1="56" y1="391.65" x2="57.4" y2="391.65" stroke="#141414" stroke-width="0.8"/>
<line x1="54.8" y1="390.4" x2="57.4" y2="390.4" stroke="#141414" stroke-width="0.8"/>
<line x1="56" y1="381.97" x2="57.4" y2="381.97" stroke="#141414" stroke-width="0.8"/>
<line x1="56" y1="377.04" x2="57.4" y2="377.04" stroke="#141414" stroke-width="0.8"/>
<line x1="56" y1="373.54" x2="57.4" y2="373.54" stroke="#141414" stroke-width="0.8"/>
<line x1="56" y1="370.83" x2="57.4" y2="370.83" stroke="#141414" stroke-width="0.8"/>
<line x1="56" y1="368.61" x2="57.4" y2="368.61" stroke="#141414" stroke-width="0.8"/>
<line x1="56" y1="366.74" x2="57.4" y2="366.74" stroke="#141414" stroke-width="0.8"/>
<line x1="56" y1="365.11" x2="57.4" y2="365.11" stroke="#141414" stroke-width="0.8"/>
<line x1="56" y1="363.68" x2="57.4" y2="363.68" stroke="#141414" stroke-width="0.8"/>
<line x1="54.8" y1="362.4" x2="57.4" y2="362.4" stroke="#141414" stroke-width="0.8"/>
<line x1="56" y1="354.27" x2="57.4" y2="354.27" stroke="#141414" stroke-width="0.8"/>
<line x1="56" y1="349.52" x2="57.4" y2="349.52" stroke="#141414" stroke-width="0.8"/>
<line x1="56" y1="346.14" x2="57.4" y2="346.14" stroke="#141414" stroke-width="0.8"/>
<line x1="56" y1="343.53" x2="57.4" y2="343.53" stroke="#141414" stroke-width="0.8"/>
<line x1="56" y1="341.39" x2="57.4" y2="341.39" stroke="#141414" stroke-width="0.8"/>
<line x1="56" y1="339.58" x2="57.4" y2="339.58" stroke="#141414" stroke-width="0.8"/>
<line x1="56" y1="338.02" x2="57.4" y2="338.02" stroke="#141414" stroke-width="0.8"/>
<line x1="56" y1="336.64" x2="57.4" y2="336.64" stroke="#141414" stroke-width="0.8"/>
<line x1="54.8" y1="335.4" x2="57.4" y2="335.4" stroke="#141414" stroke-width="0.8"/>
<line x1="57.4" y1="445.2" x2="57.4" y2="447.8" stroke="#141414" stroke-width="0.8"/>
<line x1="65.47" y1="445.2" x2="65.47" y2="446.6" stroke="#141414" stroke-width="0.8"/>
<line x1="70.19" y1="445.2" x2="70.19" y2="446.6" stroke="#141414" stroke-width="0.8"/>
<line x1="73.54" y1="445.2" x2="73.54" y2="446.6" stroke="#141414" stroke-width="0.8"/>
<line x1="76.13" y1="445.2" x2="76.13" y2="446.6" stroke="#141414" stroke-width="0.8"/>
<line x1="78.25" y1="445.2" x2="78.25" y2="446.6" stroke="#141414" stroke-width="0.8"/>
<line x1="80.05" y1="445.2" x2="80.05" y2="446.6" stroke="#141414" stroke-width="0.8"/>
<line x1="81.6" y1="445.2" x2="81.6" y2="446.6" stroke="#141414" stroke-width="0.8"/>
<line x1="82.97" y1="445.2" x2="82.97" y2="446.6" stroke="#141414" stroke-width="0.8"/>
<line x1="84.2" y1="445.2" x2="84.2" y2="447.8" stroke="#141414" stroke-width="0.8"/>
<line x1="92.42" y1="445.2" x2="92.42" y2="446.6" stroke="#141414" stroke-width="0.8"/>
<line x1="97.23" y1="445.2" x2="97.23" y2="446.6" stroke="#141414" stroke-width="0.8"/>
<line x1="100.64" y1="445.2" x2="100.64" y2="446.6" stroke="#141414" stroke-width="0.8"/>
<line x1="103.28" y1="445.2" x2="103.28" y2="446.6" stroke="#141414" stroke-width="0.8"/>
<line x1="105.44" y1="445.2" x2="105.44" y2="446.6" stroke="#141414" stroke-width="0.8"/>
<line x1="107.27" y1="445.2" x2="107.27" y2="446.6" stroke="#141414" stroke-width="0.8"/>
<line x1="108.85" y1="445.2" x2="108.85" y2="446.6" stroke="#141414" stroke-width="0.8"/>
<line x1="110.25" y1="445.2" x2="110.25" y2="446.6" stroke="#141414" stroke-width="0.8"/>
<line x1="111.5" y1="445.2" x2="111.5" y2="447.8" stroke="#141414" stroke-width="0.8"/>
<line x1="119.84" y1="445.2" x2="119.84" y2="446.6" stroke="#141414" stroke-width="0.8"/>
<line x1="124.72" y1="445.2" x2="124.72" y2="446.6" stroke="#141414" stroke-width="0.8"/>
<line x1="128.18" y1="445.2" x2="128.18" y2="446.6" stroke="#141414" stroke-width="0.8"/>
<line x1="130.86" y1="445.2" x2="130.86" y2="446.6" stroke="#141414" stroke-width="0.8"/>
<line x1="133.05" y1="445.2" x2="133.05" y2="446.6" stroke="#141414" stroke-width="0.8"/>
<line x1="134.91" y1="445.2" x2="134.91" y2="446.6" stroke="#141414" stroke-width="0.8"/>
<line x1="136.52" y1="445.2" x2="136.52" y2="446.6" stroke="#141414" stroke-width="0.8"/>
<line x1="137.93" y1="445.2" x2="137.93" y2="446.6" stroke="#141414" stroke-width="0.8"/>
<line x1="139.2" y1="445.2" x2="139.2" y2="447.8" stroke="#141414" stroke-width="0.8"/>
<line x1="147.39" y1="445.2" x2="147.39" y2="446.6" stroke="#141414" stroke-width="0.8"/>
<line x1="152.18" y1="445.2" x2="152.18" y2="446.6" stroke="#141414" stroke-width="0.8"/>
<line x1="155.58" y1="445.2" x2="155.58" y2="446.6" stroke="#141414" stroke-width="0.8"/>
<line x1="158.21" y1="445.2" x2="158.21" y2="446.6" stroke="#141414" stroke-width="0.8"/>
<line x1="160.37" y1="445.2" x2="160.37" y2="446.6" stroke="#141414" stroke-width="0.8"/>
<line x1="162.19" y1="445.2" x2="162.19" y2="446.6" stroke="#141414" stroke-width="0.8"/>
<line x1="163.76" y1="445.2" x2="163.76" y2="446.6" stroke="#141414" stroke-width="0.8"/>
<line x1="165.16" y1="445.2" x2="165.16" y2="446.6" stroke="#141414" stroke-width="0.8"/>
<line x1="166.4" y1="445.2" x2="166.4" y2="447.8" stroke="#141414" stroke-width="0.8"/>
<text transform="translate(52.6 446.7)" font-size="5.2" text-anchor="end" stroke="#151515" stroke-width="0.12">10<tspan font-size="3.8" dy="-2.3">0</tspan></text>
<text transform="translate(52.6 419.5)" font-size="5.2" text-anchor="end" stroke="#151515" stroke-width="0.12">10<tspan font-size="3.8" dy="-2.3">1</tspan></text>
<text transform="translate(52.6 392.1)" font-size="5.2" text-anchor="end" stroke="#151515" stroke-width="0.12">10<tspan font-size="3.8" dy="-2.3">2</tspan></text>
<text transform="translate(52.6 364.1)" font-size="5.2" text-anchor="end" stroke="#151515" stroke-width="0.12">10<tspan font-size="3.8" dy="-2.3">3</tspan></text>
<text transform="translate(52.6 337.1)" font-size="5.2" text-anchor="end" stroke="#151515" stroke-width="0.12">10<tspan font-size="3.8" dy="-2.3">4</tspan></text>
<text transform="translate(58.2 454.8)" font-size="5.2" text-anchor="middle" stroke="#151515" stroke-width="0.12">10<tspan font-size="3.8" dy="-2.3">0</tspan></text>
<text transform="translate(85 454.8)" font-size="5.2" text-anchor="middle" stroke="#151515" stroke-width="0.12">10<tspan font-size="3.8" dy="-2.3">1</tspan></text>
<text transform="translate(112.3 454.8)" font-size="5.2" text-anchor="middle" stroke="#151515" stroke-width="0.12">10<tspan font-size="3.8" dy="-2.3">2</tspan></text>
<text transform="translate(140 454.8)" font-size="5.2" text-anchor="middle" stroke="#151515" stroke-width="0.12">10<tspan font-size="3.8" dy="-2.3">3</tspan></text>
<text transform="translate(167.2 454.8)" font-size="5.2" text-anchor="middle" stroke="#151515" stroke-width="0.12">10<tspan font-size="3.8" dy="-2.3">4</tspan></text>
<text transform="translate(112.3 330.5) scale(0.950 1)" font-size="8.2" text-anchor="middle" stroke="#151515" stroke-width="0.35">LSK gated</text>
<text transform="translate(41.5 390.1) rotate(-90) scale(0.862 1)" font-size="10.3" text-anchor="middle" stroke="#151515" stroke-width="0.35">Flt3</text>
<text transform="translate(113.6 466.5) scale(0.878 1)" font-size="10.2" text-anchor="middle" stroke="#151515" stroke-width="0.35">CD34</text>
<path d="M260.6 234.9h0.85M284.3 265.3h0.85M276.5 233.5h0.85M277.4 252.1h0.85M279.3 250.6h0.85M264.8 236.4h0.85M279.1 259.6h0.85M274.1 232.0h0.85M282.8 248.7h0.85M278.2 244.1h0.85M278.7 254.6h0.85M275.7 260.1h0.85M272.6 245.5h0.85M277.9 242.5h0.85M284.9 242.8h0.85M279.1 244.6h0.85M288.7 258.7h0.85M279.4 246.4h0.85M281.2 253.9h0.85M293.4 247.9h0.85M285.4 238.9h0.85M277.0 259.4h0.85M279.5 236.5h0.85M285.3 249.1h0.85M296.5 266.8h0.85M278.8 235.9h0.85M279.1 248.3h0.85M289.0 230.0h0.85M273.9 242.9h0.85M278.7 231.1h0.85M288.1 244.7h0.85M285.6 242.5h0.85M281.7 250.6h0.85M286.4 268.0h0.85M258.4 252.4h0.85M289.2 256.9h0.85M273.3 248.4h0.85M267.7 246.1h0.85M283.2 239.0h0.85M286.6 227.4h0.85M277.4 249.8h0.85M272.4 268.5h0.85M281.2 254.7h0.85M280.6 242.6h0.85M292.2 268.8h0.85M287.0 243.8h0.85M282.6 241.6h0.85M289.9 234.4h0.85M279.4 237.5h0.85M273.6 246.0h0.85M285.7 273.0h0.85M285.7 246.5h0.85M279.3 236.6h0.85M274.7 241.7h0.85M282.8 246.3h0.85M261.0 228.5h0.85M286.5 250.5h0.85M284.9 257.4h0.85M267.9 252.8h0.85M281.5 256.2h0.85M273.3 233.5h0.85M287.1 228.6h0.85M264.7 264.4h0.85M273.7 262.1h0.85M286.7 230.5h0.85M290.3 251.5h0.85M263.7 249.3h0.85M277.0 255.5h0.85M283.6 251.5h0.85M276.1 243.0h0.85M293.7 251.3h0.85M271.5 250.9h0.85M283.8 248.4h0.85M272.6 226.8h0.85M292.2 213.1h0.85M280.8 239.5h0.85M278.0 229.4h0.85M267.3 252.0h0.85M294.5 257.6h0.85M287.0 252.2h0.85M287.0 244.6h0.85M290.1 249.8h0.85M283.8 263.0h0.85M275.9 240.3h0.85M274.6 260.1h0.85M274.6 257.5h0.85M292.0 252.1h0.85M269.3 266.4h0.85M276.2 240.4h0.85M278.4 260.3h0.85M282.8 237.9h0.85M285.6 239.8h0.85M271.0 236.3h0.85M267.2 254.3h0.85M281.0 237.7h0.85M290.7 249.6h0.85M287.1 235.4h0.85M282.7 261.8h0.85M278.5 271.0h0.85M283.3 251.7h0.85M279.1 268.7h0.85M287.5 255.7h0.85M274.6 275.0h0.85M282.1 250.2h0.85M280.1 230.2h0.85M285.3 266.9h0.85M282.8 247.5h0.85M293.0 241.1h0.85M293.0 229.5h0.85M264.7 247.0h0.85M278.3 236.1h0.85M276.1 266.8h0.85M285.3 257.0h0.85M262.8 229.1h0.85M290.4 230.9h0.85M289.5 242.2h0.85M270.6 225.9h0.85M273.2 247.7h0.85M274.6 248.5h0.85M281.3 239.7h0.85M286.1 242.4h0.85M279.4 266.1h0.85M287.1 266.9h0.85M282.2 249.4h0.85M295.1 259.3h0.85M286.9 240.1h0.85M291.9 253.9h0.85M272.4 237.5h0.85M279.5 257.8h0.85M274.5 234.1h0.85M293.0 237.4h0.85M286.3 248.9h0.85M278.6 255.7h0.85M277.4 231.7h0.85M284.9 242.6h0.85M275.4 250.6h0.85M273.6 251.7h0.85M284.9 238.9h0.85M279.0 245.8h0.85M276.6 265.8h0.85M271.6 255.7h0.85M270.3 233.1h0.85M285.2 222.6h0.85M287.8 250.2h0.85M281.1 263.2h0.85M283.7 251.1h0.85M281.9 259.6h0.85M282.1 243.2h0.85M268.8 232.6h0.85M277.3 258.0h0.85M281.9 250.2h0.85M274.7 257.2h0.85M277.2 232.4h0.85M274.4 251.2h0.85M278.3 241.5h0.85M287.8 258.7h0.85M277.7 242.0h0.85M279.8 241.7h0.85M287.5 242.0h0.85M286.2 264.2h0.85M294.6 249.3h0.85M264.3 239.9h0.85M287.9 236.7h0.85M277.1 236.5h0.85M282.1 266.6h0.85M287.7 227.2h0.85M289.7 238.8h0.85M289.3 256.7h0.85M282.2 263.1h0.85M293.9 247.2h0.85M278.7 258.4h0.85M279.9 258.1h0.85M287.4 260.8h0.85M276.6 249.6h0.85M289.2 251.6h0.85M280.8 236.0h0.85M277.9 260.5h0.85M282.3 234.2h0.85M286.9 231.3h0.85M276.3 255.3h0.85M284.0 239.4h0.85M280.9 254.7h0.85M293.9 236.5h0.85M275.7 268.7h0.85M289.4 249.5h0.85M275.8 235.9h0.85M273.3 251.6h0.85M275.3 260.1h0.85M271.5 240.3h0.85M282.2 255.7h0.85M289.3 274.1h0.85M282.3 260.0h0.85M286.0 249.5h0.85M294.1 242.8h0.85M283.2 256.5h0.85M282.6 231.4h0.85M278.8 213.2h0.85M268.1 241.6h0.85M287.1 236.7h0.85M266.9 270.6h0.85M286.2 251.4h0.85M280.9 237.9h0.85M290.0 235.7h0.85M280.5 255.7h0.85M274.4 239.7h0.85M283.9 242.7h0.85M276.5 248.6h0.85M279.6 250.8h0.85M281.3 250.9h0.85M279.9 251.2h0.85M279.5 265.4h0.85M274.3 270.2h0.85M279.5 230.0h0.85M263.9 280.8h0.85M279.7 251.4h0.85M271.4 264.8h0.85M290.0 241.0h0.85M291.2 253.8h0.85M265.4 252.5h0.85M282.2 251.2h0.85M280.0 260.1h0.85M272.6 257.5h0.85M285.3 237.8h0.85M277.3 248.5h0.85M266.9 258.6h0.85M278.9 258.1h0.85M279.8 245.9h0.85M281.9 246.5h0.85M271.2 248.1h0.85M285.9 236.7h0.85M286.9 234.5h0.85M271.8 268.7h0.85M275.7 245.2h0.85M280.4 251.0h0.85M276.5 240.9h0.85M295.0 265.5h0.85M282.7 270.9h0.85M272.9 247.3h0.85M274.7 256.1h0.85M280.5 240.8h0.85M279.6 261.0h0.85M282.0 239.8h0.85M285.1 264.9h0.85M280.7 254.2h0.85M276.7 254.2h0.85M287.0 241.9h0.85M282.3 243.4h0.85M286.0 257.4h0.85M271.6 249.3h0.85M295.1 238.5h0.85M280.0 274.2h0.85M281.3 247.3h0.85M273.5 243.1h0.85M275.2 241.5h0.85M285.5 258.1h0.85M288.9 261.5h0.85M287.0 252.8h0.85M290.7 260.3h0.85M286.7 231.8h0.85M281.2 245.4h0.85M287.7 244.2h0.85M285.7 249.9h0.85M280.2 255.7h0.85M286.8 225.3h0.85M282.9 239.4h0.85M278.2 253.9h0.85M286.7 259.7h0.85M296.2 260.0h0.85M279.3 252.6h0.85M280.3 214.8h0.85M279.9 236.6h0.85M290.8 258.8h0.85M266.3 238.6h0.85M283.9 237.0h0.85M290.5 221.3h0.85M274.5 264.2h0.85M292.9 255.7h0.85M285.3 238.8h0.85M276.6 247.9h0.85M282.6 248.3h0.85M268.7 236.0h0.85M276.5 246.1h0.85M295.6 252.4h0.85M273.8 256.0h0.85M295.8 264.5h0.85M280.3 249.7h0.85M289.0 243.8h0.85M281.4 254.1h0.85M263.1 241.7h0.85M276.4 234.3h0.85M282.5 263.0h0.85M271.8 244.7h0.85M270.2 250.7h0.85M283.9 257.0h0.85M275.8 235.9h0.85M267.4 256.9h0.85M275.5 254.6h0.85M287.9 248.1h0.85M277.2 254.0h0.85M288.5 240.1h0.85M293.2 222.8h0.85M281.3 245.8h0.85M272.0 238.3h0.85M270.6 259.6h0.85M280.8 252.4h0.85M288.0 242.9h0.85M283.2 249.8h0.85M285.4 265.5h0.85M277.5 262.8h0.85M283.4 253.6h0.85M277.2 254.4h0.85M278.4 245.9h0.85M270.7 247.6h0.85M268.4 256.3h0.85M277.1 247.8h0.85M272.1 252.8h0.85M273.3 235.8h0.85M286.4 229.2h0.85M280.1 228.8h0.85M288.4 265.1h0.85M275.9 263.4h0.85M287.2 237.2h0.85M283.9 230.5h0.85M275.5 258.7h0.85M289.8 254.7h0.85M274.8 232.8h0.85M256.5 261.9h0.85M287.4 251.3h0.85M276.1 265.1h0.85M292.9 253.3h0.85M275.8 259.9h0.85M271.5 253.0h0.85M293.4 237.7h0.85M272.4 246.4h0.85M282.6 241.0h0.85M292.6 259.1h0.85M281.9 237.2h0.85M280.4 230.8h0.85M281.8 257.4h0.85M287.7 262.9h0.85M274.5 266.5h0.85M285.9 262.3h0.85M285.6 231.1h0.85M278.3 242.6h0.85M273.7 248.9h0.85M286.9 223.3h0.85M277.8 249.0h0.85M283.3 252.5h0.85M282.1 237.7h0.85M290.3 250.6h0.85M275.7 263.4h0.85M280.3 249.7h0.85M260.6 261.8h0.85M273.9 261.3h0.85M293.3 254.1h0.85M275.5 253.7h0.85M275.4 244.7h0.85M271.3 264.0h0.85M285.6 243.5h0.85M282.4 240.8h0.85M271.5 257.6h0.85M286.3 240.4h0.85M283.1 254.2h0.85M287.0 261.8h0.85M275.9 250.1h0.85M294.9 250.4h0.85M284.3 260.2h0.85M280.1 258.2h0.85M276.8 230.7h0.85M279.0 233.4h0.85M287.9 265.1h0.85M278.8 253.8h0.85M289.6 224.2h0.85M285.6 233.0h0.85M291.8 249.5h0.85M287.5 237.4h0.85M280.5 254.8h0.85M265.7 250.1h0.85M283.4 255.1h0.85M287.3 235.2h0.85M282.3 256.7h0.85M285.5 272.7h0.85M277.2 239.7h0.85M278.0 265.0h0.85M273.5 261.0h0.85M291.9 257.0h0.85M282.3 248.5h0.85M277.1 235.3h0.85M270.3 238.7h0.85M279.8 258.4h0.85M292.5 261.0h0.85M284.7 263.9h0.85M275.2 260.8h0.85M292.4 260.1h0.85M292.4 244.1h0.85M288.8 234.8h0.85M287.3 251.7h0.85M290.2 255.3h0.85M285.3 250.3h0.85M287.2 231.0h0.85M274.8 243.0h0.85M293.0 231.6h0.85M282.8 251.0h0.85M264.7 247.3h0.85M286.6 253.2h0.85M288.9 250.9h0.85M278.3 265.7h0.85M284.6 236.0h0.85M287.0 223.1h0.85M285.6 260.7h0.85M276.7 266.1h0.85M279.9 266.5h0.85M289.2 252.7h0.85M291.2 255.8h0.85M281.8 250.8h0.85M281.6 233.8h0.85M282.6 242.5h0.85M289.3 255.3h0.85M272.6 242.4h0.85M270.4 272.2h0.85M282.0 230.9h0.85M272.1 244.2h0.85M276.3 262.7h0.85M281.7 242.1h0.85M284.9 235.8h0.85M272.4 233.1h0.85M287.4 240.6h0.85M266.8 267.5h0.85M285.4 254.3h0.85M268.4 255.6h0.85M270.8 243.1h0.85M286.1 259.5h0.85M277.7 250.7h0.85M274.6 238.3h0.85M277.4 244.0h0.85M284.7 251.8h0.85M280.6 263.4h0.85M280.8 248.7h0.85M289.4 255.4h0.85M275.3 273.6h0.85M277.2 239.8h0.85M276.8 234.5h0.85M290.4 261.2h0.85M288.9 254.7h0.85M291.3 248.2h0.85M280.7 252.6h0.85M279.7 245.5h0.85M287.8 255.6h0.85M277.8 245.4h0.85M287.6 259.0h0.85M286.8 235.4h0.85M275.4 239.6h0.85M280.3 250.8h0.85M280.0 243.8h0.85M294.9 257.8h0.85M280.2 242.9h0.85M281.1 252.0h0.85M262.7 243.1h0.85M282.7 230.8h0.85M280.9 235.8h0.85M272.4 239.8h0.85M287.3 243.8h0.85M268.5 250.6h0.85M279.3 260.4h0.85M282.1 256.1h0.85M271.0 270.8h0.85M287.9 264.8h0.85M289.4 247.2h0.85M269.9 269.3h0.85M269.7 263.7h0.85M285.8 244.1h0.85M280.8 253.3h0.85M271.3 262.7h0.85M278.6 252.4h0.85M280.1 261.7h0.85M279.9 254.3h0.85M287.6 258.0h0.85M284.1 245.7h0.85M295.2 254.1h0.85M292.0 245.2h0.85M286.4 257.7h0.85M289.6 229.3h0.85M291.6 253.6h0.85M286.6 264.6h0.85M271.2 256.5h0.85M287.9 249.3h0.85M281.6 256.0h0.85M294.0 239.4h0.85M281.7 239.6h0.85M285.2 245.3h0.85M283.6 247.8h0.85M294.4 261.2h0.85M282.4 238.8h0.85M278.8 261.6h0.85M283.5 230.7h0.85M277.5 240.1h0.85M282.3 249.1h0.85M280.9 263.5h0.85M283.2 242.2h0.85M296.4 223.8h0.85M277.8 254.6h0.85M281.3 249.2h0.85M279.4 236.6h0.85M286.4 237.0h0.85M271.5 241.2h0.85M275.5 250.7h0.85M280.7 257.5h0.85M285.4 231.8h0.85M280.6 277.0h0.85M277.0 249.1h0.85M274.1 245.1h0.85M285.1 257.6h0.85M292.5 250.9h0.85M283.6 277.6h0.85M282.5 262.7h0.85M284.6 245.1h0.85M273.5 244.9h0.85M278.5 243.6h0.85M278.9 245.4h0.85M283.4 257.6h0.85M280.7 241.8h0.85M271.3 268.9h0.85M290.0 248.5h0.85M294.5 247.8h0.85M278.9 260.9h0.85M284.2 225.8h0.85M283.1 238.3h0.85M287.3 256.7h0.85M269.2 249.7h0.85M293.9 249.4h0.85M277.3 254.3h0.85M291.1 242.3h0.85M281.6 247.5h0.85M277.9 233.2h0.85M279.9 227.0h0.85M288.2 264.7h0.85M274.1 238.3h0.85M278.0 240.9h0.85M277.1 266.3h0.85M267.3 262.2h0.85M291.4 243.2h0.85M285.6 243.1h0.85M280.8 248.5h0.85M290.3 238.0h0.85M273.3 256.1h0.85M280.4 251.2h0.85M294.8 251.0h0.85M288.8 258.5h0.85M263.2 258.1h0.85M272.7 267.7h0.85M289.5 228.9h0.85M277.2 260.2h0.85M279.3 236.0h0.85M285.9 232.3h0.85M273.9 258.0h0.85M282.7 241.0h0.85M287.3 245.7h0.85M284.7 262.3h0.85M284.2 241.5h0.85M276.2 238.7h0.85M285.1 253.4h0.85M277.6 264.1h0.85M291.4 255.8h0.85M275.1 241.6h0.85M263.6 247.6h0.85M277.6 272.6h0.85M284.0 260.2h0.85M289.4 259.7h0.85M289.6 263.9h0.85M274.7 245.8h0.85M274.7 255.2h0.85M291.1 255.3h0.85M272.3 237.7h0.85M289.7 249.3h0.85M279.2 256.2h0.85M287.1 236.5h0.85M286.6 259.2h0.85M287.2 258.6h0.85M287.6 261.9h0.85M273.1 240.2h0.85M283.4 250.7h0.85M281.1 266.9h0.85M283.5 259.0h0.85M290.9 240.0h0.85M278.8 252.2h0.85M275.3 266.5h0.85M275.2 248.5h0.85M278.5 254.0h0.85M287.0 280.3h0.85M274.5 249.0h0.85M290.3 248.1h0.85M283.3 237.4h0.85M279.2 241.5h0.85M270.3 267.3h0.85M283.0 247.8h0.85M286.5 235.2h0.85M266.9 238.2h0.85M290.5 249.5h0.85M294.2 258.6h0.85M283.7 240.5h0.85M284.9 257.9h0.85M290.9 253.6h0.85M273.8 255.6h0.85M280.9 256.6h0.85M279.7 244.1h0.85M279.8 247.3h0.85M262.1 255.3h0.85M287.1 233.7h0.85M275.9 251.3h0.85M282.3 255.4h0.85M279.9 261.7h0.85M288.0 248.7h0.85M278.6 246.9h0.85M274.6 250.8h0.85M285.3 240.3h0.85M292.2 246.6h0.85M278.4 254.0h0.85M292.0 252.4h0.85M283.1 236.5h0.85M276.7 245.1h0.85M293.2 223.7h0.85M274.5 258.6h0.85M289.1 242.6h0.85M277.0 251.8h0.85M284.6 235.8h0.85M271.1 247.9h0.85M274.3 254.3h0.85M289.5 260.7h0.85M282.5 232.6h0.85M281.3 259.0h0.85M277.5 246.9h0.85M284.6 239.6h0.85M269.8 254.6h0.85M272.0 245.3h0.85M279.7 245.3h0.85M274.3 240.4h0.85M275.4 251.5h0.85M280.4 249.2h0.85M279.9 246.7h0.85M279.2 237.3h0.85M294.3 242.6h0.85M289.1 253.6h0.85M290.8 264.1h0.85M280.8 248.4h0.85M277.0 265.7h0.85M269.4 248.6h0.85M278.2 235.7h0.85M264.3 256.3h0.85M276.3 237.2h0.85M287.1 253.6h0.85M294.0 261.6h0.85M288.7 245.1h0.85M274.1 247.7h0.85M284.9 278.4h0.85M274.7 251.6h0.85M287.6 251.9h0.85M280.1 258.1h0.85M287.9 247.6h0.85M288.4 253.3h0.85M282.4 265.7h0.85M278.4 236.0h0.85M291.7 235.9h0.85M294.8 255.2h0.85M276.6 249.1h0.85M281.6 233.8h0.85M269.5 251.3h0.85M279.4 235.1h0.85M288.1 240.4h0.85M280.3 230.8h0.85M276.4 238.9h0.85M269.7 253.5h0.85M283.9 250.3h0.85M287.4 252.5h0.85M285.8 259.8h0.85M283.0 248.3h0.85M270.8 240.9h0.85M295.1 245.4h0.85M280.5 268.5h0.85M279.8 249.2h0.85M286.9 252.6h0.85M263.7 247.6h0.85M280.5 251.7h0.85M279.9 253.9h0.85M284.0 248.7h0.85M291.8 246.9h0.85M284.8 239.4h0.85M266.3 238.6h0.85M278.3 253.7h0.85M282.6 257.7h0.85M282.2 259.8h0.85M270.7 249.4h0.85M267.7 238.9h0.85M285.4 256.3h0.85M283.7 256.2h0.85M280.8 230.8h0.85M267.2 258.4h0.85M295.2 255.8h0.85M257.8 268.7h0.85M278.1 235.3h0.85M279.7 258.2h0.85M242.3 211.2h0.85M236.2 212.7h0.85M237.5 205.5h0.85M250.7 206.4h0.85M271.3 200.2h0.85M262.2 212.7h0.85M262.3 207.9h0.85M248.7 212.2h0.85M279.3 225.7h0.85M263.7 211.6h0.85M272.6 213.8h0.85M260.7 200.9h0.85M235.4 215.9h0.85M260.7 222.8h0.85M258.2 225.7h0.85M235.8 232.0h0.85M257.9 207.2h0.85M274.5 218.0h0.85M263.4 212.0h0.85M264.9 209.0h0.85M240.3 206.7h0.85M243.4 200.4h0.85M236.1 215.7h0.85M257.2 219.3h0.85M275.1 203.8h0.85M262.3 219.4h0.85M254.9 208.2h0.85M236.0 204.2h0.85M262.5 190.5h0.85M251.0 222.3h0.85M249.3 209.6h0.85M239.9 201.8h0.85M283.0 217.3h0.85M255.6 212.4h0.85M237.4 217.5h0.85M246.8 214.5h0.85M282.0 200.9h0.85M239.0 199.6h0.85M268.1 216.5h0.85M262.5 198.5h0.85M279.9 215.3h0.85M264.0 220.8h0.85M248.2 202.1h0.85M264.0 218.8h0.85M256.2 213.5h0.85M271.6 217.7h0.85M254.0 207.8h0.85M288.6 213.1h0.85M253.4 216.9h0.85M262.6 228.9h0.85M244.0 219.6h0.85M257.3 217.6h0.85M255.6 202.3h0.85M258.0 216.2h0.85M270.4 207.6h0.85M246.1 212.8h0.85M240.9 215.8h0.85M274.0 221.8h0.85M250.4 218.6h0.85M243.9 215.1h0.85M274.7 213.0h0.85M268.4 225.2h0.85M248.8 213.9h0.85M268.5 225.4h0.85M269.4 211.9h0.85M246.6 220.7h0.85M281.7 221.3h0.85M241.9 230.6h0.85M251.4 223.3h0.85M257.5 199.5h0.85M255.2 213.6h0.85M269.0 216.1h0.85M272.6 220.7h0.85M254.6 216.9h0.85M279.0 229.7h0.85M243.8 223.0h0.85M251.8 203.4h0.85M284.5 208.0h0.85M257.1 195.8h0.85M273.5 228.2h0.85M248.2 212.3h0.85M251.0 212.1h0.85M253.7 199.7h0.85M258.4 209.4h0.85M249.8 216.8h0.85M255.8 209.5h0.85M266.8 209.6h0.85M275.9 207.6h0.85M257.4 229.9h0.85M266.5 208.1h0.85M271.0 200.3h0.85M237.3 208.3h0.85M282.9 211.8h0.85M277.9 210.4h0.85M256.5 202.9h0.85M261.5 210.7h0.85M239.6 215.8h0.85M232.2 200.3h0.85M260.9 229.4h0.85M230.4 227.0h0.85M271.0 196.7h0.85M244.1 209.2h0.85M260.5 221.1h0.85M288.3 223.9h0.85M287.5 227.8h0.85M250.9 196.4h0.85M273.6 202.8h0.85M238.1 207.9h0.85M245.6 217.1h0.85M261.8 203.1h0.85M279.0 216.1h0.85M245.8 216.3h0.85M264.7 218.7h0.85M257.2 201.4h0.85M234.1 214.2h0.85M253.2 213.2h0.85M280.9 209.0h0.85M253.9 223.9h0.85M264.0 210.1h0.85M269.5 225.2h0.85M243.0 207.6h0.85M276.3 227.5h0.85M280.9 227.0h0.85M282.5 205.7h0.85M277.7 215.8h0.85M247.6 215.6h0.85M245.5 204.5h0.85M242.1 219.7h0.85M240.1 218.1h0.85M241.9 205.5h0.85M272.2 213.9h0.85M280.2 220.8h0.85M244.5 211.7h0.85M269.1 207.0h0.85M233.9 227.3h0.85M249.8 204.7h0.85M238.5 216.2h0.85M256.2 220.1h0.85M256.6 197.5h0.85M248.4 210.5h0.85M246.4 212.2h0.85M238.6 211.6h0.85M253.0 218.9h0.85M245.1 218.2h0.85M259.3 214.7h0.85M234.8 215.9h0.85M259.1 222.3h0.85M263.9 224.4h0.85M276.3 197.3h0.85M273.0 232.5h0.85M258.4 208.9h0.85M243.6 220.5h0.85M255.0 209.3h0.85M279.2 202.9h0.85M283.3 223.2h0.85M242.3 213.9h0.85M249.2 212.4h0.85M237.5 217.2h0.85M258.3 205.7h0.85M255.8 208.6h0.85M246.3 207.3h0.85M254.5 220.9h0.85M238.6 202.9h0.85M239.9 216.8h0.85M270.3 218.4h0.85M251.5 209.1h0.85M268.3 217.4h0.85M254.2 231.8h0.85M268.9 211.1h0.85M244.0 210.7h0.85M262.5 218.3h0.85M270.5 209.5h0.85M293.0 213.9h0.85M267.5 209.5h0.85M279.4 207.1h0.85M255.3 221.4h0.85M256.8 210.6h0.85M281.8 205.2h0.85M265.1 211.4h0.85M279.3 212.6h0.85M267.3 216.4h0.85M291.3 221.9h0.85M241.0 203.2h0.85M286.8 211.7h0.85M262.7 198.1h0.85M263.4 215.6h0.85M253.3 218.2h0.85M267.5 208.1h0.85M236.4 205.8h0.85M243.0 205.1h0.85M242.4 200.7h0.85M260.3 219.1h0.85M271.1 230.0h0.85M267.9 203.8h0.85M261.7 227.6h0.85M245.4 212.6h0.85M262.3 218.4h0.85M258.0 220.0h0.85M261.6 216.9h0.85M279.8 211.2h0.85M252.4 227.8h0.85M252.1 211.0h0.85M265.0 219.0h0.85M254.7 205.7h0.85M242.9 197.4h0.85M262.1 198.4h0.85M237.8 209.9h0.85M246.3 216.4h0.85M288.9 198.0h0.85M268.3 207.1h0.85M271.2 226.5h0.85M268.2 197.8h0.85M266.4 217.2h0.85M258.8 216.3h0.85M254.2 200.6h0.85M268.0 216.1h0.85M251.7 201.2h0.85M249.5 224.7h0.85M281.7 206.3h0.85M280.7 214.4h0.85M248.0 199.9h0.85M254.8 215.6h0.85M265.8 218.4h0.85M238.4 213.1h0.85M285.4 227.1h0.85M237.6 216.3h0.85M243.1 219.9h0.85M281.0 229.3h0.85M256.3 207.5h0.85M282.9 210.8h0.85M238.2 211.3h0.85M261.0 218.5h0.85M256.5 215.4h0.85M258.6 220.4h0.85M290.5 215.8h0.85M293.8 208.8h0.85M278.7 212.7h0.85M248.4 217.0h0.85M270.4 193.5h0.85M278.1 225.3h0.85M264.7 208.4h0.85M264.9 210.2h0.85M263.4 215.6h0.85M239.9 211.2h0.85M259.4 200.8h0.85M282.5 211.4h0.85M238.3 225.4h0.85M256.6 222.5h0.85M269.4 224.1h0.85M232.0 208.7h0.85M252.8 211.6h0.85M244.9 226.4h0.85M231.2 213.8h0.85M239.9 205.2h0.85M246.8 196.9h0.85M250.4 225.9h0.85M251.6 200.5h0.85M282.1 221.4h0.85M250.4 242.0h0.85M236.4 215.4h0.85M244.3 212.8h0.85M260.3 217.8h0.85M238.0 218.3h0.85M248.0 225.5h0.85M247.0 219.9h0.85M264.2 207.2h0.85M242.3 195.5h0.85M262.7 216.5h0.85M260.9 208.0h0.85M252.5 226.2h0.85M276.1 202.5h0.85M255.3 215.7h0.85M235.0 207.6h0.85M260.1 206.3h0.85M257.1 228.5h0.85M254.3 215.5h0.85M258.9 212.4h0.85M259.0 207.1h0.85M262.8 210.8h0.85M250.8 208.4h0.85M277.3 231.4h0.85M254.0 216.9h0.85M241.4 219.5h0.85M234.2 223.8h0.85M264.0 212.4h0.85M267.7 212.6h0.85M242.7 218.2h0.85M265.9 216.3h0.85M272.5 210.4h0.85M232.5 224.6h0.85M248.1 198.3h0.85M269.1 217.7h0.85M245.9 201.9h0.85M247.3 203.9h0.85M245.8 212.1h0.85M232.8 225.7h0.85M255.8 203.5h0.85M260.1 205.2h0.85M231.1 203.3h0.85M256.7 231.7h0.85M273.8 218.6h0.85M258.5 217.5h0.85M271.1 232.1h0.85M245.6 216.2h0.85M278.2 195.4h0.85M241.6 209.5h0.85M287.0 203.4h0.85M247.3 231.8h0.85M242.7 201.5h0.85M239.8 216.6h0.85M247.9 209.4h0.85M246.6 210.1h0.85M243.2 214.1h0.85M249.4 212.8h0.85M266.3 207.9h0.85M270.0 203.0h0.85M249.2 208.2h0.85M275.9 204.7h0.85M238.0 205.9h0.85M237.5 215.0h0.85M235.7 212.6h0.85M265.2 218.1h0.85M231.2 230.9h0.85M276.7 207.5h0.85M284.1 205.1h0.85M277.8 223.0h0.85M229.6 207.7h0.85M255.1 215.0h0.85M269.0 222.5h0.85M256.5 213.0h0.85M249.1 222.4h0.85M233.9 209.2h0.85M291.5 203.3h0.85M266.4 210.5h0.85M229.9 199.2h0.85M229.4 206.2h0.85M262.6 204.2h0.85M244.5 216.5h0.85M264.7 220.6h0.85M243.8 208.1h0.85M251.4 210.0h0.85M258.9 204.1h0.85M237.3 201.6h0.85M234.5 218.8h0.85M242.9 218.0h0.85M251.3 219.0h0.85M253.8 211.4h0.85M253.7 189.7h0.85M263.5 222.0h0.85M239.6 225.5h0.85M278.5 221.9h0.85M288.8 221.8h0.85M261.0 223.5h0.85M258.0 237.5h0.85M276.0 216.7h0.85M265.8 227.6h0.85M257.9 221.1h0.85M251.9 219.9h0.85M242.2 212.8h0.85M234.9 210.9h0.85M266.0 204.0h0.85M274.9 219.1h0.85M236.8 211.2h0.85M253.5 203.4h0.85M258.4 207.3h0.85M247.5 203.5h0.85M241.8 228.1h0.85M248.1 211.8h0.85M253.7 203.3h0.85M249.7 204.8h0.85M290.7 223.2h0.85M270.6 211.9h0.85M248.8 215.9h0.85M254.6 230.2h0.85M283.9 232.4h0.85M282.0 220.1h0.85M257.8 218.3h0.85M252.5 216.1h0.85M230.1 211.5h0.85M249.1 231.9h0.85M251.8 203.3h0.85M242.2 213.2h0.85M284.1 197.0h0.85M252.4 217.6h0.85M261.6 218.0h0.85M262.1 217.0h0.85M283.4 211.1h0.85M230.9 207.7h0.85M242.0 209.2h0.85M256.3 210.6h0.85M256.9 223.7h0.85M248.1 226.9h0.85M241.7 217.9h0.85M272.9 209.2h0.85M236.8 205.7h0.85M244.9 216.7h0.85M279.1 212.0h0.85M284.2 197.9h0.85M269.5 226.1h0.85M240.1 213.9h0.85M240.2 211.2h0.85M239.4 206.3h0.85M235.4 206.3h0.85M247.6 221.9h0.85M276.3 205.7h0.85M258.5 214.8h0.85M241.8 219.6h0.85M241.5 230.3h0.85M234.7 219.3h0.85M275.2 213.7h0.85M259.3 221.6h0.85M230.1 222.9h0.85M236.6 210.2h0.85M229.3 219.2h0.85M270.9 212.8h0.85M253.2 199.7h0.85M236.9 221.1h0.85M235.9 226.7h0.85M264.5 220.0h0.85M264.0 212.2h0.85M249.7 207.7h0.85M279.0 216.9h0.85M264.1 199.7h0.85M261.2 219.8h0.85M244.3 207.8h0.85M265.3 219.9h0.85M244.8 218.7h0.85M255.0 220.4h0.85M251.1 223.5h0.85M275.7 220.2h0.85M246.3 204.7h0.85M248.4 205.0h0.85M273.0 223.2h0.85M258.1 218.2h0.85M253.9 200.1h0.85M250.1 196.3h0.85M270.3 221.9h0.85M243.1 233.7h0.85M262.1 221.3h0.85M288.6 211.9h0.85M260.9 216.4h0.85M240.7 190.0h0.85M233.6 205.2h0.85M256.6 223.0h0.85M233.2 221.6h0.85M241.1 224.5h0.85M235.4 218.8h0.85M268.9 222.3h0.85M229.3 212.2h0.85M280.9 214.1h0.85M241.1 204.5h0.85M255.9 216.9h0.85M265.3 221.9h0.85M257.7 205.7h0.85M266.1 217.3h0.85M237.1 209.3h0.85M250.4 222.7h0.85M243.9 218.0h0.85M269.8 223.0h0.85M250.4 209.1h0.85M243.6 212.1h0.85M234.5 212.7h0.85M248.7 203.9h0.85M250.7 213.0h0.85M258.7 218.2h0.85M235.4 227.5h0.85M257.4 222.8h0.85M245.9 224.6h0.85M270.5 215.1h0.85M268.2 220.9h0.85M253.8 231.9h0.85M251.8 227.0h0.85M261.1 216.9h0.85M277.2 207.9h0.85M271.8 205.9h0.85M256.5 216.2h0.85M259.2 217.9h0.85M280.8 197.8h0.85M263.2 217.1h0.85M238.7 216.7h0.85M277.2 209.2h0.85M245.8 234.4h0.85M252.3 221.7h0.85M235.8 201.9h0.85M254.6 207.7h0.85M267.9 221.1h0.85M282.9 218.5h0.85M233.0 215.1h0.85M247.0 213.7h0.85M270.7 210.0h0.85M254.6 204.9h0.85M263.6 219.0h0.85M282.3 207.4h0.85M257.5 224.8h0.85M230.4 206.9h0.85M274.8 203.3h0.85M244.2 230.5h0.85M237.4 222.9h0.85M263.8 212.4h0.85M261.8 208.6h0.85M247.1 211.7h0.85M253.7 210.6h0.85M232.1 211.5h0.85M230.4 207.2h0.85M270.3 218.4h0.85M277.4 208.7h0.85M262.3 197.7h0.85M261.4 202.2h0.85M248.3 213.6h0.85M252.8 204.6h0.85M239.1 191.8h0.85M284.9 226.8h0.85M245.3 217.9h0.85M262.0 209.3h0.85M255.0 208.9h0.85M231.2 218.0h0.85M288.0 225.5h0.85M248.6 208.0h0.85M241.9 217.1h0.85M256.9 207.9h0.85M250.3 270.5h0.85M254.0 245.4h0.85M261.4 269.6h0.85M240.0 248.7h0.85M239.5 250.4h0.85M241.2 265.3h0.85M241.0 251.5h0.85M266.9 248.4h0.85M241.4 270.6h0.85M256.8 256.4h0.85M258.9 275.8h0.85M258.4 249.0h0.85M273.8 252.3h0.85M257.1 234.8h0.85M261.7 239.8h0.85M269.4 266.3h0.85M236.1 261.9h0.85M263.8 261.5h0.85M280.7 264.3h0.85M259.7 244.9h0.85M254.3 232.4h0.85M286.5 273.5h0.85M259.6 261.1h0.85M276.5 274.3h0.85M259.6 268.7h0.85M250.5 249.7h0.85M263.8 257.4h0.85M275.8 255.1h0.85M255.8 263.0h0.85M254.6 278.3h0.85M269.8 214.6h0.85M278.0 256.0h0.85M260.3 257.6h0.85M250.9 269.5h0.85M263.5 259.6h0.85M273.5 247.1h0.85M267.7 245.9h0.85M289.2 252.5h0.85M249.6 247.0h0.85M237.6 278.7h0.85M265.4 266.5h0.85M277.1 258.4h0.85M251.2 272.0h0.85M248.4 254.5h0.85M239.2 257.2h0.85M247.0 253.2h0.85M262.1 248.3h0.85M264.9 243.8h0.85M271.3 264.8h0.85M245.6 264.3h0.85M248.4 270.6h0.85M232.7 246.2h0.85M236.1 272.4h0.85M271.3 243.2h0.85M242.1 276.8h0.85M252.0 276.0h0.85M271.9 273.9h0.85M266.6 273.3h0.85M253.4 254.1h0.85M253.4 254.6h0.85M271.5 246.4h0.85M254.1 261.3h0.85M238.9 246.7h0.85M270.3 248.7h0.85M258.3 243.3h0.85M249.6 232.8h0.85M266.6 271.1h0.85M247.1 227.1h0.85M259.7 264.5h0.85M273.0 249.6h0.85M256.3 226.2h0.85M274.3 254.8h0.85M237.2 261.1h0.85M267.1 266.5h0.85M265.9 274.3h0.85M286.0 245.4h0.85M258.3 257.2h0.85M271.4 267.8h0.85M255.6 266.0h0.85M242.0 263.7h0.85M244.8 259.5h0.85M247.3 276.3h0.85M269.6 239.3h0.85M246.3 235.8h0.85M258.6 283.8h0.85M271.5 264.3h0.85M276.6 274.6h0.85M272.0 261.5h0.85M280.4 252.7h0.85M241.0 251.4h0.85M250.7 260.3h0.85M262.8 251.2h0.85M274.7 257.2h0.85M265.5 257.1h0.85M246.5 270.5h0.85M255.1 270.1h0.85M233.2 282.1h0.85M270.1 247.9h0.85M231.2 257.9h0.85M261.2 272.8h0.85M274.2 263.8h0.85M271.6 222.4h0.85M233.8 264.0h0.85M261.2 258.5h0.85M252.8 251.7h0.85M253.5 252.6h0.85M282.6 248.1h0.85M262.3 276.1h0.85M236.5 269.0h0.85M241.8 262.1h0.85M268.6 275.5h0.85M261.4 272.8h0.85M241.0 246.8h0.85M232.8 243.5h0.85M249.6 244.2h0.85M251.3 270.3h0.85M270.2 258.9h0.85M248.7 277.2h0.85M267.9 267.0h0.85M276.0 256.4h0.85M233.8 240.8h0.85M249.0 255.5h0.85M251.1 249.3h0.85M257.5 247.3h0.85M272.2 256.3h0.85M246.3 279.6h0.85M251.5 258.9h0.85M232.8 243.2h0.85M265.9 250.5h0.85M250.3 257.5h0.85M252.0 260.7h0.85M267.9 279.6h0.85M245.5 269.0h0.85M275.8 259.2h0.85M256.3 268.1h0.85M232.0 278.4h0.85M238.9 269.4h0.85M245.8 256.3h0.85M269.2 257.2h0.85M269.6 256.1h0.85M262.9 260.6h0.85M253.3 258.3h0.85M289.2 274.4h0.85M246.2 259.5h0.85M261.7 258.0h0.85M283.3 274.7h0.85M238.4 269.5h0.85M244.8 275.9h0.85M273.5 248.1h0.85M263.8 278.6h0.85M237.2 259.1h0.85M257.4 243.8h0.85M285.9 256.9h0.85M253.0 241.0h0.85M269.0 244.5h0.85M258.8 253.0h0.85M246.5 273.0h0.85M281.1 239.3h0.85M271.5 263.1h0.85M274.9 255.0h0.85M254.6 281.7h0.85M258.4 261.7h0.85M260.2 267.6h0.85M263.5 279.4h0.85M251.6 242.8h0.85M249.2 253.8h0.85M276.5 236.9h0.85M240.2 246.4h0.85M250.1 263.4h0.85M251.0 256.2h0.85M249.0 264.5h0.85M238.5 252.7h0.85M245.1 248.4h0.85M268.8 256.4h0.85M251.3 245.6h0.85M245.5 242.1h0.85M281.8 235.1h0.85M236.6 256.3h0.85M272.3 264.4h0.85M262.0 240.1h0.85M236.3 251.1h0.85M250.6 224.3h0.85M250.8 240.2h0.85M276.1 258.5h0.85M270.5 238.5h0.85M252.5 263.7h0.85M238.9 251.4h0.85M231.1 262.6h0.85M254.1 249.2h0.85M235.5 236.5h0.85M254.0 256.9h0.85M253.5 267.6h0.85M262.3 249.5h0.85M271.7 262.7h0.85M258.3 246.8h0.85M263.7 252.1h0.85M254.0 275.2h0.85M272.3 256.8h0.85M268.9 243.4h0.85M280.6 265.1h0.85M277.4 257.8h0.85M245.6 249.4h0.85M234.6 267.1h0.85M266.3 214.9h0.85M273.9 265.4h0.85M279.2 261.5h0.85M258.1 229.7h0.85M255.3 276.9h0.85M235.4 265.6h0.85M231.8 241.8h0.85M251.3 247.5h0.85M238.8 255.4h0.85M256.2 260.1h0.85M256.3 274.4h0.85M244.2 224.7h0.85M264.2 253.0h0.85M235.8 249.0h0.85M272.9 253.0h0.85M272.3 261.3h0.85M249.7 230.7h0.85M248.5 273.2h0.85M276.9 255.5h0.85M274.1 269.4h0.85M255.9 267.4h0.85M269.1 265.2h0.85M257.6 277.8h0.85M251.3 281.7h0.85M265.3 251.6h0.85M249.5 256.5h0.85M264.8 272.6h0.85M252.2 259.8h0.85M249.1 248.9h0.85M247.4 259.0h0.85M262.8 245.1h0.85M270.0 250.3h0.85M262.3 207.6h0.85M242.9 259.6h0.85M242.4 268.3h0.85M239.0 267.8h0.85M252.9 260.4h0.85M268.1 246.7h0.85M266.3 265.0h0.85M264.4 258.6h0.85M276.7 255.9h0.85M269.0 261.4h0.85M250.7 249.5h0.85M267.9 259.8h0.85M252.1 267.3h0.85M262.1 272.4h0.85M265.1 259.9h0.85M255.2 269.8h0.85M234.1 260.5h0.85M254.2 224.8h0.85M251.8 229.6h0.85M254.9 254.9h0.85M250.2 241.6h0.85M239.7 266.2h0.85M232.6 238.7h0.85M266.6 251.8h0.85M268.5 249.9h0.85M262.3 247.0h0.85M256.1 249.3h0.85M286.0 257.5h0.85M266.7 259.2h0.85M257.1 250.2h0.85M269.3 260.4h0.85M255.8 265.7h0.85M267.4 255.0h0.85M261.1 247.9h0.85M265.0 248.0h0.85M258.0 250.9h0.85M250.3 250.1h0.85M264.7 259.1h0.85M243.5 274.4h0.85M249.3 258.5h0.85M240.9 266.7h0.85M270.2 266.7h0.85M253.9 276.6h0.85" stroke="#000" stroke-opacity="0.33" stroke-width="0.85" fill="none"/>
<rect x="204.2" y="175.7" width="110.2" height="109.9" fill="none" stroke="#141414" stroke-width="1.2"/>
<line x1="257" y1="175.7" x2="257" y2="285.6" stroke="#000" stroke-width="1.2"/>
<line x1="204.2" y1="228.5" x2="314.4" y2="228.5" stroke="#000" stroke-width="1.2"/>
<line x1="201.6" y1="186" x2="204.2" y2="186" stroke="#141414" stroke-width="0.8"/>
<text transform="translate(199.6 187.7)" font-size="5.2" text-anchor="end" stroke="#151515" stroke-width="0.12">10<tspan font-size="3.8" dy="-2.3">5</tspan></text>
<line x1="201.6" y1="210" x2="204.2" y2="210" stroke="#141414" stroke-width="0.8"/>
<text transform="translate(199.6 211.7)" font-size="5.2" text-anchor="end" stroke="#151515" stroke-width="0.12">10<tspan font-size="3.8" dy="-2.3">4</tspan></text>
<line x1="201.6" y1="235.2" x2="204.2" y2="235.2" stroke="#141414" stroke-width="0.8"/>
<text transform="translate(199.6 236.9)" font-size="5.2" text-anchor="end" stroke="#151515" stroke-width="0.12">10<tspan font-size="3.8" dy="-2.3">3</tspan></text>
<line x1="201.6" y1="261.5" x2="204.2" y2="261.5" stroke="#141414" stroke-width="0.8"/>
<text transform="translate(199.6 263.2)" font-size="5.2" text-anchor="end" stroke="#151515" stroke-width="0.12">10<tspan font-size="3.8" dy="-2.3">2</tspan></text>
<line x1="201.6" y1="273.6" x2="204.2" y2="273.6" stroke="#141414" stroke-width="0.8"/>
<text transform="translate(199.6 275.3)" font-size="5.2" text-anchor="end" stroke="#151515" stroke-width="0.12">0</text>
<line x1="202.9" y1="177.5" x2="204.2" y2="177.5" stroke="#141414" stroke-width="0.6"/>
<line x1="202.9" y1="180.05" x2="204.2" y2="180.05" stroke="#141414" stroke-width="0.6"/>
<line x1="202.9" y1="182.6" x2="204.2" y2="182.6" stroke="#141414" stroke-width="0.6"/>
<line x1="202.9" y1="185.15" x2="204.2" y2="185.15" stroke="#141414" stroke-width="0.6"/>
<line x1="202.9" y1="187.7" x2="204.2" y2="187.7" stroke="#141414" stroke-width="0.6"/>
<line x1="202.9" y1="190.25" x2="204.2" y2="190.25" stroke="#141414" stroke-width="0.6"/>
<line x1="202.9" y1="192.8" x2="204.2" y2="192.8" stroke="#141414" stroke-width="0.6"/>
<line x1="202.9" y1="195.35" x2="204.2" y2="195.35" stroke="#141414" stroke-width="0.6"/>
<line x1="202.9" y1="197.9" x2="204.2" y2="197.9" stroke="#141414" stroke-width="0.6"/>
<line x1="202.9" y1="200.45" x2="204.2" y2="200.45" stroke="#141414" stroke-width="0.6"/>
<line x1="202.9" y1="203" x2="204.2" y2="203" stroke="#141414" stroke-width="0.6"/>
<line x1="202.9" y1="205.55" x2="204.2" y2="205.55" stroke="#141414" stroke-width="0.6"/>
<line x1="202.9" y1="208.1" x2="204.2" y2="208.1" stroke="#141414" stroke-width="0.6"/>
<line x1="202.9" y1="210.65" x2="204.2" y2="210.65" stroke="#141414" stroke-width="0.6"/>
<line x1="202.9" y1="213.2" x2="204.2" y2="213.2" stroke="#141414" stroke-width="0.6"/>
<line x1="202.9" y1="215.75" x2="204.2" y2="215.75" stroke="#141414" stroke-width="0.6"/>
<line x1="202.9" y1="218.3" x2="204.2" y2="218.3" stroke="#141414" stroke-width="0.6"/>
<line x1="202.9" y1="220.85" x2="204.2" y2="220.85" stroke="#141414" stroke-width="0.6"/>
<line x1="202.9" y1="223.4" x2="204.2" y2="223.4" stroke="#141414" stroke-width="0.6"/>
<line x1="202.9" y1="225.95" x2="204.2" y2="225.95" stroke="#141414" stroke-width="0.6"/>
<line x1="202.9" y1="228.5" x2="204.2" y2="228.5" stroke="#141414" stroke-width="0.6"/>
<line x1="202.9" y1="231.05" x2="204.2" y2="231.05" stroke="#141414" stroke-width="0.6"/>
<line x1="202.9" y1="233.6" x2="204.2" y2="233.6" stroke="#141414" stroke-width="0.6"/>
<line x1="202.9" y1="236.15" x2="204.2" y2="236.15" stroke="#141414" stroke-width="0.6"/>
<line x1="202.9" y1="238.7" x2="204.2" y2="238.7" stroke="#141414" stroke-width="0.6"/>
<line x1="202.9" y1="241.25" x2="204.2" y2="241.25" stroke="#141414" stroke-width="0.6"/>
<line x1="202.9" y1="243.8" x2="204.2" y2="243.8" stroke="#141414" stroke-width="0.6"/>
<line x1="202.9" y1="246.35" x2="204.2" y2="246.35" stroke="#141414" stroke-width="0.6"/>
<line x1="202.9" y1="248.9" x2="204.2" y2="248.9" stroke="#141414" stroke-width="0.6"/>
<line x1="202.9" y1="251.45" x2="204.2" y2="251.45" stroke="#141414" stroke-width="0.6"/>
<line x1="202.9" y1="254" x2="204.2" y2="254" stroke="#141414" stroke-width="0.6"/>
<line x1="202.9" y1="256.55" x2="204.2" y2="256.55" stroke="#141414" stroke-width="0.6"/>
<line x1="202.9" y1="259.1" x2="204.2" y2="259.1" stroke="#141414" stroke-width="0.6"/>
<line x1="202.9" y1="261.65" x2="204.2" y2="261.65" stroke="#141414" stroke-width="0.6"/>
<line x1="202.9" y1="264.2" x2="204.2" y2="264.2" stroke="#141414" stroke-width="0.6"/>
<line x1="202.9" y1="266.75" x2="204.2" y2="266.75" stroke="#141414" stroke-width="0.6"/>
<line x1="202.9" y1="269.3" x2="204.2" y2="269.3" stroke="#141414" stroke-width="0.6"/>
<line x1="202.9" y1="271.85" x2="204.2" y2="271.85" stroke="#141414" stroke-width="0.6"/>
<line x1="202.9" y1="274.4" x2="204.2" y2="274.4" stroke="#141414" stroke-width="0.6"/>
<line x1="202.9" y1="276.95" x2="204.2" y2="276.95" stroke="#141414" stroke-width="0.6"/>
<line x1="202.9" y1="279.5" x2="204.2" y2="279.5" stroke="#141414" stroke-width="0.6"/>
<line x1="202.9" y1="282.05" x2="204.2" y2="282.05" stroke="#141414" stroke-width="0.6"/>
<line x1="215.8" y1="285.6" x2="215.8" y2="288.2" stroke="#141414" stroke-width="0.8"/>
<text transform="translate(216.6 295.2)" font-size="5.2" text-anchor="middle" stroke="#151515" stroke-width="0.12">0</text>
<line x1="226.4" y1="285.6" x2="226.4" y2="288.2" stroke="#141414" stroke-width="0.8"/>
<text transform="translate(227.2 295.2)" font-size="5.2" text-anchor="middle" stroke="#151515" stroke-width="0.12">10<tspan font-size="3.8" dy="-2.3">2</tspan></text>
<line x1="252.7" y1="285.6" x2="252.7" y2="288.2" stroke="#141414" stroke-width="0.8"/>
<text transform="translate(253.5 295.2)" font-size="5.2" text-anchor="middle" stroke="#151515" stroke-width="0.12">10<tspan font-size="3.8" dy="-2.3">3</tspan></text>
<line x1="279" y1="285.6" x2="279" y2="288.2" stroke="#141414" stroke-width="0.8"/>
<text transform="translate(279.8 295.2)" font-size="5.2" text-anchor="middle" stroke="#151515" stroke-width="0.12">10<tspan font-size="3.8" dy="-2.3">4</tspan></text>
<line x1="302.9" y1="285.6" x2="302.9" y2="288.2" stroke="#141414" stroke-width="0.8"/>
<text transform="translate(303.7 295.2)" font-size="5.2" text-anchor="middle" stroke="#151515" stroke-width="0.12">10<tspan font-size="3.8" dy="-2.3">5</tspan></text>
<line x1="206" y1="285.6" x2="206" y2="286.9" stroke="#141414" stroke-width="0.6"/>
<line x1="208.55" y1="285.6" x2="208.55" y2="286.9" stroke="#141414" stroke-width="0.6"/>
<line x1="211.1" y1="285.6" x2="211.1" y2="286.9" stroke="#141414" stroke-width="0.6"/>
<line x1="213.65" y1="285.6" x2="213.65" y2="286.9" stroke="#141414" stroke-width="0.6"/>
<line x1="216.2" y1="285.6" x2="216.2" y2="286.9" stroke="#141414" stroke-width="0.6"/>
<line x1="218.75" y1="285.6" x2="218.75" y2="286.9" stroke="#141414" stroke-width="0.6"/>
<line x1="221.3" y1="285.6" x2="221.3" y2="286.9" stroke="#141414" stroke-width="0.6"/>
<line x1="223.85" y1="285.6" x2="223.85" y2="286.9" stroke="#141414" stroke-width="0.6"/>
<line x1="226.4" y1="285.6" x2="226.4" y2="286.9" stroke="#141414" stroke-width="0.6"/>
<line x1="228.95" y1="285.6" x2="228.95" y2="286.9" stroke="#141414" stroke-width="0.6"/>
<line x1="231.5" y1="285.6" x2="231.5" y2="286.9" stroke="#141414" stroke-width="0.6"/>
<line x1="234.05" y1="285.6" x2="234.05" y2="286.9" stroke="#141414" stroke-width="0.6"/>
<line x1="236.6" y1="285.6" x2="236.6" y2="286.9" stroke="#141414" stroke-width="0.6"/>
<line x1="239.15" y1="285.6" x2="239.15" y2="286.9" stroke="#141414" stroke-width="0.6"/>
<line x1="241.7" y1="285.6" x2="241.7" y2="286.9" stroke="#141414" stroke-width="0.6"/>
<line x1="244.25" y1="285.6" x2="244.25" y2="286.9" stroke="#141414" stroke-width="0.6"/>
<line x1="246.8" y1="285.6" x2="246.8" y2="286.9" stroke="#141414" stroke-width="0.6"/>
<line x1="249.35" y1="285.6" x2="249.35" y2="286.9" stroke="#141414" stroke-width="0.6"/>
<line x1="251.9" y1="285.6" x2="251.9" y2="286.9" stroke="#141414" stroke-width="0.6"/>
<line x1="254.45" y1="285.6" x2="254.45" y2="286.9" stroke="#141414" stroke-width="0.6"/>
<line x1="257" y1="285.6" x2="257" y2="286.9" stroke="#141414" stroke-width="0.6"/>
<line x1="259.55" y1="285.6" x2="259.55" y2="286.9" stroke="#141414" stroke-width="0.6"/>
<line x1="262.1" y1="285.6" x2="262.1" y2="286.9" stroke="#141414" stroke-width="0.6"/>
<line x1="264.65" y1="285.6" x2="264.65" y2="286.9" stroke="#141414" stroke-width="0.6"/>
<line x1="267.2" y1="285.6" x2="267.2" y2="286.9" stroke="#141414" stroke-width="0.6"/>
<line x1="269.75" y1="285.6" x2="269.75" y2="286.9" stroke="#141414" stroke-width="0.6"/>
<line x1="272.3" y1="285.6" x2="272.3" y2="286.9" stroke="#141414" stroke-width="0.6"/>
<line x1="274.85" y1="285.6" x2="274.85" y2="286.9" stroke="#141414" stroke-width="0.6"/>
<line x1="277.4" y1="285.6" x2="277.4" y2="286.9" stroke="#141414" stroke-width="0.6"/>
<line x1="279.95" y1="285.6" x2="279.95" y2="286.9" stroke="#141414" stroke-width="0.6"/>
<line x1="282.5" y1="285.6" x2="282.5" y2="286.9" stroke="#141414" stroke-width="0.6"/>
<line x1="285.05" y1="285.6" x2="285.05" y2="286.9" stroke="#141414" stroke-width="0.6"/>
<line x1="287.6" y1="285.6" x2="287.6" y2="286.9" stroke="#141414" stroke-width="0.6"/>
<line x1="290.15" y1="285.6" x2="290.15" y2="286.9" stroke="#141414" stroke-width="0.6"/>
<line x1="292.7" y1="285.6" x2="292.7" y2="286.9" stroke="#141414" stroke-width="0.6"/>
<line x1="295.25" y1="285.6" x2="295.25" y2="286.9" stroke="#141414" stroke-width="0.6"/>
<line x1="297.8" y1="285.6" x2="297.8" y2="286.9" stroke="#141414" stroke-width="0.6"/>
<line x1="300.35" y1="285.6" x2="300.35" y2="286.9" stroke="#141414" stroke-width="0.6"/>
<line x1="302.9" y1="285.6" x2="302.9" y2="286.9" stroke="#141414" stroke-width="0.6"/>
<line x1="305.45" y1="285.6" x2="305.45" y2="286.9" stroke="#141414" stroke-width="0.6"/>
<line x1="308" y1="285.6" x2="308" y2="286.9" stroke="#141414" stroke-width="0.6"/>
<line x1="310.55" y1="285.6" x2="310.55" y2="286.9" stroke="#141414" stroke-width="0.6"/>
<line x1="313.1" y1="285.6" x2="313.1" y2="286.9" stroke="#141414" stroke-width="0.6"/>
<text transform="translate(259.1 170.9) scale(0.950 1)" font-size="8.2" text-anchor="middle" stroke="#151515" stroke-width="0.35">LSK gated</text>
<text transform="translate(188.8 230.3) rotate(-90) scale(0.913 1)" font-size="10.2" text-anchor="middle" stroke="#151515" stroke-width="0.35">CD150</text>
<text transform="translate(259.2 306.8) scale(0.909 1)" font-size="10.2" text-anchor="middle" stroke="#151515" stroke-width="0.35">CD41/CD48</text>
<path d="M279.8 416.4h0.85M283.6 402.5h0.85M290.3 392.7h0.85M271.9 405.4h0.85M285.0 417.1h0.85M280.0 381.1h0.85M286.2 411.5h0.85M272.1 402.2h0.85M286.9 394.9h0.85M286.9 402.7h0.85M287.5 403.3h0.85M289.1 413.8h0.85M273.1 393.1h0.85M269.7 414.9h0.85M293.8 396.9h0.85M282.4 380.8h0.85M278.0 403.8h0.85M279.7 399.2h0.85M279.6 413.1h0.85M288.0 412.9h0.85M284.1 427.4h0.85M296.9 402.7h0.85M270.4 413.8h0.85M285.0 399.2h0.85M277.9 399.8h0.85M291.2 422.9h0.85M268.1 402.7h0.85M282.3 403.1h0.85M286.7 400.1h0.85M273.1 408.4h0.85M292.9 411.7h0.85M286.4 403.0h0.85M293.1 390.6h0.85M292.7 408.6h0.85M277.2 394.6h0.85M278.6 400.2h0.85M283.4 407.2h0.85M291.0 407.6h0.85M291.8 376.5h0.85M279.3 425.2h0.85M280.1 414.3h0.85M278.6 428.1h0.85M280.3 435.1h0.85M283.1 393.2h0.85M283.9 397.7h0.85M280.9 415.8h0.85M282.7 398.3h0.85M288.7 400.6h0.85M277.4 417.4h0.85M282.1 393.7h0.85M285.1 406.9h0.85M291.2 417.5h0.85M274.5 401.1h0.85M296.0 413.7h0.85M282.2 402.8h0.85M286.4 385.0h0.85M291.8 397.5h0.85M290.3 401.6h0.85M293.5 399.9h0.85M286.4 404.3h0.85M284.8 408.7h0.85M287.5 407.3h0.85M277.0 406.0h0.85M294.7 398.5h0.85M278.8 401.0h0.85M274.9 399.1h0.85M283.9 420.1h0.85M275.6 380.5h0.85M282.4 383.6h0.85M293.5 396.0h0.85M278.4 412.9h0.85M283.0 399.7h0.85M271.5 420.0h0.85M269.7 391.6h0.85M277.2 399.4h0.85M284.4 395.2h0.85M291.4 402.9h0.85M276.7 398.1h0.85M293.1 403.6h0.85M280.2 415.9h0.85M283.8 404.3h0.85M273.2 403.1h0.85M273.2 398.8h0.85M278.8 393.7h0.85M275.5 384.7h0.85M285.0 389.4h0.85M279.4 402.4h0.85M295.0 378.9h0.85M286.2 409.8h0.85M286.3 396.8h0.85M294.1 390.5h0.85M289.1 395.2h0.85M284.7 409.7h0.85M284.3 406.2h0.85M284.0 404.9h0.85M293.6 423.1h0.85M291.3 430.2h0.85M287.9 386.7h0.85M291.4 412.9h0.85M280.6 393.3h0.85M289.1 386.0h0.85M273.7 396.4h0.85M295.8 415.2h0.85M285.7 399.3h0.85M286.5 397.5h0.85M289.8 420.4h0.85M284.9 409.7h0.85M283.0 402.8h0.85M294.5 425.8h0.85M285.9 409.9h0.85M277.7 395.4h0.85M288.5 391.2h0.85M271.4 399.3h0.85M283.6 415.9h0.85M285.4 414.8h0.85M285.9 415.9h0.85M290.0 405.8h0.85M293.7 391.5h0.85M284.0 407.2h0.85M286.1 408.7h0.85M294.8 414.3h0.85M287.2 389.7h0.85M291.0 427.6h0.85M289.9 382.5h0.85M275.9 403.9h0.85M278.1 420.6h0.85M263.9 416.9h0.85M282.9 392.7h0.85M295.7 411.7h0.85M276.1 419.1h0.85M294.9 413.2h0.85M293.0 392.3h0.85M284.6 424.4h0.85M284.9 384.5h0.85M285.7 404.6h0.85M278.1 391.1h0.85M282.7 398.8h0.85M284.6 400.0h0.85M289.9 410.0h0.85M291.3 388.6h0.85M279.1 406.5h0.85M291.6 419.6h0.85M278.8 404.8h0.85M283.6 410.4h0.85M288.0 409.0h0.85M284.8 394.8h0.85M284.0 399.3h0.85M287.2 404.4h0.85M280.6 409.6h0.85M279.8 428.4h0.85M283.4 423.5h0.85M292.7 398.1h0.85M284.2 398.5h0.85M286.7 375.8h0.85M261.2 419.6h0.85M281.5 410.2h0.85M285.1 403.9h0.85M281.5 432.3h0.85M278.0 409.7h0.85M295.6 409.9h0.85M293.0 406.3h0.85M290.4 394.6h0.85M288.4 389.7h0.85M296.5 393.8h0.85M291.6 405.7h0.85M275.2 401.0h0.85M291.1 412.4h0.85M286.4 425.3h0.85M284.1 411.2h0.85M291.1 414.2h0.85M285.2 399.8h0.85M261.5 388.4h0.85M293.3 413.0h0.85M284.0 418.5h0.85M282.0 399.6h0.85M286.8 383.6h0.85M274.7 420.2h0.85M287.5 378.0h0.85M283.2 402.2h0.85M282.2 397.7h0.85M277.6 406.9h0.85M279.6 414.0h0.85M293.9 414.2h0.85M295.7 378.6h0.85M289.0 416.2h0.85M284.6 381.0h0.85M278.0 412.4h0.85M290.7 398.8h0.85M272.1 397.7h0.85M294.4 388.1h0.85M267.7 404.0h0.85M282.3 415.6h0.85M288.1 413.9h0.85M274.1 404.7h0.85M272.9 417.6h0.85M286.5 410.3h0.85M292.0 430.5h0.85M281.2 410.5h0.85M295.8 397.0h0.85M278.8 400.7h0.85M286.0 400.7h0.85M286.9 402.5h0.85M289.9 412.6h0.85M287.6 413.7h0.85M289.4 395.2h0.85M283.7 397.5h0.85M275.6 374.2h0.85M279.0 394.7h0.85M285.1 398.1h0.85M284.2 435.5h0.85M284.7 387.7h0.85M285.0 405.0h0.85M289.0 400.1h0.85M274.2 384.9h0.85M276.8 407.4h0.85M294.0 404.3h0.85M291.7 386.4h0.85M280.7 375.7h0.85M295.4 403.5h0.85M279.6 386.7h0.85M283.0 412.4h0.85M270.4 400.8h0.85M291.8 410.7h0.85M284.9 400.5h0.85M293.6 423.1h0.85M290.7 412.7h0.85M285.8 423.0h0.85M286.3 405.8h0.85M294.6 391.9h0.85M283.8 387.1h0.85M283.9 398.3h0.85M285.6 408.0h0.85M291.5 396.8h0.85M292.5 434.5h0.85M284.5 410.2h0.85M295.3 405.6h0.85M280.0 389.3h0.85M290.1 417.6h0.85M286.3 412.6h0.85M290.2 393.3h0.85M281.7 405.0h0.85M290.0 404.3h0.85M288.1 419.2h0.85M282.8 388.0h0.85M283.0 413.1h0.85M277.8 420.5h0.85M286.5 395.0h0.85M293.2 421.2h0.85M276.1 408.0h0.85M276.7 418.9h0.85M284.2 414.3h0.85M284.2 418.2h0.85M291.8 402.9h0.85M277.4 379.1h0.85M289.7 412.5h0.85M278.1 412.8h0.85M292.7 398.7h0.85M277.7 425.2h0.85M288.2 402.2h0.85M288.3 415.4h0.85M279.9 404.3h0.85M286.8 409.3h0.85M293.8 405.1h0.85M276.0 393.9h0.85M285.3 423.3h0.85M278.4 394.0h0.85M279.8 386.0h0.85M290.9 399.0h0.85M291.0 406.8h0.85M296.4 401.0h0.85M295.7 399.5h0.85M284.1 378.8h0.85M283.0 412.8h0.85M286.5 426.4h0.85M267.2 396.1h0.85M280.0 414.2h0.85M276.9 402.9h0.85M281.7 355.9h0.85M292.3 395.7h0.85M295.3 387.0h0.85M282.3 390.5h0.85M288.8 429.6h0.85M284.8 417.2h0.85M277.3 403.1h0.85M286.6 405.3h0.85M285.5 424.6h0.85M272.9 391.6h0.85M294.0 414.3h0.85M272.7 397.3h0.85M287.1 415.6h0.85M276.8 408.0h0.85M278.7 396.0h0.85M279.6 418.4h0.85M290.8 412.0h0.85M275.2 428.1h0.85M283.7 400.3h0.85M279.6 396.7h0.85M284.9 420.4h0.85M290.5 395.9h0.85M280.5 405.1h0.85M288.9 421.4h0.85M279.9 411.8h0.85M290.7 408.9h0.85M285.6 408.5h0.85M277.6 409.4h0.85M296.4 413.3h0.85M284.4 401.4h0.85M282.9 380.5h0.85M277.7 421.8h0.85M281.4 392.0h0.85M284.4 428.0h0.85M286.5 408.7h0.85M274.6 419.8h0.85M282.3 410.4h0.85M294.7 416.6h0.85M286.6 387.8h0.85M288.4 407.3h0.85M287.8 405.3h0.85M288.8 379.6h0.85M284.8 377.7h0.85M293.5 405.5h0.85M279.3 399.4h0.85M289.5 403.7h0.85M275.9 396.7h0.85M293.8 398.8h0.85M290.5 413.3h0.85M283.8 401.8h0.85M281.9 413.4h0.85M270.7 395.9h0.85M291.2 382.1h0.85M284.1 396.4h0.85M282.6 402.8h0.85M290.8 390.6h0.85M279.7 399.7h0.85M280.3 398.3h0.85M279.5 416.1h0.85M274.2 415.0h0.85M283.4 394.9h0.85M282.2 408.7h0.85M292.2 420.5h0.85M259.8 406.7h0.85M284.7 403.6h0.85M285.1 394.9h0.85M277.2 414.8h0.85M288.6 406.6h0.85M268.7 416.9h0.85M284.9 402.6h0.85M291.9 430.1h0.85M267.0 404.1h0.85M273.1 389.2h0.85M283.3 407.0h0.85M284.3 410.5h0.85M279.2 420.4h0.85M287.1 398.5h0.85M286.1 397.7h0.85M273.3 401.1h0.85M283.2 399.5h0.85M273.7 378.1h0.85M267.3 413.4h0.85M264.5 420.0h0.85M292.0 395.0h0.85M282.7 392.2h0.85M272.0 394.3h0.85M280.8 414.3h0.85M286.3 396.7h0.85M282.5 412.1h0.85M287.6 389.1h0.85M284.8 387.0h0.85M278.7 385.2h0.85M265.0 386.9h0.85M276.1 409.9h0.85M289.9 406.4h0.85M294.8 407.2h0.85M279.1 377.1h0.85M282.3 418.4h0.85M276.8 389.2h0.85M287.0 420.8h0.85M284.4 434.6h0.85M287.6 405.4h0.85M277.3 412.3h0.85M289.9 388.3h0.85M272.8 390.6h0.85M292.8 396.0h0.85M280.5 406.5h0.85M283.4 415.0h0.85M285.1 406.0h0.85M283.8 398.3h0.85M280.0 387.1h0.85M274.6 405.0h0.85M286.2 403.9h0.85M277.2 387.0h0.85M280.0 417.3h0.85M283.8 392.8h0.85M289.4 395.7h0.85M278.3 407.4h0.85M289.4 391.3h0.85M272.1 409.4h0.85M294.9 410.3h0.85M279.3 398.8h0.85M288.9 395.3h0.85M273.0 408.5h0.85M286.8 421.6h0.85M281.4 414.5h0.85M286.5 409.4h0.85M276.7 417.2h0.85M277.4 421.3h0.85M280.4 389.4h0.85M278.3 404.4h0.85M279.0 420.0h0.85M282.3 396.9h0.85M275.0 399.2h0.85M282.7 412.6h0.85M287.7 402.3h0.85M265.4 420.0h0.85M285.4 401.2h0.85M277.9 412.5h0.85M274.8 436.1h0.85M273.0 419.3h0.85M276.9 388.4h0.85M277.8 392.3h0.85M286.5 392.7h0.85M273.6 404.5h0.85M292.0 387.8h0.85M277.1 412.0h0.85M289.2 426.3h0.85M292.4 424.4h0.85M274.0 395.7h0.85M292.4 401.6h0.85M280.4 394.8h0.85M288.7 425.9h0.85M283.1 396.5h0.85M284.9 391.2h0.85M282.8 409.4h0.85M280.4 409.0h0.85M290.2 423.7h0.85M291.6 423.8h0.85M284.6 402.6h0.85M296.7 379.0h0.85M293.4 413.2h0.85M290.3 414.7h0.85M279.0 426.9h0.85M295.4 390.4h0.85M267.6 423.9h0.85M276.0 424.7h0.85M281.0 420.6h0.85M292.4 404.4h0.85M294.8 420.5h0.85M282.6 397.8h0.85M286.9 389.2h0.85M290.5 403.8h0.85M274.7 405.8h0.85M289.7 414.4h0.85M282.5 417.9h0.85M286.4 382.8h0.85M284.6 407.9h0.85M275.5 410.4h0.85M277.0 388.8h0.85M285.3 401.1h0.85M286.0 405.0h0.85M282.9 409.8h0.85M293.5 393.7h0.85M282.1 396.9h0.85M275.3 390.7h0.85M282.2 408.4h0.85M283.6 400.1h0.85M284.0 397.0h0.85M294.3 412.0h0.85M289.1 402.1h0.85M293.4 389.4h0.85M290.0 418.1h0.85M283.7 416.1h0.85M293.3 409.8h0.85M282.9 391.4h0.85M287.0 417.7h0.85M277.0 396.9h0.85M285.8 381.2h0.85M282.4 402.6h0.85M288.0 426.2h0.85M293.2 420.9h0.85M284.8 406.4h0.85M291.7 400.3h0.85M286.9 404.3h0.85M280.2 411.2h0.85M284.6 397.9h0.85M283.1 408.4h0.85M280.2 410.9h0.85M296.1 399.5h0.85M280.7 412.9h0.85M281.1 411.0h0.85M290.7 400.2h0.85M279.5 401.9h0.85M275.9 405.5h0.85M278.3 402.3h0.85M288.9 401.6h0.85M288.1 391.7h0.85M287.5 405.4h0.85M281.4 413.1h0.85M277.8 411.9h0.85M292.3 394.2h0.85M273.5 411.0h0.85M283.4 411.6h0.85M274.5 393.0h0.85M281.9 410.5h0.85M283.9 402.1h0.85M294.9 399.7h0.85M262.2 407.0h0.85M296.1 401.7h0.85M278.1 377.3h0.85M287.5 406.7h0.85M291.6 390.7h0.85M279.0 403.1h0.85M284.5 412.4h0.85M289.1 401.3h0.85M284.2 398.8h0.85M279.3 405.8h0.85M286.7 410.1h0.85M286.1 394.1h0.85M273.2 396.5h0.85M296.1 410.1h0.85M287.0 423.3h0.85M265.9 404.1h0.85M278.6 414.6h0.85M287.4 404.9h0.85M271.8 388.6h0.85M283.4 403.8h0.85M293.8 401.8h0.85M288.4 373.4h0.85M282.6 402.9h0.85M279.4 407.4h0.85M291.9 406.8h0.85M283.6 407.7h0.85M287.9 390.5h0.85M289.3 394.9h0.85M286.8 393.3h0.85M287.4 398.1h0.85M271.0 418.3h0.85M294.2 393.1h0.85M292.4 399.6h0.85M285.2 425.6h0.85M267.1 402.1h0.85M280.8 391.7h0.85M285.9 406.8h0.85M290.1 405.5h0.85M291.7 384.1h0.85M291.9 407.3h0.85M296.0 408.5h0.85M276.2 428.6h0.85M278.5 412.2h0.85M275.9 399.0h0.85M283.0 408.0h0.85M282.5 412.3h0.85M286.1 402.7h0.85M277.1 404.0h0.85M286.0 420.8h0.85M278.4 410.4h0.85M281.0 393.2h0.85M275.7 419.5h0.85M292.9 399.5h0.85M290.1 412.6h0.85M272.9 421.7h0.85M290.1 392.2h0.85M284.5 418.9h0.85M288.0 407.9h0.85M278.4 419.0h0.85M284.7 401.0h0.85M288.5 397.1h0.85M283.8 420.7h0.85M280.4 410.4h0.85M284.0 406.0h0.85M277.4 391.9h0.85M288.0 421.1h0.85M264.7 401.5h0.85M285.7 397.3h0.85M289.0 405.6h0.85M292.1 412.5h0.85M275.3 404.7h0.85M276.2 398.9h0.85M289.0 423.0h0.85M287.8 424.6h0.85M295.7 401.9h0.85M285.1 394.9h0.85M273.9 408.4h0.85M287.8 386.2h0.85M265.4 408.2h0.85M283.6 408.5h0.85M281.5 407.2h0.85M282.9 426.9h0.85M281.5 410.5h0.85M279.1 401.0h0.85M278.3 417.4h0.85M280.7 418.7h0.85M289.9 391.1h0.85M274.5 396.6h0.85M283.4 402.2h0.85M273.4 385.6h0.85M283.8 392.1h0.85M286.4 424.5h0.85M275.2 390.3h0.85M280.5 415.2h0.85M285.9 395.7h0.85M291.2 416.9h0.85M292.7 409.0h0.85M284.1 415.9h0.85M277.0 388.8h0.85M272.0 408.7h0.85M291.3 398.5h0.85M296.2 414.3h0.85M287.9 413.7h0.85M281.4 403.7h0.85M281.9 405.1h0.85M276.9 399.2h0.85M289.8 400.1h0.85M288.1 397.6h0.85M286.2 392.8h0.85M277.9 389.6h0.85M281.6 420.5h0.85M268.2 413.5h0.85M276.6 385.0h0.85M280.9 383.6h0.85M281.9 405.4h0.85M283.4 392.6h0.85M287.4 406.8h0.85M279.6 416.4h0.85M269.1 409.4h0.85M286.2 402.6h0.85M288.4 403.0h0.85M275.7 422.5h0.85M278.7 400.9h0.85M293.2 429.3h0.85M293.7 401.0h0.85M290.4 408.8h0.85M286.2 425.6h0.85M280.9 397.2h0.85M289.6 410.5h0.85M283.4 417.9h0.85M281.4 393.3h0.85M284.9 409.9h0.85M284.3 407.1h0.85M292.1 399.4h0.85M277.3 423.8h0.85M276.9 432.6h0.85M281.6 414.1h0.85M292.6 397.4h0.85M278.3 408.8h0.85M281.1 396.7h0.85M285.2 415.4h0.85M261.1 413.5h0.85M280.9 391.8h0.85M277.2 400.9h0.85M283.0 411.3h0.85M289.0 406.5h0.85M290.1 394.2h0.85M296.6 421.8h0.85M293.3 388.2h0.85M284.7 423.0h0.85M293.4 381.6h0.85M277.0 404.0h0.85M284.2 397.7h0.85M296.6 399.0h0.85M291.4 407.6h0.85M273.8 391.8h0.85M280.2 404.2h0.85M292.3 425.2h0.85M290.0 410.8h0.85M293.7 422.9h0.85M270.8 415.6h0.85M274.8 386.3h0.85M283.0 426.3h0.85M277.2 415.5h0.85M284.8 413.1h0.85M285.2 401.0h0.85M287.9 399.3h0.85M284.1 393.1h0.85M289.6 403.6h0.85M291.4 406.8h0.85M286.4 403.6h0.85M275.3 403.6h0.85M295.6 382.6h0.85M286.9 396.5h0.85M288.6 396.1h0.85M286.5 408.9h0.85M272.2 400.0h0.85M289.8 400.0h0.85M279.9 406.3h0.85M275.3 399.7h0.85M295.5 402.0h0.85M282.7 418.1h0.85M287.5 403.3h0.85M292.3 394.6h0.85M270.5 414.6h0.85M279.2 412.6h0.85M290.6 389.8h0.85M279.8 416.2h0.85M258.9 405.8h0.85M286.3 406.8h0.85M287.0 406.3h0.85M291.5 410.6h0.85M287.0 411.0h0.85M281.6 422.5h0.85M286.9 408.2h0.85M284.9 404.3h0.85M281.1 412.8h0.85M287.2 404.1h0.85M288.0 418.1h0.85M277.0 407.2h0.85M293.4 414.0h0.85M291.8 399.4h0.85M291.5 416.9h0.85M263.0 412.7h0.85M286.1 395.5h0.85M284.1 401.0h0.85M277.1 406.4h0.85M289.8 390.1h0.85M273.0 392.7h0.85M295.0 411.0h0.85M288.2 411.2h0.85M281.1 421.0h0.85M296.6 390.4h0.85M288.8 401.1h0.85M287.8 381.8h0.85M274.6 425.6h0.85M289.4 389.9h0.85M296.5 402.4h0.85M294.0 427.6h0.85M274.7 421.8h0.85M296.3 395.2h0.85M291.9 410.4h0.85M282.0 393.2h0.85M272.9 408.2h0.85M277.7 412.6h0.85M280.4 412.4h0.85M287.2 380.4h0.85M289.4 426.4h0.85M279.0 386.4h0.85M271.8 402.5h0.85M281.6 421.6h0.85M274.2 409.6h0.85M295.6 404.6h0.85M274.9 397.9h0.85M288.7 411.7h0.85M291.5 421.0h0.85M276.9 398.6h0.85M267.6 376.0h0.85M254.5 388.4h0.85M253.7 372.0h0.85M264.9 377.7h0.85M276.1 367.6h0.85M258.3 359.9h0.85M278.0 375.4h0.85M263.8 371.1h0.85M281.1 377.2h0.85M263.4 375.3h0.85M255.0 378.6h0.85M252.9 365.0h0.85M262.6 376.9h0.85M265.9 366.4h0.85M248.3 377.1h0.85M258.7 370.5h0.85M239.3 388.3h0.85M239.1 366.6h0.85M271.8 355.0h0.85M267.2 375.1h0.85M275.8 370.2h0.85M263.6 366.2h0.85M265.3 375.8h0.85M291.4 387.8h0.85M247.6 372.6h0.85M266.0 368.0h0.85M287.1 385.8h0.85M270.5 374.0h0.85M259.5 369.2h0.85M244.0 379.8h0.85M258.6 367.9h0.85M263.7 368.5h0.85M261.4 366.8h0.85M269.4 378.2h0.85M270.4 386.3h0.85M253.4 374.1h0.85M246.5 388.5h0.85M256.3 357.1h0.85M268.1 373.3h0.85M287.7 359.2h0.85M234.4 381.0h0.85M278.4 384.3h0.85M256.3 358.5h0.85M278.8 367.0h0.85M291.6 373.9h0.85M269.0 360.8h0.85M242.2 365.9h0.85M254.0 364.7h0.85M266.7 373.7h0.85M255.4 366.6h0.85M259.7 363.3h0.85M248.1 366.1h0.85M257.1 371.8h0.85M250.6 373.3h0.85M274.7 371.0h0.85M265.7 382.7h0.85M272.7 369.5h0.85M234.1 373.4h0.85M253.3 377.6h0.85M248.6 369.7h0.85M253.6 383.8h0.85M246.4 379.0h0.85M248.9 379.3h0.85M286.3 365.4h0.85M256.3 371.6h0.85M240.2 377.5h0.85M255.8 381.6h0.85M272.1 368.6h0.85M245.5 361.9h0.85M256.5 360.4h0.85M259.4 382.0h0.85M261.1 372.9h0.85M230.5 377.6h0.85M245.2 382.1h0.85M257.8 372.9h0.85M232.5 374.1h0.85M257.5 364.6h0.85M261.7 368.2h0.85M273.1 376.8h0.85M277.7 384.8h0.85M257.5 381.8h0.85M264.1 367.6h0.85M271.5 367.0h0.85M276.9 379.2h0.85M261.7 377.4h0.85M248.3 377.9h0.85M270.1 375.6h0.85M274.3 384.1h0.85M262.9 375.8h0.85M269.8 385.5h0.85M286.4 378.1h0.85M252.4 373.8h0.85M249.2 364.4h0.85M242.9 376.3h0.85M266.2 381.1h0.85M275.9 375.2h0.85M252.4 365.7h0.85M290.0 358.4h0.85M251.2 371.4h0.85M265.0 388.3h0.85M258.8 364.5h0.85M283.1 369.9h0.85M250.4 375.1h0.85M287.4 381.7h0.85M257.9 365.7h0.85M238.9 374.1h0.85M251.5 376.2h0.85M258.1 364.1h0.85M288.0 377.1h0.85M252.9 365.3h0.85M260.5 375.1h0.85M263.2 374.5h0.85M250.4 363.5h0.85M248.6 379.5h0.85M235.3 379.7h0.85M266.3 375.0h0.85M280.2 380.5h0.85M254.6 370.0h0.85M243.3 366.9h0.85M264.9 372.3h0.85M260.5 377.7h0.85M258.1 381.1h0.85M267.6 368.0h0.85M260.8 375.5h0.85M254.3 375.1h0.85M276.4 369.7h0.85M230.0 357.1h0.85M241.7 359.6h0.85M255.5 381.4h0.85M238.0 361.1h0.85M284.4 358.8h0.85M271.3 370.7h0.85M269.1 384.0h0.85M265.4 376.5h0.85M266.7 369.5h0.85M250.5 370.8h0.85M248.0 377.0h0.85M282.8 373.8h0.85M257.3 359.0h0.85M235.9 383.5h0.85M239.6 381.0h0.85M234.6 364.7h0.85M264.0 371.5h0.85M278.3 377.1h0.85M254.6 375.8h0.85M262.0 370.8h0.85M251.5 374.2h0.85M274.2 388.5h0.85M274.1 371.1h0.85M275.0 381.8h0.85M289.2 375.8h0.85M240.0 364.2h0.85M273.2 379.0h0.85M234.9 376.7h0.85M272.0 383.4h0.85M273.6 387.0h0.85M272.2 382.6h0.85M273.5 376.6h0.85M258.4 378.4h0.85M250.3 380.9h0.85M273.1 367.4h0.85M250.6 365.7h0.85M272.3 380.4h0.85M247.0 364.8h0.85M266.3 371.7h0.85M265.5 388.7h0.85M247.3 381.5h0.85M255.7 384.2h0.85M275.8 373.6h0.85M261.5 383.4h0.85M269.4 367.0h0.85M252.1 367.3h0.85M262.8 372.5h0.85M237.2 368.1h0.85M248.5 384.5h0.85M281.2 372.4h0.85M269.8 364.1h0.85M261.2 381.1h0.85M263.2 379.6h0.85M239.3 383.5h0.85M267.7 363.9h0.85M241.2 366.7h0.85M249.1 355.1h0.85M272.1 376.7h0.85M248.9 372.9h0.85M252.5 368.9h0.85M259.3 384.6h0.85M262.3 367.3h0.85M282.3 369.3h0.85M233.0 366.2h0.85M253.9 365.0h0.85M270.0 372.9h0.85M252.5 371.7h0.85M254.0 370.3h0.85M247.2 364.0h0.85M255.3 362.1h0.85M270.7 368.1h0.85M280.3 372.5h0.85M265.9 365.8h0.85M282.4 369.4h0.85M261.9 370.0h0.85M233.5 365.2h0.85M272.4 360.5h0.85M259.2 386.1h0.85M260.2 377.0h0.85M241.9 372.1h0.85M256.9 367.3h0.85M251.4 367.9h0.85M262.4 382.0h0.85M255.3 363.8h0.85M270.0 388.1h0.85M254.1 373.9h0.85M269.9 376.1h0.85M260.2 370.7h0.85M264.1 381.7h0.85M262.1 381.5h0.85M252.5 367.7h0.85M278.1 389.0h0.85M269.5 375.5h0.85M240.6 378.0h0.85M287.5 376.6h0.85M255.7 375.5h0.85M267.1 383.0h0.85M267.5 364.2h0.85M252.8 372.3h0.85M256.6 372.8h0.85M262.7 374.3h0.85M274.8 359.2h0.85M261.7 376.1h0.85M259.4 374.5h0.85M244.3 389.9h0.85M252.6 366.9h0.85M253.2 369.9h0.85M257.8 377.7h0.85M248.1 373.9h0.85M242.3 381.2h0.85M254.7 384.0h0.85M235.3 374.9h0.85M246.1 379.4h0.85M265.4 367.7h0.85M247.9 392.5h0.85M241.4 376.5h0.85M269.6 375.3h0.85M256.6 361.3h0.85M280.3 368.3h0.85M255.0 357.4h0.85M247.0 379.5h0.85M252.4 367.3h0.85M286.5 374.4h0.85M282.8 376.9h0.85M260.6 375.4h0.85M274.7 370.3h0.85M235.9 379.9h0.85M278.0 364.4h0.85M263.4 358.1h0.85M256.6 361.3h0.85M258.3 379.8h0.85M261.9 385.2h0.85M250.6 367.9h0.85M251.6 368.9h0.85M238.2 376.8h0.85M282.4 362.2h0.85M243.1 369.1h0.85M254.7 361.3h0.85M273.5 373.7h0.85M276.4 348.8h0.85M279.6 360.5h0.85M247.3 358.5h0.85M249.4 372.4h0.85M255.3 377.0h0.85M270.1 390.2h0.85M230.0 373.3h0.85M253.8 364.9h0.85M270.3 369.1h0.85M269.1 378.5h0.85M248.6 376.8h0.85M270.2 391.0h0.85M272.8 374.7h0.85M251.3 363.9h0.85M266.0 379.7h0.85M262.4 349.7h0.85M252.1 376.3h0.85M253.8 380.1h0.85M292.4 369.3h0.85M249.7 375.1h0.85M272.4 384.0h0.85M236.6 385.5h0.85M264.1 384.7h0.85M272.3 381.3h0.85M249.2 371.8h0.85M246.1 363.2h0.85M285.7 355.4h0.85M253.2 388.0h0.85M272.9 381.8h0.85M233.6 362.4h0.85M284.1 382.3h0.85M242.5 368.8h0.85M247.9 363.0h0.85M256.7 390.5h0.85M260.8 361.6h0.85M283.5 363.6h0.85M291.4 379.0h0.85M288.3 380.1h0.85M271.6 377.6h0.85M261.9 364.5h0.85M257.3 365.9h0.85M249.4 369.0h0.85M268.8 388.5h0.85M242.6 375.6h0.85M245.5 379.9h0.85M246.9 365.6h0.85M269.2 368.7h0.85M261.6 377.1h0.85M242.5 383.5h0.85M231.3 372.0h0.85M249.8 386.0h0.85M248.7 393.6h0.85M250.1 358.2h0.85M260.2 373.4h0.85M270.6 379.0h0.85M271.5 371.5h0.85M248.2 387.5h0.85M246.7 374.4h0.85M283.3 376.3h0.85M255.2 359.9h0.85M270.7 381.8h0.85M262.2 370.6h0.85M265.4 377.0h0.85M284.9 371.1h0.85M255.6 367.4h0.85M277.2 371.8h0.85M268.1 362.5h0.85M257.2 371.2h0.85M252.2 382.6h0.85M251.2 381.3h0.85M278.3 365.0h0.85M275.7 380.3h0.85M246.2 370.0h0.85M266.3 367.7h0.85M230.7 378.2h0.85M260.8 379.3h0.85M292.9 367.9h0.85M240.7 381.1h0.85M264.8 373.1h0.85M250.0 391.5h0.85M261.3 360.6h0.85M242.9 371.2h0.85M263.0 370.8h0.85M255.7 361.7h0.85M254.8 383.7h0.85M258.3 375.7h0.85M292.3 361.6h0.85M241.1 368.6h0.85M248.6 370.0h0.85M237.7 376.0h0.85M267.7 364.9h0.85M259.8 385.8h0.85M240.6 373.5h0.85M274.6 385.5h0.85M263.9 378.0h0.85M282.5 371.2h0.85M271.7 372.0h0.85M260.8 376.8h0.85M246.8 374.9h0.85M249.6 380.0h0.85M277.5 384.0h0.85M255.4 364.9h0.85M245.5 359.7h0.85M263.1 365.8h0.85M271.0 383.9h0.85M243.0 368.2h0.85M253.3 376.5h0.85M240.5 379.7h0.85M247.1 364.1h0.85M273.7 365.2h0.85M257.1 373.1h0.85M235.1 372.6h0.85M280.4 367.2h0.85M287.5 392.7h0.85M271.6 384.0h0.85M242.6 372.2h0.85M241.3 379.2h0.85M279.6 363.3h0.85M242.2 381.4h0.85M249.4 371.9h0.85M234.9 367.5h0.85M289.7 361.9h0.85M247.6 380.5h0.85M255.8 374.1h0.85M246.3 368.5h0.85M247.4 382.0h0.85M239.4 371.4h0.85M276.4 375.7h0.85M247.2 369.4h0.85M282.0 377.0h0.85M237.4 363.7h0.85M266.0 370.0h0.85M273.9 373.9h0.85M239.3 366.5h0.85M262.1 368.8h0.85M248.8 379.6h0.85M240.1 369.3h0.85M251.0 382.4h0.85M253.1 373.7h0.85M232.6 360.8h0.85M268.6 386.2h0.85M282.6 385.9h0.85M280.7 376.0h0.85M245.8 374.8h0.85M255.6 374.2h0.85M290.2 370.1h0.85M278.7 371.5h0.85M268.2 377.0h0.85M252.4 373.2h0.85M265.6 358.7h0.85M250.7 367.9h0.85M259.4 360.3h0.85M279.3 378.1h0.85M236.9 363.4h0.85M239.3 395.6h0.85M258.7 371.7h0.85M279.4 366.3h0.85M245.5 370.8h0.85M248.6 373.0h0.85M247.6 375.8h0.85M267.8 375.7h0.85M267.8 382.4h0.85M233.4 383.3h0.85M270.7 373.8h0.85M243.7 376.4h0.85M233.8 367.0h0.85M265.6 368.2h0.85M230.0 370.1h0.85M249.2 384.7h0.85M242.3 367.4h0.85M254.2 375.0h0.85M260.3 374.4h0.85M249.2 380.1h0.85M242.5 368.3h0.85M247.9 370.1h0.85M254.4 375.6h0.85M290.9 369.0h0.85M262.8 383.5h0.85M276.3 374.6h0.85M257.5 369.3h0.85M257.8 381.4h0.85M265.2 388.6h0.85M269.0 370.3h0.85M268.5 365.3h0.85M244.0 353.7h0.85M258.4 389.1h0.85M233.1 369.1h0.85M275.4 371.1h0.85M257.6 365.2h0.85M253.4 372.2h0.85M237.0 364.8h0.85M266.0 386.6h0.85M274.9 379.6h0.85M266.8 369.2h0.85M276.8 363.4h0.85M245.4 378.7h0.85M273.9 366.6h0.85M258.5 384.5h0.85M263.2 373.4h0.85M241.9 363.7h0.85M256.2 375.8h0.85M247.6 362.6h0.85M244.1 383.6h0.85M276.5 357.1h0.85M249.7 370.7h0.85M262.0 393.7h0.85M270.8 369.6h0.85M252.7 380.0h0.85M238.4 382.7h0.85M260.4 376.8h0.85M257.8 372.8h0.85M244.4 382.6h0.85M261.5 382.9h0.85M281.1 369.2h0.85M276.0 387.3h0.85M285.9 385.1h0.85M283.2 365.5h0.85M263.4 378.5h0.85M260.4 378.9h0.85M241.9 375.4h0.85M280.1 368.9h0.85M250.7 364.0h0.85M269.9 378.4h0.85M288.2 360.7h0.85M262.4 369.4h0.85M235.3 357.8h0.85M242.9 368.2h0.85M254.4 375.5h0.85M282.7 362.2h0.85M254.8 380.7h0.85M257.9 382.1h0.85M242.1 377.7h0.85M266.0 379.8h0.85M261.8 386.6h0.85M273.6 380.5h0.85M244.1 360.0h0.85M270.2 373.0h0.85M236.1 367.2h0.85M248.5 374.5h0.85M250.5 360.1h0.85M256.3 374.8h0.85M266.4 372.1h0.85M258.1 366.2h0.85M252.8 372.1h0.85M237.0 356.5h0.85M254.2 372.9h0.85M267.0 373.8h0.85M251.8 363.0h0.85M251.2 374.2h0.85M270.9 362.6h0.85M246.8 378.0h0.85M277.3 367.1h0.85M266.1 370.5h0.85M266.9 387.9h0.85M269.7 378.8h0.85M280.8 386.8h0.85M247.8 382.7h0.85M279.2 373.3h0.85M245.0 387.2h0.85M266.2 376.5h0.85M270.2 374.1h0.85M262.5 370.6h0.85M241.3 364.3h0.85M239.5 378.9h0.85M241.4 372.4h0.85M259.3 378.1h0.85M263.0 373.4h0.85M269.5 379.5h0.85M234.4 369.5h0.85M265.4 376.6h0.85M277.3 383.1h0.85M262.9 385.5h0.85M260.0 374.7h0.85M274.0 366.9h0.85M286.9 387.2h0.85M285.3 385.2h0.85M286.2 369.5h0.85M239.1 386.0h0.85M284.8 379.6h0.85M255.3 367.6h0.85M274.9 376.4h0.85M250.6 365.0h0.85M266.9 372.2h0.85M251.1 372.0h0.85M255.9 374.7h0.85M293.2 384.5h0.85M240.6 363.0h0.85M277.3 349.6h0.85M261.9 381.0h0.85M242.2 372.7h0.85M283.0 383.0h0.85M261.4 382.3h0.85M251.6 389.1h0.85M266.6 358.7h0.85M247.5 388.2h0.85M289.1 374.9h0.85M236.0 371.1h0.85M252.4 388.3h0.85M265.2 363.7h0.85M274.8 370.0h0.85M276.7 387.4h0.85M287.1 363.6h0.85M261.0 378.5h0.85M253.5 379.7h0.85M276.7 373.9h0.85M251.2 371.0h0.85M267.0 382.1h0.85M253.4 373.6h0.85M249.2 367.2h0.85M260.5 380.6h0.85M280.3 362.8h0.85M276.8 371.5h0.85M263.9 379.0h0.85M261.8 387.6h0.85M268.1 378.2h0.85M270.9 374.8h0.85M249.7 366.6h0.85M278.7 376.9h0.85M267.4 372.4h0.85M229.9 378.3h0.85M274.5 370.4h0.85M289.4 377.5h0.85M266.4 362.5h0.85M248.6 362.1h0.85M292.5 368.3h0.85M278.9 357.8h0.85M231.1 372.3h0.85M279.7 374.8h0.85M268.7 360.0h0.85M266.7 372.4h0.85M232.1 368.4h0.85M233.4 368.0h0.85M264.6 384.4h0.85M264.5 373.4h0.85M263.1 368.6h0.85M251.1 369.4h0.85M254.7 372.6h0.85M278.7 373.9h0.85M248.2 371.7h0.85M292.8 382.5h0.85M269.1 371.7h0.85M266.2 373.0h0.85M258.6 388.3h0.85M248.4 375.8h0.85M256.2 381.0h0.85M235.7 379.8h0.85M261.3 370.7h0.85M258.5 375.4h0.85M233.6 375.0h0.85M263.6 377.4h0.85M261.1 381.1h0.85M249.6 356.4h0.85M263.2 385.6h0.85M245.2 357.0h0.85M256.5 363.8h0.85M255.6 379.4h0.85M266.9 372.5h0.85M249.3 379.7h0.85M263.5 364.0h0.85M276.9 378.8h0.85M261.8 367.0h0.85M268.0 367.9h0.85M254.7 375.2h0.85M273.8 378.2h0.85M258.3 353.0h0.85M262.5 371.0h0.85M260.4 376.4h0.85M250.1 386.2h0.85M243.8 364.4h0.85M268.3 374.9h0.85M270.0 364.8h0.85M258.6 365.9h0.85M280.7 368.6h0.85M261.8 387.8h0.85M267.9 378.6h0.85M278.3 382.1h0.85M271.8 373.1h0.85M256.7 383.3h0.85M241.4 374.4h0.85M246.9 380.4h0.85M242.0 361.9h0.85M273.2 366.9h0.85M293.8 392.6h0.85M244.8 390.5h0.85M278.1 365.8h0.85M259.2 430.9h0.85M258.2 434.6h0.85M268.1 424.7h0.85M257.6 407.5h0.85M256.3 414.7h0.85M273.9 426.4h0.85M259.0 421.2h0.85M256.2 419.4h0.85M261.6 401.2h0.85M272.8 430.4h0.85M267.4 403.7h0.85M245.1 396.1h0.85M258.4 431.2h0.85M232.6 416.5h0.85M244.4 386.1h0.85M258.0 420.8h0.85M277.6 422.0h0.85M264.0 405.0h0.85M274.0 405.5h0.85M248.2 430.1h0.85M278.2 401.5h0.85M267.0 398.6h0.85M250.7 386.9h0.85M251.9 419.0h0.85M255.6 438.8h0.85M237.0 419.1h0.85M236.2 396.0h0.85M247.2 421.8h0.85M262.1 431.0h0.85M256.6 408.9h0.85M283.4 424.1h0.85M273.6 416.0h0.85M275.7 405.8h0.85M252.5 391.7h0.85M255.0 414.6h0.85M266.9 436.6h0.85M295.7 418.7h0.85M256.9 435.2h0.85M287.9 422.8h0.85M256.3 436.7h0.85M276.3 415.6h0.85M278.2 406.4h0.85M270.1 404.1h0.85M270.6 409.5h0.85M256.5 422.2h0.85M235.7 431.9h0.85M260.5 408.8h0.85M260.6 437.2h0.85M286.7 410.5h0.85M261.6 434.3h0.85M264.8 408.3h0.85M268.1 415.8h0.85M249.8 428.2h0.85M263.0 415.4h0.85M257.8 425.5h0.85M242.9 431.4h0.85M260.6 403.6h0.85M275.4 413.8h0.85M258.1 438.3h0.85M252.5 435.0h0.85M271.8 425.9h0.85M236.6 424.2h0.85M259.9 408.4h0.85M258.9 421.5h0.85M246.6 409.2h0.85M257.9 400.2h0.85M274.2 415.7h0.85M262.0 415.6h0.85M275.8 426.5h0.85M268.2 406.3h0.85M240.8 415.7h0.85M273.5 436.5h0.85M258.2 423.1h0.85M260.5 414.3h0.85M261.6 438.4h0.85M280.6 421.2h0.85M252.2 432.0h0.85M251.5 403.7h0.85M235.5 424.8h0.85M269.7 404.9h0.85M251.7 418.9h0.85M253.6 425.8h0.85M257.8 411.9h0.85M250.3 439.3h0.85M234.9 418.4h0.85M282.6 394.4h0.85M269.1 420.4h0.85M270.1 399.6h0.85M262.7 411.1h0.85M258.0 406.6h0.85M262.5 418.7h0.85M264.8 392.2h0.85M266.1 410.7h0.85M283.5 421.8h0.85M244.0 407.6h0.85M238.5 393.0h0.85M252.1 424.2h0.85M268.1 416.0h0.85M261.8 400.9h0.85M230.6 397.5h0.85M267.6 412.5h0.85M280.2 426.5h0.85M254.7 399.5h0.85M269.3 410.3h0.85M262.0 439.3h0.85M249.0 416.3h0.85M276.8 420.4h0.85M258.6 417.4h0.85M238.4 438.3h0.85M272.8 403.8h0.85M287.7 419.0h0.85M246.6 414.6h0.85M265.1 402.6h0.85M276.7 417.0h0.85M236.8 438.2h0.85M263.1 403.0h0.85M238.2 438.6h0.85M230.0 412.7h0.85M258.8 426.3h0.85M274.0 422.9h0.85M257.6 403.3h0.85M257.9 421.3h0.85M270.9 410.1h0.85M262.4 436.6h0.85M270.8 437.3h0.85M271.4 423.2h0.85M265.1 421.7h0.85M265.8 421.7h0.85M268.3 437.5h0.85M256.5 422.0h0.85M254.2 400.1h0.85M248.5 423.5h0.85M250.8 403.2h0.85M274.8 428.9h0.85M278.0 420.3h0.85M259.0 438.2h0.85M259.0 437.8h0.85M281.5 414.6h0.85M263.4 431.0h0.85M288.9 401.8h0.85M242.7 423.2h0.85M237.9 395.3h0.85M263.0 433.6h0.85M262.8 410.3h0.85M254.7 425.5h0.85M237.4 408.7h0.85M259.8 428.8h0.85M253.6 417.9h0.85M268.0 406.3h0.85M263.4 423.0h0.85M248.4 417.2h0.85M253.8 407.2h0.85M271.8 409.9h0.85M256.4 423.5h0.85M247.9 404.8h0.85M253.2 424.9h0.85M285.1 425.4h0.85M291.4 412.7h0.85M267.0 425.1h0.85M270.3 403.7h0.85M266.5 420.6h0.85M263.8 410.6h0.85M292.2 428.7h0.85M264.9 411.3h0.85M267.6 429.4h0.85M246.2 414.2h0.85M237.3 428.7h0.85M263.4 436.2h0.85M268.2 420.3h0.85M282.9 419.6h0.85M243.1 402.0h0.85M248.0 396.4h0.85M264.0 420.0h0.85M275.0 409.0h0.85M277.3 429.0h0.85M246.5 412.9h0.85M254.4 433.0h0.85M250.9 409.5h0.85M245.4 407.9h0.85M239.9 408.8h0.85M267.7 418.5h0.85M246.3 421.4h0.85M286.8 425.6h0.85M250.7 385.7h0.85M272.6 426.1h0.85M275.3 403.5h0.85M252.3 393.8h0.85M266.4 430.2h0.85M264.7 400.9h0.85M248.1 428.9h0.85M255.7 436.2h0.85M291.1 415.0h0.85M265.5 416.3h0.85M268.2 392.5h0.85M232.6 407.7h0.85M266.0 427.3h0.85M253.3 429.5h0.85M238.1 430.4h0.85M245.7 427.1h0.85M247.8 428.2h0.85M229.7 429.2h0.85M269.7 395.9h0.85M287.8 411.8h0.85M229.9 426.9h0.85M245.7 397.3h0.85M267.9 427.9h0.85M261.6 403.6h0.85M247.1 431.0h0.85M272.1 436.4h0.85M246.7 395.8h0.85M262.6 417.0h0.85M278.8 426.4h0.85M284.0 426.1h0.85M265.3 395.8h0.85M236.6 403.3h0.85M247.0 412.1h0.85M242.7 415.2h0.85M281.5 408.1h0.85M261.2 408.4h0.85M245.0 414.1h0.85M272.3 425.7h0.85M244.2 404.1h0.85M278.9 416.1h0.85M250.4 428.4h0.85M266.4 406.1h0.85M277.4 411.9h0.85M243.1 395.5h0.85M270.8 413.8h0.85M266.7 414.3h0.85M265.4 427.5h0.85M243.5 417.6h0.85M263.5 399.0h0.85M250.5 420.1h0.85M267.1 401.2h0.85M230.8 406.8h0.85M258.1 407.7h0.85M241.3 437.8h0.85M278.7 394.8h0.85M243.8 422.7h0.85M252.0 432.9h0.85M267.7 430.1h0.85M245.2 417.2h0.85M276.2 418.6h0.85M245.3 416.0h0.85M244.3 416.7h0.85M251.9 413.0h0.85M253.5 400.3h0.85M283.8 429.4h0.85M273.9 410.0h0.85M272.6 421.7h0.85M245.8 421.1h0.85M266.1 434.8h0.85M257.3 424.8h0.85M250.4 421.3h0.85M279.4 401.7h0.85M265.6 401.0h0.85M263.3 398.9h0.85M235.9 433.9h0.85M256.0 410.2h0.85M263.5 418.6h0.85M272.0 405.0h0.85M256.3 417.3h0.85M259.3 410.8h0.85M243.0 403.2h0.85M229.5 411.7h0.85M252.4 401.4h0.85M252.7 415.2h0.85M255.1 413.9h0.85M288.6 418.3h0.85M254.1 440.2h0.85M287.8 415.6h0.85M251.8 436.6h0.85M273.1 434.7h0.85M249.5 409.6h0.85M253.7 405.7h0.85M284.8 408.7h0.85M268.6 428.2h0.85M237.8 420.4h0.85" stroke="#000" stroke-opacity="0.33" stroke-width="0.85" fill="none"/>
<rect x="204.2" y="335.3" width="110.2" height="109.9" fill="none" stroke="#141414" stroke-width="1.2"/>
<line x1="257" y1="335.3" x2="257" y2="445.2" stroke="#000" stroke-width="1.2"/>
<line x1="204.2" y1="388.1" x2="314.4" y2="388.1" stroke="#000" stroke-width="1.2"/>
<line x1="201.6" y1="345.6" x2="204.2" y2="345.6" stroke="#141414" stroke-width="0.8"/>
<text transform="translate(199.6 347.3)" font-size="5.2" text-anchor="end" stroke="#151515" stroke-width="0.12">10<tspan font-size="3.8" dy="-2.3">5</tspan></text>
<line x1="201.6" y1="369.6" x2="204.2" y2="369.6" stroke="#141414" stroke-width="0.8"/>
<text transform="translate(199.6 371.3)" font-size="5.2" text-anchor="end" stroke="#151515" stroke-width="0.12">10<tspan font-size="3.8" dy="-2.3">4</tspan></text>
<line x1="201.6" y1="394.8" x2="204.2" y2="394.8" stroke="#141414" stroke-width="0.8"/>
<text transform="translate(199.6 396.5)" font-size="5.2" text-anchor="end" stroke="#151515" stroke-width="0.12">10<tspan font-size="3.8" dy="-2.3">3</tspan></text>
<line x1="201.6" y1="421.1" x2="204.2" y2="421.1" stroke="#141414" stroke-width="0.8"/>
<text transform="translate(199.6 422.8)" font-size="5.2" text-anchor="end" stroke="#151515" stroke-width="0.12">10<tspan font-size="3.8" dy="-2.3">2</tspan></text>
<line x1="201.6" y1="433.2" x2="204.2" y2="433.2" stroke="#141414" stroke-width="0.8"/>
<text transform="translate(199.6 434.9)" font-size="5.2" text-anchor="end" stroke="#151515" stroke-width="0.12">0</text>
<line x1="202.9" y1="337.1" x2="204.2" y2="337.1" stroke="#141414" stroke-width="0.6"/>
<line x1="202.9" y1="339.65" x2="204.2" y2="339.65" stroke="#141414" stroke-width="0.6"/>
<line x1="202.9" y1="342.2" x2="204.2" y2="342.2" stroke="#141414" stroke-width="0.6"/>
<line x1="202.9" y1="344.75" x2="204.2" y2="344.75" stroke="#141414" stroke-width="0.6"/>
<line x1="202.9" y1="347.3" x2="204.2" y2="347.3" stroke="#141414" stroke-width="0.6"/>
<line x1="202.9" y1="349.85" x2="204.2" y2="349.85" stroke="#141414" stroke-width="0.6"/>
<line x1="202.9" y1="352.4" x2="204.2" y2="352.4" stroke="#141414" stroke-width="0.6"/>
<line x1="202.9" y1="354.95" x2="204.2" y2="354.95" stroke="#141414" stroke-width="0.6"/>
<line x1="202.9" y1="357.5" x2="204.2" y2="357.5" stroke="#141414" stroke-width="0.6"/>
<line x1="202.9" y1="360.05" x2="204.2" y2="360.05" stroke="#141414" stroke-width="0.6"/>
<line x1="202.9" y1="362.6" x2="204.2" y2="362.6" stroke="#141414" stroke-width="0.6"/>
<line x1="202.9" y1="365.15" x2="204.2" y2="365.15" stroke="#141414" stroke-width="0.6"/>
<line x1="202.9" y1="367.7" x2="204.2" y2="367.7" stroke="#141414" stroke-width="0.6"/>
<line x1="202.9" y1="370.25" x2="204.2" y2="370.25" stroke="#141414" stroke-width="0.6"/>
<line x1="202.9" y1="372.8" x2="204.2" y2="372.8" stroke="#141414" stroke-width="0.6"/>
<line x1="202.9" y1="375.35" x2="204.2" y2="375.35" stroke="#141414" stroke-width="0.6"/>
<line x1="202.9" y1="377.9" x2="204.2" y2="377.9" stroke="#141414" stroke-width="0.6"/>
<line x1="202.9" y1="380.45" x2="204.2" y2="380.45" stroke="#141414" stroke-width="0.6"/>
<line x1="202.9" y1="383" x2="204.2" y2="383" stroke="#141414" stroke-width="0.6"/>
<line x1="202.9" y1="385.55" x2="204.2" y2="385.55" stroke="#141414" stroke-width="0.6"/>
<line x1="202.9" y1="388.1" x2="204.2" y2="388.1" stroke="#141414" stroke-width="0.6"/>
<line x1="202.9" y1="390.65" x2="204.2" y2="390.65" stroke="#141414" stroke-width="0.6"/>
<line x1="202.9" y1="393.2" x2="204.2" y2="393.2" stroke="#141414" stroke-width="0.6"/>
<line x1="202.9" y1="395.75" x2="204.2" y2="395.75" stroke="#141414" stroke-width="0.6"/>
<line x1="202.9" y1="398.3" x2="204.2" y2="398.3" stroke="#141414" stroke-width="0.6"/>
<line x1="202.9" y1="400.85" x2="204.2" y2="400.85" stroke="#141414" stroke-width="0.6"/>
<line x1="202.9" y1="403.4" x2="204.2" y2="403.4" stroke="#141414" stroke-width="0.6"/>
<line x1="202.9" y1="405.95" x2="204.2" y2="405.95" stroke="#141414" stroke-width="0.6"/>
<line x1="202.9" y1="408.5" x2="204.2" y2="408.5" stroke="#141414" stroke-width="0.6"/>
<line x1="202.9" y1="411.05" x2="204.2" y2="411.05" stroke="#141414" stroke-width="0.6"/>
<line x1="202.9" y1="413.6" x2="204.2" y2="413.6" stroke="#141414" stroke-width="0.6"/>
<line x1="202.9" y1="416.15" x2="204.2" y2="416.15" stroke="#141414" stroke-width="0.6"/>
<line x1="202.9" y1="418.7" x2="204.2" y2="418.7" stroke="#141414" stroke-width="0.6"/>
<line x1="202.9" y1="421.25" x2="204.2" y2="421.25" stroke="#141414" stroke-width="0.6"/>
<line x1="202.9" y1="423.8" x2="204.2" y2="423.8" stroke="#141414" stroke-width="0.6"/>
<line x1="202.9" y1="426.35" x2="204.2" y2="426.35" stroke="#141414" stroke-width="0.6"/>
<line x1="202.9" y1="428.9" x2="204.2" y2="428.9" stroke="#141414" stroke-width="0.6"/>
<line x1="202.9" y1="431.45" x2="204.2" y2="431.45" stroke="#141414" stroke-width="0.6"/>
<line x1="202.9" y1="434" x2="204.2" y2="434" stroke="#141414" stroke-width="0.6"/>
<line x1="202.9" y1="436.55" x2="204.2" y2="436.55" stroke="#141414" stroke-width="0.6"/>
<line x1="202.9" y1="439.1" x2="204.2" y2="439.1" stroke="#141414" stroke-width="0.6"/>
<line x1="202.9" y1="441.65" x2="204.2" y2="441.65" stroke="#141414" stroke-width="0.6"/>
<line x1="215.8" y1="445.2" x2="215.8" y2="447.8" stroke="#141414" stroke-width="0.8"/>
<text transform="translate(216.6 454.8)" font-size="5.2" text-anchor="middle" stroke="#151515" stroke-width="0.12">0</text>
<line x1="226.4" y1="445.2" x2="226.4" y2="447.8" stroke="#141414" stroke-width="0.8"/>
<text transform="translate(227.2 454.8)" font-size="5.2" text-anchor="middle" stroke="#151515" stroke-width="0.12">10<tspan font-size="3.8" dy="-2.3">2</tspan></text>
<line x1="252.7" y1="445.2" x2="252.7" y2="447.8" stroke="#141414" stroke-width="0.8"/>
<text transform="translate(253.5 454.8)" font-size="5.2" text-anchor="middle" stroke="#151515" stroke-width="0.12">10<tspan font-size="3.8" dy="-2.3">3</tspan></text>
<line x1="279" y1="445.2" x2="279" y2="447.8" stroke="#141414" stroke-width="0.8"/>
<text transform="translate(279.8 454.8)" font-size="5.2" text-anchor="middle" stroke="#151515" stroke-width="0.12">10<tspan font-size="3.8" dy="-2.3">4</tspan></text>
<line x1="302.9" y1="445.2" x2="302.9" y2="447.8" stroke="#141414" stroke-width="0.8"/>
<text transform="translate(303.7 454.8)" font-size="5.2" text-anchor="middle" stroke="#151515" stroke-width="0.12">10<tspan font-size="3.8" dy="-2.3">5</tspan></text>
<line x1="206" y1="445.2" x2="206" y2="446.5" stroke="#141414" stroke-width="0.6"/>
<line x1="208.55" y1="445.2" x2="208.55" y2="446.5" stroke="#141414" stroke-width="0.6"/>
<line x1="211.1" y1="445.2" x2="211.1" y2="446.5" stroke="#141414" stroke-width="0.6"/>
<line x1="213.65" y1="445.2" x2="213.65" y2="446.5" stroke="#141414" stroke-width="0.6"/>
<line x1="216.2" y1="445.2" x2="216.2" y2="446.5" stroke="#141414" stroke-width="0.6"/>
<line x1="218.75" y1="445.2" x2="218.75" y2="446.5" stroke="#141414" stroke-width="0.6"/>
<line x1="221.3" y1="445.2" x2="221.3" y2="446.5" stroke="#141414" stroke-width="0.6"/>
<line x1="223.85" y1="445.2" x2="223.85" y2="446.5" stroke="#141414" stroke-width="0.6"/>
<line x1="226.4" y1="445.2" x2="226.4" y2="446.5" stroke="#141414" stroke-width="0.6"/>
<line x1="228.95" y1="445.2" x2="228.95" y2="446.5" stroke="#141414" stroke-width="0.6"/>
<line x1="231.5" y1="445.2" x2="231.5" y2="446.5" stroke="#141414" stroke-width="0.6"/>
<line x1="234.05" y1="445.2" x2="234.05" y2="446.5" stroke="#141414" stroke-width="0.6"/>
<line x1="236.6" y1="445.2" x2="236.6" y2="446.5" stroke="#141414" stroke-width="0.6"/>
<line x1="239.15" y1="445.2" x2="239.15" y2="446.5" stroke="#141414" stroke-width="0.6"/>
<line x1="241.7" y1="445.2" x2="241.7" y2="446.5" stroke="#141414" stroke-width="0.6"/>
<line x1="244.25" y1="445.2" x2="244.25" y2="446.5" stroke="#141414" stroke-width="0.6"/>
<line x1="246.8" y1="445.2" x2="246.8" y2="446.5" stroke="#141414" stroke-width="0.6"/>
<line x1="249.35" y1="445.2" x2="249.35" y2="446.5" stroke="#141414" stroke-width="0.6"/>
<line x1="251.9" y1="445.2" x2="251.9" y2="446.5" stroke="#141414" stroke-width="0.6"/>
<line x1="254.45" y1="445.2" x2="254.45" y2="446.5" stroke="#141414" stroke-width="0.6"/>
<line x1="257" y1="445.2" x2="257" y2="446.5" stroke="#141414" stroke-width="0.6"/>
<line x1="259.55" y1="445.2" x2="259.55" y2="446.5" stroke="#141414" stroke-width="0.6"/>
<line x1="262.1" y1="445.2" x2="262.1" y2="446.5" stroke="#141414" stroke-width="0.6"/>
<line x1="264.65" y1="445.2" x2="264.65" y2="446.5" stroke="#141414" stroke-width="0.6"/>
<line x1="267.2" y1="445.2" x2="267.2" y2="446.5" stroke="#141414" stroke-width="0.6"/>
<line x1="269.75" y1="445.2" x2="269.75" y2="446.5" stroke="#141414" stroke-width="0.6"/>
<line x1="272.3" y1="445.2" x2="272.3" y2="446.5" stroke="#141414" stroke-width="0.6"/>
<line x1="274.85" y1="445.2" x2="274.85" y2="446.5" stroke="#141414" stroke-width="0.6"/>
<line x1="277.4" y1="445.2" x2="277.4" y2="446.5" stroke="#141414" stroke-width="0.6"/>
<line x1="279.95" y1="445.2" x2="279.95" y2="446.5" stroke="#141414" stroke-width="0.6"/>
<line x1="282.5" y1="445.2" x2="282.5" y2="446.5" stroke="#141414" stroke-width="0.6"/>
<line x1="285.05" y1="445.2" x2="285.05" y2="446.5" stroke="#141414" stroke-width="0.6"/>
<line x1="287.6" y1="445.2" x2="287.6" y2="446.5" stroke="#141414" stroke-width="0.6"/>
<line x1="290.15" y1="445.2" x2="290.15" y2="446.5" stroke="#141414" stroke-width="0.6"/>
<line x1="292.7" y1="445.2" x2="292.7" y2="446.5" stroke="#141414" stroke-width="0.6"/>
<line x1="295.25" y1="445.2" x2="295.25" y2="446.5" stroke="#141414" stroke-width="0.6"/>
<line x1="297.8" y1="445.2" x2="297.8" y2="446.5" stroke="#141414" stroke-width="0.6"/>
<line x1="300.35" y1="445.2" x2="300.35" y2="446.5" stroke="#141414" stroke-width="0.6"/>
<line x1="302.9" y1="445.2" x2="302.9" y2="446.5" stroke="#141414" stroke-width="0.6"/>
<line x1="305.45" y1="445.2" x2="305.45" y2="446.5" stroke="#141414" stroke-width="0.6"/>
<line x1="308" y1="445.2" x2="308" y2="446.5" stroke="#141414" stroke-width="0.6"/>
<line x1="310.55" y1="445.2" x2="310.55" y2="446.5" stroke="#141414" stroke-width="0.6"/>
<line x1="313.1" y1="445.2" x2="313.1" y2="446.5" stroke="#141414" stroke-width="0.6"/>
<text transform="translate(259.1 330.5) scale(0.950 1)" font-size="8.2" text-anchor="middle" stroke="#151515" stroke-width="0.35">LSK gated</text>
<text transform="translate(188.8 389.9) rotate(-90) scale(0.913 1)" font-size="10.2" text-anchor="middle" stroke="#151515" stroke-width="0.35">CD150</text>
<text transform="translate(259.2 466.4) scale(0.909 1)" font-size="10.2" text-anchor="middle" stroke="#151515" stroke-width="0.35">CD41/CD48</text>
</svg></body></html>
